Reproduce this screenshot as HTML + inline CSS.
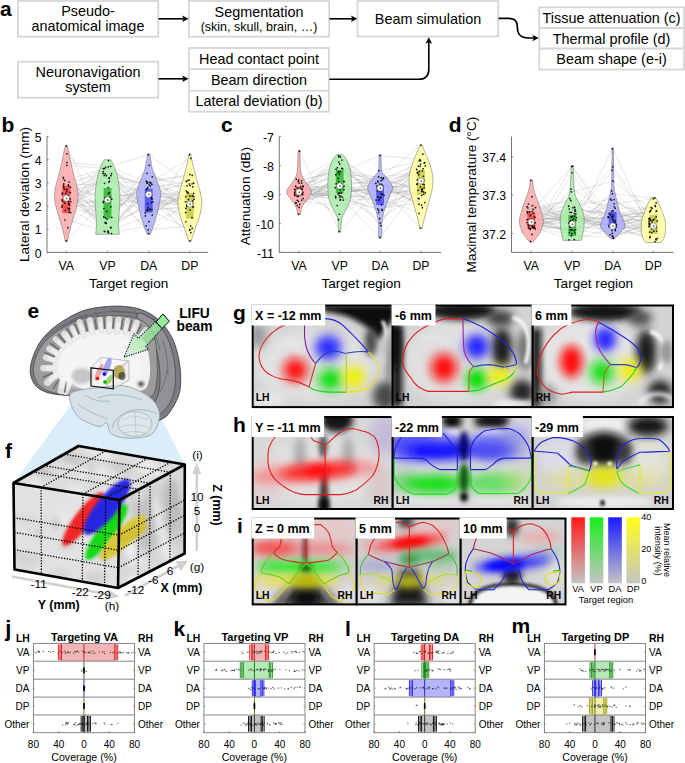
<!DOCTYPE html><html><head><meta charset="utf-8"><style>
html,body{margin:0;padding:0;background:#fff;}
svg{display:block;}
text{font-family:"Liberation Sans",sans-serif;}
</style></head><body>
<svg width="685" height="763" viewBox="0 0 685 763">
<defs><linearGradient id="arrg" x1="1" y1="0" x2="0" y2="1"><stop offset="0" stop-color="#8ee88e" stop-opacity="0.9"/><stop offset="1" stop-color="#b8e8b8" stop-opacity="0.5"/></linearGradient><clipPath id="cubeclip"><polygon points="13.5,483 78.5,446 184.8,464.5 184.6,553.5 118,588 14.5,569.5"/></clipPath><clipPath id="c1"><rect x="252.7" y="305.5" width="140.0" height="101.60000000000002"/></clipPath><clipPath id="c2"><rect x="392.7" y="305.5" width="140.00000000000006" height="101.60000000000002"/></clipPath><clipPath id="c3"><rect x="532.7" y="305.5" width="140.29999999999995" height="101.60000000000002"/></clipPath><clipPath id="c4"><rect x="252.7" y="417" width="140.0" height="92"/></clipPath><clipPath id="c5"><rect x="392.7" y="417" width="140.00000000000006" height="92"/></clipPath><clipPath id="c6"><rect x="532.7" y="417" width="140.29999999999995" height="92"/></clipPath><clipPath id="c7"><rect x="252.7" y="518.5" width="104.0" height="85.89999999999998"/></clipPath><clipPath id="c8"><rect x="356.7" y="518.5" width="104.0" height="85.89999999999998"/></clipPath><clipPath id="c9"><rect x="460.7" y="518.5" width="104.80000000000001" height="85.89999999999998"/></clipPath><linearGradient id="cb0" x1="0" y1="0" x2="0" y2="1"><stop offset="0" stop-color="#ff1a1a"/><stop offset="1" stop-color="#c4c4c4"/></linearGradient><linearGradient id="cb1" x1="0" y1="0" x2="0" y2="1"><stop offset="0" stop-color="#1aee1a"/><stop offset="1" stop-color="#c4c4c4"/></linearGradient><linearGradient id="cb2" x1="0" y1="0" x2="0" y2="1"><stop offset="0" stop-color="#1a1aff"/><stop offset="1" stop-color="#c4c4c4"/></linearGradient><linearGradient id="cb3" x1="0" y1="0" x2="0" y2="1"><stop offset="0" stop-color="#ffff1a"/><stop offset="1" stop-color="#c4c4c4"/></linearGradient><filter id="b0_5" x="-100%" y="-100%" width="300%" height="300%"><feGaussianBlur stdDeviation="0.5"/></filter><filter id="b1_2" x="-100%" y="-100%" width="300%" height="300%"><feGaussianBlur stdDeviation="1.2"/></filter><filter id="b1_5" x="-100%" y="-100%" width="300%" height="300%"><feGaussianBlur stdDeviation="1.5"/></filter><filter id="b1_6" x="-100%" y="-100%" width="300%" height="300%"><feGaussianBlur stdDeviation="1.6"/></filter><filter id="b2" x="-100%" y="-100%" width="300%" height="300%"><feGaussianBlur stdDeviation="2"/></filter><filter id="b2_5" x="-100%" y="-100%" width="300%" height="300%"><feGaussianBlur stdDeviation="2.5"/></filter><filter id="b3" x="-100%" y="-100%" width="300%" height="300%"><feGaussianBlur stdDeviation="3"/></filter><filter id="b4" x="-100%" y="-100%" width="300%" height="300%"><feGaussianBlur stdDeviation="4"/></filter><filter id="b5" x="-100%" y="-100%" width="300%" height="300%"><feGaussianBlur stdDeviation="5"/></filter><filter id="b5_5" x="-100%" y="-100%" width="300%" height="300%"><feGaussianBlur stdDeviation="5.5"/></filter><filter id="b6" x="-100%" y="-100%" width="300%" height="300%"><feGaussianBlur stdDeviation="6"/></filter><filter id="b8" x="-100%" y="-100%" width="300%" height="300%"><feGaussianBlur stdDeviation="8"/></filter></defs>
<text x="0.0" y="15.5" font-size="21" text-anchor="start" font-weight="bold" fill="#000" >a</text>
<rect x="18" y="1" width="140.2" height="35.7" fill="#fff" stroke="#d6d6d6" stroke-width="1.8"/>
<text x="88.0" y="15.5" font-size="14.4" text-anchor="middle" fill="#000" >Pseudo-</text>
<text x="88.0" y="31.0" font-size="14.4" text-anchor="middle" fill="#000" >anatomical image</text>
<rect x="18" y="61.7" width="140.2" height="36.0" fill="#fff" stroke="#d6d6d6" stroke-width="1.8"/>
<text x="88.0" y="76.5" font-size="14.4" text-anchor="middle" fill="#000" >Neuronavigation</text>
<text x="88.0" y="92.0" font-size="14.4" text-anchor="middle" fill="#000" >system</text>
<rect x="188.9" y="1" width="140.29999999999998" height="35.7" fill="#fff" stroke="#d6d6d6" stroke-width="1.8"/>
<text x="259.0" y="16.5" font-size="14.4" text-anchor="middle" fill="#000" >Segmentation</text>
<text x="259.0" y="31.0" font-size="12.5" text-anchor="middle" fill="#000" >(skin, skull, brain, …)</text>
<rect x="188.9" y="48" width="140.1" height="63.7" fill="#fff" stroke="#d6d6d6" stroke-width="1.8"/>
<line x1="188.9" y1="69.2" x2="329" y2="69.2" stroke="#d6d6d6" stroke-width="1.8"/>
<line x1="188.9" y1="90.7" x2="329" y2="90.7" stroke="#d6d6d6" stroke-width="1.8"/>
<text x="259.0" y="63.5" font-size="14.4" text-anchor="middle" fill="#000" >Head contact point</text>
<text x="259.0" y="85.0" font-size="14.4" text-anchor="middle" fill="#000" >Beam direction</text>
<text x="259.0" y="106.0" font-size="14.4" text-anchor="middle" fill="#000" >Lateral deviation (b)</text>
<rect x="357.5" y="1" width="140.7" height="35.5" fill="#fff" stroke="#d6d6d6" stroke-width="1.8"/>
<text x="428.0" y="24.0" font-size="14.4" text-anchor="middle" fill="#000" >Beam simulation</text>
<rect x="539.2" y="7.3" width="144.79999999999995" height="62.2" fill="#fff" stroke="#d6d6d6" stroke-width="1.8"/>
<line x1="539.2" y1="28" x2="684" y2="28" stroke="#d6d6d6" stroke-width="1.8"/>
<line x1="539.2" y1="48.5" x2="684" y2="48.5" stroke="#d6d6d6" stroke-width="1.8"/>
<text x="611.5" y="22.5" font-size="14.4" text-anchor="middle" fill="#000" >Tissue attenuation (c)</text>
<text x="611.5" y="43.5" font-size="14.4" text-anchor="middle" fill="#000" >Thermal profile (d)</text>
<text x="611.5" y="64.0" font-size="14.4" text-anchor="middle" fill="#000" >Beam shape (e-i)</text>
<line x1="158.5" y1="18.8" x2="184" y2="18.8" stroke="#000" stroke-width="1.6" fill="none"/>
<polygon points="188.6,18.8 182.1,15.5 183.6,18.8 182.1,22.1" fill="#000"/>
<line x1="158.5" y1="78.8" x2="184" y2="78.8" stroke="#000" stroke-width="1.6" fill="none"/>
<polygon points="188.6,78.8 182.1,75.5 183.6,78.8 182.1,82.1" fill="#000"/>
<line x1="329.5" y1="18.8" x2="353" y2="18.8" stroke="#000" stroke-width="1.6" fill="none"/>
<polygon points="357.4,18.8 350.9,15.5 352.4,18.8 350.9,22.1" fill="#000"/>
<path d="M329.5 79.3 H418.8 Q428.8 79.3 428.8 69.3 V42" stroke="#000" stroke-width="1.6" fill="none"/>
<polygon points="428.8,37.2 425.5,43.7 428.8,42.2 432.1,43.7" fill="#000"/>
<path d="M498.5 18.4 H508 C516 18.4 517.4 22 517.4 28 C517.4 34 521 38 528 38 H534" stroke="#000" stroke-width="1.6" fill="none"/>
<polygon points="538.8,38 532.3,34.7 533.8,38 532.3,41.3" fill="#000"/>
<text x="1.5" y="132.0" font-size="21" text-anchor="start" font-weight="bold" fill="#000" >b</text>
<polyline points="66.3,201.4 107.5,202.6 148.7,208.8 189.9,196.6" fill="none" stroke="#8a8a8a" stroke-width="0.32" stroke-opacity="0.65"/>
<polyline points="66.3,204.9 107.5,187.5 148.7,209.9 189.9,206.5" fill="none" stroke="#8a8a8a" stroke-width="0.32" stroke-opacity="0.65"/>
<polyline points="66.3,203.2 107.5,181.3 148.7,194.2 189.9,201.7" fill="none" stroke="#8a8a8a" stroke-width="0.32" stroke-opacity="0.65"/>
<polyline points="66.3,220.0 107.5,231.3 148.7,201.8 189.9,217.7" fill="none" stroke="#8a8a8a" stroke-width="0.32" stroke-opacity="0.65"/>
<polyline points="66.3,193.1 107.5,177.9 148.7,213.1 189.9,192.0" fill="none" stroke="#8a8a8a" stroke-width="0.32" stroke-opacity="0.65"/>
<polyline points="66.3,194.1 107.5,168.6 148.7,192.3 189.9,184.0" fill="none" stroke="#8a8a8a" stroke-width="0.32" stroke-opacity="0.65"/>
<polyline points="66.3,208.7 107.5,160.6 148.7,210.6 189.9,207.0" fill="none" stroke="#8a8a8a" stroke-width="0.32" stroke-opacity="0.65"/>
<polyline points="66.3,185.2 107.5,198.5 148.7,202.7 189.9,203.4" fill="none" stroke="#8a8a8a" stroke-width="0.32" stroke-opacity="0.65"/>
<polyline points="66.3,183.9 107.5,219.2 148.7,176.8 189.9,185.6" fill="none" stroke="#8a8a8a" stroke-width="0.32" stroke-opacity="0.65"/>
<polyline points="66.3,153.9 107.5,192.6 148.7,229.8 189.9,226.1" fill="none" stroke="#8a8a8a" stroke-width="0.32" stroke-opacity="0.65"/>
<polyline points="66.3,212.3 107.5,173.4 148.7,209.4 189.9,186.8" fill="none" stroke="#8a8a8a" stroke-width="0.32" stroke-opacity="0.65"/>
<polyline points="66.3,198.8 107.5,222.9 148.7,173.3 189.9,192.8" fill="none" stroke="#8a8a8a" stroke-width="0.32" stroke-opacity="0.65"/>
<polyline points="66.3,192.5 107.5,227.5 148.7,192.2 189.9,196.1" fill="none" stroke="#8a8a8a" stroke-width="0.32" stroke-opacity="0.65"/>
<polyline points="66.3,201.6 107.5,171.5 148.7,209.4 189.9,229.6" fill="none" stroke="#8a8a8a" stroke-width="0.32" stroke-opacity="0.65"/>
<polyline points="66.3,146.1 107.5,233.5 148.7,225.8 189.9,202.5" fill="none" stroke="#8a8a8a" stroke-width="0.32" stroke-opacity="0.65"/>
<polyline points="66.3,191.8 107.5,181.9 148.7,182.6 189.9,175.3" fill="none" stroke="#8a8a8a" stroke-width="0.32" stroke-opacity="0.65"/>
<polyline points="66.3,178.8 107.5,227.6 148.7,203.9 189.9,204.8" fill="none" stroke="#8a8a8a" stroke-width="0.32" stroke-opacity="0.65"/>
<polyline points="66.3,227.6 107.5,193.9 148.7,197.4 189.9,208.3" fill="none" stroke="#8a8a8a" stroke-width="0.32" stroke-opacity="0.65"/>
<polyline points="66.3,190.0 107.5,174.0 148.7,186.1 189.9,240.8" fill="none" stroke="#8a8a8a" stroke-width="0.32" stroke-opacity="0.65"/>
<polyline points="66.3,203.3 107.5,222.4 148.7,194.8 189.9,196.4" fill="none" stroke="#8a8a8a" stroke-width="0.32" stroke-opacity="0.65"/>
<polyline points="66.3,185.3 107.5,183.3 148.7,233.5 189.9,199.5" fill="none" stroke="#8a8a8a" stroke-width="0.32" stroke-opacity="0.65"/>
<polyline points="66.3,165.3 107.5,168.5 148.7,188.5 189.9,180.5" fill="none" stroke="#8a8a8a" stroke-width="0.32" stroke-opacity="0.65"/>
<polyline points="66.3,189.2 107.5,216.9 148.7,182.3 189.9,209.9" fill="none" stroke="#8a8a8a" stroke-width="0.32" stroke-opacity="0.65"/>
<polyline points="66.3,240.8 107.5,197.6 148.7,184.4 189.9,228.4" fill="none" stroke="#8a8a8a" stroke-width="0.32" stroke-opacity="0.65"/>
<polyline points="66.3,193.6 107.5,232.1 148.7,189.6 189.9,205.5" fill="none" stroke="#8a8a8a" stroke-width="0.32" stroke-opacity="0.65"/>
<polyline points="66.3,162.5 107.5,166.3 148.7,182.9 189.9,195.9" fill="none" stroke="#8a8a8a" stroke-width="0.32" stroke-opacity="0.65"/>
<polyline points="66.3,189.5 107.5,232.8 148.7,183.1 189.9,212.6" fill="none" stroke="#8a8a8a" stroke-width="0.32" stroke-opacity="0.65"/>
<polyline points="66.3,187.3 107.5,166.8 148.7,154.7 189.9,183.8" fill="none" stroke="#8a8a8a" stroke-width="0.32" stroke-opacity="0.65"/>
<polyline points="66.3,186.1 107.5,231.6 148.7,184.8 189.9,185.8" fill="none" stroke="#8a8a8a" stroke-width="0.32" stroke-opacity="0.65"/>
<polyline points="66.3,212.5 107.5,208.5 148.7,194.4 189.9,192.5" fill="none" stroke="#8a8a8a" stroke-width="0.32" stroke-opacity="0.65"/>
<polyline points="66.3,187.2 107.5,199.2 148.7,196.9 189.9,180.0" fill="none" stroke="#8a8a8a" stroke-width="0.32" stroke-opacity="0.65"/>
<polyline points="66.3,210.3 107.5,178.4 148.7,195.3 189.9,199.2" fill="none" stroke="#8a8a8a" stroke-width="0.32" stroke-opacity="0.65"/>
<polyline points="66.3,208.2 107.5,175.5 148.7,183.2 189.9,158.5" fill="none" stroke="#8a8a8a" stroke-width="0.32" stroke-opacity="0.65"/>
<polyline points="66.3,199.9 107.5,201.5 148.7,187.7 189.9,230.0" fill="none" stroke="#8a8a8a" stroke-width="0.32" stroke-opacity="0.65"/>
<polyline points="66.3,207.2 107.5,231.2 148.7,215.9 189.9,154.7" fill="none" stroke="#8a8a8a" stroke-width="0.32" stroke-opacity="0.65"/>
<polyline points="66.3,180.4 107.5,167.3 148.7,198.8 189.9,232.6" fill="none" stroke="#8a8a8a" stroke-width="0.32" stroke-opacity="0.65"/>
<polyline points="66.3,192.4 107.5,223.5 148.7,207.6 189.9,193.4" fill="none" stroke="#8a8a8a" stroke-width="0.32" stroke-opacity="0.65"/>
<polyline points="66.3,204.4 107.5,175.7 148.7,215.0 189.9,191.1" fill="none" stroke="#8a8a8a" stroke-width="0.32" stroke-opacity="0.65"/>
<polyline points="66.3,209.8 107.5,197.0 148.7,192.6 189.9,206.8" fill="none" stroke="#8a8a8a" stroke-width="0.32" stroke-opacity="0.65"/>
<polyline points="66.3,182.0 107.5,173.6 148.7,221.6 189.9,181.4" fill="none" stroke="#8a8a8a" stroke-width="0.32" stroke-opacity="0.65"/>
<polyline points="66.3,195.4 107.5,217.4 148.7,181.0 189.9,174.5" fill="none" stroke="#8a8a8a" stroke-width="0.32" stroke-opacity="0.65"/>
<polyline points="66.3,205.7 107.5,206.7 148.7,198.9 189.9,202.7" fill="none" stroke="#8a8a8a" stroke-width="0.32" stroke-opacity="0.65"/>
<polyline points="66.3,201.6 107.5,175.7 148.7,210.2 189.9,183.1" fill="none" stroke="#8a8a8a" stroke-width="0.32" stroke-opacity="0.65"/>
<polyline points="66.3,185.1 107.5,211.5 148.7,181.8 189.9,201.0" fill="none" stroke="#8a8a8a" stroke-width="0.32" stroke-opacity="0.65"/>
<polyline points="66.3,177.2 107.5,217.8 148.7,165.3 189.9,221.8" fill="none" stroke="#8a8a8a" stroke-width="0.32" stroke-opacity="0.65"/>
<path d="M67.10 145.30 L67.22 145.75 L67.38 146.32 L67.57 147.03 L67.80 147.87 L68.04 148.86 L68.30 150.00 L68.57 151.30 L68.85 152.76 L69.16 154.36 L69.49 156.10 L69.87 157.98 L70.30 160.00 L70.80 162.23 L71.36 164.70 L71.96 167.31 L72.58 169.96 L73.20 172.56 L73.80 175.00 L74.42 177.33 L75.07 179.63 L75.72 181.88 L76.34 184.04 L76.88 186.09 L77.30 188.00 L77.61 189.73 L77.83 191.30 L77.97 192.75 L78.05 194.15 L78.07 195.55 L78.05 197.00 L77.98 198.47 L77.86 199.89 L77.69 201.31 L77.46 202.78 L77.16 204.33 L76.80 206.00 L76.35 207.83 L75.80 209.78 L75.19 211.81 L74.55 213.89 L73.91 215.97 L73.30 218.00 L72.71 220.00 L72.10 222.01 L71.49 224.03 L70.89 226.03 L70.33 228.02 L69.80 230.00 L69.30 232.09 L68.80 234.33 L68.33 236.55 L67.91 238.61 L67.56 240.34 L67.30 241.60 L65.30 241.60 L65.04 240.34 L64.69 238.61 L64.27 236.55 L63.80 234.33 L63.30 232.09 L62.80 230.00 L62.27 228.02 L61.71 226.03 L61.11 224.03 L60.50 222.01 L59.89 220.00 L59.30 218.00 L58.69 215.97 L58.05 213.89 L57.41 211.81 L56.80 209.78 L56.25 207.83 L55.80 206.00 L55.44 204.33 L55.14 202.78 L54.91 201.31 L54.74 199.89 L54.62 198.47 L54.55 197.00 L54.53 195.55 L54.55 194.15 L54.63 192.75 L54.77 191.30 L54.99 189.73 L55.30 188.00 L55.72 186.09 L56.26 184.04 L56.88 181.88 L57.53 179.63 L58.18 177.33 L58.80 175.00 L59.40 172.56 L60.02 169.96 L60.64 167.31 L61.24 164.70 L61.80 162.23 L62.30 160.00 L62.73 157.98 L63.11 156.10 L63.44 154.36 L63.75 152.76 L64.03 151.30 L64.30 150.00 L64.56 148.86 L64.80 147.87 L65.03 147.03 L65.22 146.32 L65.38 145.75 L65.50 145.30Z" fill="#ffa8a8" fill-opacity="0.85" stroke="#555" stroke-width="0.45"/>
<rect x="62.40" y="185.9" width="7.8" height="27.20" fill="#ff4040" fill-opacity="0.85"/>
<circle cx="66.27" cy="146.10" r="0.85" fill="#111"/>
<circle cx="66.27" cy="240.80" r="0.85" fill="#111"/>
<circle cx="68.01" cy="208.23" r="0.85" fill="#111"/>
<circle cx="68.28" cy="195.44" r="0.85" fill="#111"/>
<circle cx="69.01" cy="182.05" r="0.85" fill="#111"/>
<circle cx="65.45" cy="210.30" r="0.85" fill="#111"/>
<circle cx="68.94" cy="204.36" r="0.85" fill="#111"/>
<circle cx="70.48" cy="187.29" r="0.85" fill="#111"/>
<circle cx="70.73" cy="201.59" r="0.85" fill="#111"/>
<circle cx="68.29" cy="185.06" r="0.85" fill="#111"/>
<circle cx="62.39" cy="193.12" r="0.85" fill="#111"/>
<circle cx="69.43" cy="208.65" r="0.85" fill="#111"/>
<circle cx="67.99" cy="227.65" r="0.85" fill="#111"/>
<circle cx="61.95" cy="199.92" r="0.85" fill="#111"/>
<circle cx="64.75" cy="203.21" r="0.85" fill="#111"/>
<circle cx="64.93" cy="219.98" r="0.85" fill="#111"/>
<circle cx="68.46" cy="185.18" r="0.85" fill="#111"/>
<circle cx="66.91" cy="162.49" r="0.85" fill="#111"/>
<circle cx="64.34" cy="189.19" r="0.85" fill="#111"/>
<circle cx="63.48" cy="178.77" r="0.85" fill="#111"/>
<circle cx="63.32" cy="177.24" r="0.85" fill="#111"/>
<circle cx="62.66" cy="201.43" r="0.85" fill="#111"/>
<circle cx="68.92" cy="203.28" r="0.85" fill="#111"/>
<circle cx="70.22" cy="192.43" r="0.85" fill="#111"/>
<circle cx="63.78" cy="183.93" r="0.85" fill="#111"/>
<circle cx="68.50" cy="201.63" r="0.85" fill="#111"/>
<circle cx="70.36" cy="192.48" r="0.85" fill="#111"/>
<circle cx="63.53" cy="185.28" r="0.85" fill="#111"/>
<circle cx="66.95" cy="189.47" r="0.85" fill="#111"/>
<circle cx="65.75" cy="193.56" r="0.85" fill="#111"/>
<circle cx="70.57" cy="212.50" r="0.85" fill="#111"/>
<circle cx="69.63" cy="204.92" r="0.85" fill="#111"/>
<circle cx="61.94" cy="207.18" r="0.85" fill="#111"/>
<circle cx="63.61" cy="187.22" r="0.85" fill="#111"/>
<circle cx="69.43" cy="209.82" r="0.85" fill="#111"/>
<circle cx="66.77" cy="165.30" r="0.85" fill="#111"/>
<circle cx="66.51" cy="189.96" r="0.85" fill="#111"/>
<circle cx="69.09" cy="212.25" r="0.85" fill="#111"/>
<circle cx="68.68" cy="186.08" r="0.85" fill="#111"/>
<circle cx="70.39" cy="198.80" r="0.85" fill="#111"/>
<circle cx="64.74" cy="180.38" r="0.85" fill="#111"/>
<circle cx="62.23" cy="205.69" r="0.85" fill="#111"/>
<circle cx="66.94" cy="153.87" r="0.85" fill="#111"/>
<circle cx="62.25" cy="194.08" r="0.85" fill="#111"/>
<circle cx="66.89" cy="191.77" r="0.85" fill="#111"/>
<circle cx="66.3" cy="198.1" r="3.1" fill="#fff" stroke="#777" stroke-width="0.6"/>
<circle cx="66.6" cy="198.29999999999998" r="0.9" fill="#666"/>
<path d="M110.90 159.80 L111.17 160.31 L111.54 160.97 L111.98 161.78 L112.47 162.72 L112.98 163.80 L113.50 165.00 L114.04 166.33 L114.64 167.79 L115.26 169.39 L115.87 171.12 L116.46 172.99 L117.00 175.00 L117.50 177.23 L117.99 179.70 L118.45 182.31 L118.87 184.96 L119.22 187.56 L119.50 190.00 L119.69 192.29 L119.80 194.52 L119.86 196.69 L119.86 198.81 L119.84 200.91 L119.80 203.00 L119.73 205.08 L119.60 207.15 L119.45 209.19 L119.29 211.19 L119.13 213.13 L119.00 215.00 L118.88 216.79 L118.76 218.51 L118.65 220.17 L118.56 221.79 L118.50 223.40 L118.50 225.00 L118.57 226.70 L118.70 228.50 L118.87 230.28 L119.04 231.91 L119.20 233.30 L119.30 234.30 L95.70 234.30 L95.80 233.30 L95.96 231.91 L96.13 230.28 L96.30 228.50 L96.43 226.70 L96.50 225.00 L96.50 223.40 L96.44 221.79 L96.35 220.17 L96.24 218.51 L96.12 216.79 L96.00 215.00 L95.87 213.13 L95.71 211.19 L95.55 209.19 L95.40 207.15 L95.27 205.08 L95.20 203.00 L95.16 200.91 L95.14 198.81 L95.14 196.69 L95.20 194.52 L95.31 192.29 L95.50 190.00 L95.78 187.56 L96.13 184.96 L96.55 182.31 L97.01 179.70 L97.50 177.23 L98.00 175.00 L98.54 172.99 L99.13 171.12 L99.74 169.39 L100.36 167.79 L100.96 166.33 L101.50 165.00 L102.02 163.80 L102.53 162.72 L103.02 161.78 L103.46 160.97 L103.83 160.31 L104.10 159.80Z" fill="#a8eca8" fill-opacity="0.85" stroke="#555" stroke-width="0.45"/>
<rect x="103.60" y="188" width="7.8" height="30.60" fill="#2fb52f" fill-opacity="0.85"/>
<circle cx="108.59" cy="160.60" r="0.85" fill="#111"/>
<circle cx="111.46" cy="233.50" r="0.85" fill="#111"/>
<circle cx="104.77" cy="197.63" r="0.85" fill="#111"/>
<circle cx="111.55" cy="173.56" r="0.85" fill="#111"/>
<circle cx="110.94" cy="206.73" r="0.85" fill="#111"/>
<circle cx="108.32" cy="166.81" r="0.85" fill="#111"/>
<circle cx="106.79" cy="211.46" r="0.85" fill="#111"/>
<circle cx="103.93" cy="208.52" r="0.85" fill="#111"/>
<circle cx="103.35" cy="171.53" r="0.85" fill="#111"/>
<circle cx="111.66" cy="199.16" r="0.85" fill="#111"/>
<circle cx="105.15" cy="173.97" r="0.85" fill="#111"/>
<circle cx="109.34" cy="192.62" r="0.85" fill="#111"/>
<circle cx="105.31" cy="198.47" r="0.85" fill="#111"/>
<circle cx="110.41" cy="197.03" r="0.85" fill="#111"/>
<circle cx="108.37" cy="193.87" r="0.85" fill="#111"/>
<circle cx="105.64" cy="222.40" r="0.85" fill="#111"/>
<circle cx="104.58" cy="183.29" r="0.85" fill="#111"/>
<circle cx="109.48" cy="181.33" r="0.85" fill="#111"/>
<circle cx="103.62" cy="216.89" r="0.85" fill="#111"/>
<circle cx="105.06" cy="222.87" r="0.85" fill="#111"/>
<circle cx="108.03" cy="231.17" r="0.85" fill="#111"/>
<circle cx="110.67" cy="227.62" r="0.85" fill="#111"/>
<circle cx="108.53" cy="232.84" r="0.85" fill="#111"/>
<circle cx="105.52" cy="217.80" r="0.85" fill="#111"/>
<circle cx="110.73" cy="166.29" r="0.85" fill="#111"/>
<circle cx="104.84" cy="231.62" r="0.85" fill="#111"/>
<circle cx="103.29" cy="168.59" r="0.85" fill="#111"/>
<circle cx="105.61" cy="167.33" r="0.85" fill="#111"/>
<circle cx="107.01" cy="219.18" r="0.85" fill="#111"/>
<circle cx="103.54" cy="201.47" r="0.85" fill="#111"/>
<circle cx="104.70" cy="168.48" r="0.85" fill="#111"/>
<circle cx="106.32" cy="175.66" r="0.85" fill="#111"/>
<circle cx="108.15" cy="232.13" r="0.85" fill="#111"/>
<circle cx="104.18" cy="175.50" r="0.85" fill="#111"/>
<circle cx="106.26" cy="223.45" r="0.85" fill="#111"/>
<circle cx="111.02" cy="175.69" r="0.85" fill="#111"/>
<circle cx="111.82" cy="217.37" r="0.85" fill="#111"/>
<circle cx="108.91" cy="181.88" r="0.85" fill="#111"/>
<circle cx="109.22" cy="177.90" r="0.85" fill="#111"/>
<circle cx="108.26" cy="187.49" r="0.85" fill="#111"/>
<circle cx="104.26" cy="231.26" r="0.85" fill="#111"/>
<circle cx="103.32" cy="202.61" r="0.85" fill="#111"/>
<circle cx="103.16" cy="173.42" r="0.85" fill="#111"/>
<circle cx="111.19" cy="227.48" r="0.85" fill="#111"/>
<circle cx="109.31" cy="178.39" r="0.85" fill="#111"/>
<circle cx="107.5" cy="199.8" r="3.1" fill="#fff" stroke="#777" stroke-width="0.6"/>
<circle cx="107.8" cy="200.0" r="0.9" fill="#666"/>
<path d="M149.90 153.90 L149.97 154.52 L150.06 155.34 L150.17 156.33 L150.31 157.45 L150.49 158.69 L150.70 160.00 L150.94 161.44 L151.20 163.04 L151.50 164.76 L151.84 166.52 L152.24 168.29 L152.70 170.00 L153.26 171.67 L153.90 173.33 L154.61 175.00 L155.33 176.67 L156.04 178.33 L156.70 180.00 L157.35 181.72 L158.02 183.52 L158.67 185.31 L159.28 187.04 L159.80 188.62 L160.20 190.00 L160.47 191.06 L160.63 191.85 L160.71 192.50 L160.71 193.15 L160.67 193.94 L160.60 195.00 L160.48 196.38 L160.31 197.96 L160.08 199.69 L159.81 201.48 L159.52 203.28 L159.20 205.00 L158.85 206.67 L158.47 208.33 L158.05 210.00 L157.61 211.67 L157.16 213.33 L156.70 215.00 L156.23 216.67 L155.76 218.36 L155.26 220.04 L154.76 221.72 L154.23 223.37 L153.70 225.00 L153.11 226.70 L152.44 228.50 L151.76 230.28 L151.13 231.91 L150.59 233.30 L150.20 234.30 L147.20 234.30 L146.81 233.30 L146.27 231.91 L145.64 230.28 L144.96 228.50 L144.29 226.70 L143.70 225.00 L143.17 223.37 L142.64 221.72 L142.14 220.04 L141.64 218.36 L141.17 216.67 L140.70 215.00 L140.24 213.33 L139.79 211.67 L139.35 210.00 L138.93 208.33 L138.55 206.67 L138.20 205.00 L137.88 203.28 L137.59 201.48 L137.32 199.69 L137.09 197.96 L136.92 196.38 L136.80 195.00 L136.73 193.94 L136.69 193.15 L136.69 192.50 L136.77 191.85 L136.93 191.06 L137.20 190.00 L137.60 188.62 L138.12 187.04 L138.72 185.31 L139.38 183.52 L140.05 181.72 L140.70 180.00 L141.36 178.33 L142.07 176.67 L142.79 175.00 L143.50 173.33 L144.14 171.67 L144.70 170.00 L145.16 168.29 L145.56 166.52 L145.90 164.76 L146.20 163.04 L146.46 161.44 L146.70 160.00 L146.91 158.69 L147.09 157.45 L147.22 156.33 L147.34 155.34 L147.43 154.52 L147.50 153.90Z" fill="#acacff" fill-opacity="0.85" stroke="#555" stroke-width="0.45"/>
<rect x="144.80" y="188.8" width="7.8" height="23.80" fill="#4848ff" fill-opacity="0.85"/>
<circle cx="148.31" cy="154.70" r="0.85" fill="#111"/>
<circle cx="148.61" cy="233.50" r="0.85" fill="#111"/>
<circle cx="151.89" cy="209.42" r="0.85" fill="#111"/>
<circle cx="151.69" cy="198.78" r="0.85" fill="#111"/>
<circle cx="146.25" cy="180.99" r="0.85" fill="#111"/>
<circle cx="148.97" cy="221.63" r="0.85" fill="#111"/>
<circle cx="151.05" cy="194.82" r="0.85" fill="#111"/>
<circle cx="147.76" cy="203.86" r="0.85" fill="#111"/>
<circle cx="150.26" cy="209.93" r="0.85" fill="#111"/>
<circle cx="150.17" cy="186.10" r="0.85" fill="#111"/>
<circle cx="152.95" cy="201.82" r="0.85" fill="#111"/>
<circle cx="149.18" cy="184.82" r="0.85" fill="#111"/>
<circle cx="150.33" cy="182.55" r="0.85" fill="#111"/>
<circle cx="147.35" cy="209.39" r="0.85" fill="#111"/>
<circle cx="150.79" cy="183.11" r="0.85" fill="#111"/>
<circle cx="147.10" cy="188.48" r="0.85" fill="#111"/>
<circle cx="148.70" cy="192.19" r="0.85" fill="#111"/>
<circle cx="147.45" cy="192.57" r="0.85" fill="#111"/>
<circle cx="146.96" cy="183.18" r="0.85" fill="#111"/>
<circle cx="145.42" cy="215.86" r="0.85" fill="#111"/>
<circle cx="146.95" cy="173.32" r="0.85" fill="#111"/>
<circle cx="149.10" cy="194.39" r="0.85" fill="#111"/>
<circle cx="146.47" cy="192.28" r="0.85" fill="#111"/>
<circle cx="146.14" cy="225.80" r="0.85" fill="#111"/>
<circle cx="151.43" cy="195.32" r="0.85" fill="#111"/>
<circle cx="146.77" cy="210.56" r="0.85" fill="#111"/>
<circle cx="152.22" cy="176.82" r="0.85" fill="#111"/>
<circle cx="149.59" cy="208.84" r="0.85" fill="#111"/>
<circle cx="147.70" cy="187.69" r="0.85" fill="#111"/>
<circle cx="152.06" cy="198.92" r="0.85" fill="#111"/>
<circle cx="152.28" cy="215.04" r="0.85" fill="#111"/>
<circle cx="147.09" cy="181.84" r="0.85" fill="#111"/>
<circle cx="145.33" cy="213.06" r="0.85" fill="#111"/>
<circle cx="149.97" cy="196.91" r="0.85" fill="#111"/>
<circle cx="151.78" cy="184.41" r="0.85" fill="#111"/>
<circle cx="149.68" cy="182.29" r="0.85" fill="#111"/>
<circle cx="151.26" cy="197.45" r="0.85" fill="#111"/>
<circle cx="147.91" cy="210.23" r="0.85" fill="#111"/>
<circle cx="149.13" cy="165.30" r="0.85" fill="#111"/>
<circle cx="146.57" cy="189.57" r="0.85" fill="#111"/>
<circle cx="147.86" cy="207.56" r="0.85" fill="#111"/>
<circle cx="148.24" cy="229.78" r="0.85" fill="#111"/>
<circle cx="147.66" cy="182.87" r="0.85" fill="#111"/>
<circle cx="147.80" cy="194.18" r="0.85" fill="#111"/>
<circle cx="151.46" cy="202.67" r="0.85" fill="#111"/>
<circle cx="148.7" cy="194.4" r="3.1" fill="#fff" stroke="#777" stroke-width="0.6"/>
<circle cx="149.0" cy="194.6" r="0.9" fill="#666"/>
<path d="M190.70 153.90 L190.92 155.06 L191.20 156.63 L191.55 158.51 L191.95 160.60 L192.40 162.80 L192.90 165.00 L193.46 167.27 L194.10 169.71 L194.79 172.26 L195.50 174.86 L196.21 177.45 L196.90 180.00 L197.60 182.58 L198.35 185.26 L199.09 187.94 L199.80 190.52 L200.41 192.91 L200.90 195.00 L201.26 196.69 L201.53 198.04 L201.72 199.19 L201.82 200.30 L201.85 201.52 L201.80 203.00 L201.68 204.76 L201.47 206.67 L201.19 208.69 L200.83 210.78 L200.40 212.90 L199.90 215.00 L199.30 217.10 L198.59 219.24 L197.81 221.40 L197.00 223.59 L196.18 225.79 L195.40 228.00 L194.60 230.39 L193.73 232.99 L192.87 235.61 L192.07 238.05 L191.39 240.11 L190.90 241.60 L188.90 241.60 L188.41 240.11 L187.73 238.05 L186.93 235.61 L186.07 232.99 L185.20 230.39 L184.40 228.00 L183.62 225.79 L182.80 223.59 L181.99 221.40 L181.21 219.24 L180.50 217.10 L179.90 215.00 L179.40 212.90 L178.97 210.78 L178.61 208.69 L178.33 206.67 L178.12 204.76 L178.00 203.00 L177.95 201.52 L177.98 200.30 L178.08 199.19 L178.27 198.04 L178.54 196.69 L178.90 195.00 L179.39 192.91 L180.00 190.52 L180.71 187.94 L181.45 185.26 L182.20 182.58 L182.90 180.00 L183.59 177.45 L184.30 174.86 L185.01 172.26 L185.70 169.71 L186.34 167.27 L186.90 165.00 L187.40 162.80 L187.85 160.60 L188.25 158.51 L188.60 156.63 L188.88 155.06 L189.10 153.90Z" fill="#ffffa0" fill-opacity="0.85" stroke="#555" stroke-width="0.45"/>
<rect x="186.00" y="193" width="7.8" height="25.60" fill="#c8c84a" fill-opacity="0.85"/>
<circle cx="189.54" cy="154.70" r="0.85" fill="#111"/>
<circle cx="190.01" cy="240.80" r="0.85" fill="#111"/>
<circle cx="185.71" cy="196.59" r="0.85" fill="#111"/>
<circle cx="192.79" cy="203.37" r="0.85" fill="#111"/>
<circle cx="187.01" cy="185.84" r="0.85" fill="#111"/>
<circle cx="186.38" cy="181.42" r="0.85" fill="#111"/>
<circle cx="190.70" cy="202.51" r="0.85" fill="#111"/>
<circle cx="188.17" cy="192.79" r="0.85" fill="#111"/>
<circle cx="193.37" cy="207.00" r="0.85" fill="#111"/>
<circle cx="189.88" cy="174.55" r="0.85" fill="#111"/>
<circle cx="190.09" cy="209.95" r="0.85" fill="#111"/>
<circle cx="192.91" cy="206.83" r="0.85" fill="#111"/>
<circle cx="187.33" cy="204.84" r="0.85" fill="#111"/>
<circle cx="192.11" cy="183.83" r="0.85" fill="#111"/>
<circle cx="191.24" cy="202.67" r="0.85" fill="#111"/>
<circle cx="189.26" cy="183.99" r="0.85" fill="#111"/>
<circle cx="194.03" cy="199.21" r="0.85" fill="#111"/>
<circle cx="185.60" cy="212.62" r="0.85" fill="#111"/>
<circle cx="192.24" cy="228.37" r="0.85" fill="#111"/>
<circle cx="186.69" cy="205.47" r="0.85" fill="#111"/>
<circle cx="192.25" cy="175.32" r="0.85" fill="#111"/>
<circle cx="186.78" cy="206.50" r="0.85" fill="#111"/>
<circle cx="185.88" cy="221.77" r="0.85" fill="#111"/>
<circle cx="189.91" cy="196.06" r="0.85" fill="#111"/>
<circle cx="193.73" cy="183.09" r="0.85" fill="#111"/>
<circle cx="187.72" cy="192.05" r="0.85" fill="#111"/>
<circle cx="189.82" cy="229.63" r="0.85" fill="#111"/>
<circle cx="190.70" cy="226.12" r="0.85" fill="#111"/>
<circle cx="187.71" cy="180.50" r="0.85" fill="#111"/>
<circle cx="190.17" cy="185.56" r="0.85" fill="#111"/>
<circle cx="185.49" cy="201.73" r="0.85" fill="#111"/>
<circle cx="189.61" cy="230.03" r="0.85" fill="#111"/>
<circle cx="192.24" cy="195.90" r="0.85" fill="#111"/>
<circle cx="188.46" cy="199.49" r="0.85" fill="#111"/>
<circle cx="187.38" cy="192.53" r="0.85" fill="#111"/>
<circle cx="185.86" cy="208.33" r="0.85" fill="#111"/>
<circle cx="190.86" cy="232.62" r="0.85" fill="#111"/>
<circle cx="189.29" cy="180.02" r="0.85" fill="#111"/>
<circle cx="190.75" cy="158.47" r="0.85" fill="#111"/>
<circle cx="192.06" cy="217.65" r="0.85" fill="#111"/>
<circle cx="186.30" cy="191.12" r="0.85" fill="#111"/>
<circle cx="193.63" cy="193.38" r="0.85" fill="#111"/>
<circle cx="193.79" cy="196.35" r="0.85" fill="#111"/>
<circle cx="192.75" cy="200.97" r="0.85" fill="#111"/>
<circle cx="192.88" cy="186.84" r="0.85" fill="#111"/>
<circle cx="189.9" cy="204" r="3.1" fill="#fff" stroke="#777" stroke-width="0.6"/>
<circle cx="190.20000000000002" cy="204.2" r="0.9" fill="#666"/>
<path d="M47 136.5 V252.4 H208.2" fill="none" stroke="#666" stroke-width="0.9"/>
<line x1="47" y1="252.40" x2="48.6" y2="252.40" stroke="#666" stroke-width="0.8"/>
<text x="41.6" y="257.5" font-size="12.3" text-anchor="end" fill="#000" >0</text>
<line x1="47" y1="229.22" x2="48.6" y2="229.22" stroke="#666" stroke-width="0.8"/>
<text x="41.6" y="234.3" font-size="12.3" text-anchor="end" fill="#000" >1</text>
<line x1="47" y1="206.04" x2="48.6" y2="206.04" stroke="#666" stroke-width="0.8"/>
<text x="41.6" y="211.1" font-size="12.3" text-anchor="end" fill="#000" >2</text>
<line x1="47" y1="182.86" x2="48.6" y2="182.86" stroke="#666" stroke-width="0.8"/>
<text x="41.6" y="188.0" font-size="12.3" text-anchor="end" fill="#000" >3</text>
<line x1="47" y1="159.68" x2="48.6" y2="159.68" stroke="#666" stroke-width="0.8"/>
<text x="41.6" y="164.8" font-size="12.3" text-anchor="end" fill="#000" >4</text>
<line x1="47" y1="136.50" x2="48.6" y2="136.50" stroke="#666" stroke-width="0.8"/>
<text x="41.6" y="141.6" font-size="12.3" text-anchor="end" fill="#000" >5</text>
<line x1="66.3" y1="252.4" x2="66.3" y2="250.8" stroke="#666" stroke-width="0.8"/>
<text x="66.3" y="270.0" font-size="12.3" text-anchor="middle" fill="#000" >VA</text>
<line x1="107.5" y1="252.4" x2="107.5" y2="250.8" stroke="#666" stroke-width="0.8"/>
<text x="107.5" y="270.0" font-size="12.3" text-anchor="middle" fill="#000" >VP</text>
<line x1="148.7" y1="252.4" x2="148.7" y2="250.8" stroke="#666" stroke-width="0.8"/>
<text x="148.7" y="270.0" font-size="12.3" text-anchor="middle" fill="#000" >DA</text>
<line x1="189.9" y1="252.4" x2="189.9" y2="250.8" stroke="#666" stroke-width="0.8"/>
<text x="189.9" y="270.0" font-size="12.3" text-anchor="middle" fill="#000" >DP</text>
<text x="128.6" y="287.5" font-size="13.6" text-anchor="middle" fill="#000" >Target region</text>
<text transform="translate(29.2,194.5) rotate(-90)" font-size="13.6" text-anchor="middle">Lateral deviation (mm)</text>
<text x="221.0" y="132.0" font-size="21" text-anchor="start" font-weight="bold" fill="#000" >c</text>
<polyline points="299.0,195.6 339.7,184.0 380.1,195.3 421.0,189.2" fill="none" stroke="#8a8a8a" stroke-width="0.32" stroke-opacity="0.65"/>
<polyline points="299.0,193.6 339.7,193.0 380.1,188.3 421.0,183.8" fill="none" stroke="#8a8a8a" stroke-width="0.32" stroke-opacity="0.65"/>
<polyline points="299.0,180.2 339.7,171.9 380.1,180.6 421.0,172.5" fill="none" stroke="#8a8a8a" stroke-width="0.32" stroke-opacity="0.65"/>
<polyline points="299.0,187.6 339.7,167.6 380.1,200.3 421.0,171.4" fill="none" stroke="#8a8a8a" stroke-width="0.32" stroke-opacity="0.65"/>
<polyline points="299.0,193.1 339.7,196.4 380.1,197.5 421.0,165.8" fill="none" stroke="#8a8a8a" stroke-width="0.32" stroke-opacity="0.65"/>
<polyline points="299.0,205.6 339.7,174.7 380.1,225.6 421.0,154.1" fill="none" stroke="#8a8a8a" stroke-width="0.32" stroke-opacity="0.65"/>
<polyline points="299.0,193.3 339.7,155.5 380.1,210.3 421.0,192.7" fill="none" stroke="#8a8a8a" stroke-width="0.32" stroke-opacity="0.65"/>
<polyline points="299.0,196.4 339.7,186.4 380.1,196.8 421.0,160.7" fill="none" stroke="#8a8a8a" stroke-width="0.32" stroke-opacity="0.65"/>
<polyline points="299.0,190.9 339.7,160.1 380.1,205.1 421.0,190.9" fill="none" stroke="#8a8a8a" stroke-width="0.32" stroke-opacity="0.65"/>
<polyline points="299.0,191.3 339.7,164.2 380.1,189.3 421.0,198.4" fill="none" stroke="#8a8a8a" stroke-width="0.32" stroke-opacity="0.65"/>
<polyline points="299.0,185.9 339.7,197.3 380.1,210.4 421.0,186.9" fill="none" stroke="#8a8a8a" stroke-width="0.32" stroke-opacity="0.65"/>
<polyline points="299.0,200.1 339.7,168.7 380.1,193.9 421.0,174.8" fill="none" stroke="#8a8a8a" stroke-width="0.32" stroke-opacity="0.65"/>
<polyline points="299.0,194.4 339.7,168.3 380.1,194.2 421.0,189.1" fill="none" stroke="#8a8a8a" stroke-width="0.32" stroke-opacity="0.65"/>
<polyline points="299.0,192.4 339.7,181.3 380.1,208.7 421.0,202.5" fill="none" stroke="#8a8a8a" stroke-width="0.32" stroke-opacity="0.65"/>
<polyline points="299.0,151.2 339.7,231.4 380.1,186.6 421.0,187.7" fill="none" stroke="#8a8a8a" stroke-width="0.32" stroke-opacity="0.65"/>
<polyline points="299.0,201.5 339.7,205.5 380.1,170.7 421.0,160.8" fill="none" stroke="#8a8a8a" stroke-width="0.32" stroke-opacity="0.65"/>
<polyline points="299.0,200.3 339.7,181.6 380.1,184.4 421.0,198.7" fill="none" stroke="#8a8a8a" stroke-width="0.32" stroke-opacity="0.65"/>
<polyline points="299.0,179.3 339.7,156.8 380.1,186.4 421.0,176.3" fill="none" stroke="#8a8a8a" stroke-width="0.32" stroke-opacity="0.65"/>
<polyline points="299.0,186.7 339.7,199.7 380.1,188.2 421.0,228.0" fill="none" stroke="#8a8a8a" stroke-width="0.32" stroke-opacity="0.65"/>
<polyline points="299.0,189.6 339.7,193.1 380.1,200.1 421.0,184.8" fill="none" stroke="#8a8a8a" stroke-width="0.32" stroke-opacity="0.65"/>
<polyline points="299.0,192.0 339.7,197.4 380.1,237.4 421.0,184.2" fill="none" stroke="#8a8a8a" stroke-width="0.32" stroke-opacity="0.65"/>
<polyline points="299.0,188.7 339.7,156.9 380.1,189.0 421.0,169.4" fill="none" stroke="#8a8a8a" stroke-width="0.32" stroke-opacity="0.65"/>
<polyline points="299.0,189.1 339.7,197.8 380.1,209.5 421.0,184.5" fill="none" stroke="#8a8a8a" stroke-width="0.32" stroke-opacity="0.65"/>
<polyline points="299.0,214.0 339.7,171.4 380.1,188.6 421.0,166.3" fill="none" stroke="#8a8a8a" stroke-width="0.32" stroke-opacity="0.65"/>
<polyline points="299.0,180.7 339.7,196.1 380.1,181.1 421.0,207.6" fill="none" stroke="#8a8a8a" stroke-width="0.32" stroke-opacity="0.65"/>
<polyline points="299.0,190.2 339.7,183.8 380.1,197.6 421.0,164.3" fill="none" stroke="#8a8a8a" stroke-width="0.32" stroke-opacity="0.65"/>
<polyline points="299.0,183.1 339.7,178.5 380.1,212.6 421.0,168.8" fill="none" stroke="#8a8a8a" stroke-width="0.32" stroke-opacity="0.65"/>
<polyline points="299.0,207.3 339.7,172.7 380.1,155.5 421.0,159.6" fill="none" stroke="#8a8a8a" stroke-width="0.32" stroke-opacity="0.65"/>
<polyline points="299.0,183.1 339.7,219.6 380.1,182.1 421.0,163.1" fill="none" stroke="#8a8a8a" stroke-width="0.32" stroke-opacity="0.65"/>
<polyline points="299.0,196.3 339.7,189.8 380.1,183.4 421.0,205.1" fill="none" stroke="#8a8a8a" stroke-width="0.32" stroke-opacity="0.65"/>
<polyline points="299.0,181.5 339.7,169.2 380.1,177.9 421.0,191.4" fill="none" stroke="#8a8a8a" stroke-width="0.32" stroke-opacity="0.65"/>
<polyline points="299.0,189.5 339.7,174.3 380.1,176.9 421.0,172.4" fill="none" stroke="#8a8a8a" stroke-width="0.32" stroke-opacity="0.65"/>
<polyline points="299.0,191.9 339.7,214.2 380.1,184.1 421.0,195.5" fill="none" stroke="#8a8a8a" stroke-width="0.32" stroke-opacity="0.65"/>
<polyline points="299.0,194.0 339.7,195.4 380.1,218.7 421.0,191.9" fill="none" stroke="#8a8a8a" stroke-width="0.32" stroke-opacity="0.65"/>
<polyline points="299.0,194.5 339.7,181.7 380.1,177.8 421.0,145.3" fill="none" stroke="#8a8a8a" stroke-width="0.32" stroke-opacity="0.65"/>
<polyline points="299.0,186.5 339.7,187.2 380.1,197.0 421.0,180.1" fill="none" stroke="#8a8a8a" stroke-width="0.32" stroke-opacity="0.65"/>
<polyline points="299.0,192.9 339.7,200.0 380.1,191.9 421.0,179.9" fill="none" stroke="#8a8a8a" stroke-width="0.32" stroke-opacity="0.65"/>
<polyline points="299.0,204.5 339.7,187.7 380.1,223.0 421.0,173.3" fill="none" stroke="#8a8a8a" stroke-width="0.32" stroke-opacity="0.65"/>
<polyline points="299.0,202.7 339.7,189.7 380.1,191.0 421.0,194.3" fill="none" stroke="#8a8a8a" stroke-width="0.32" stroke-opacity="0.65"/>
<polyline points="299.0,186.2 339.7,193.8 380.1,185.9 421.0,204.4" fill="none" stroke="#8a8a8a" stroke-width="0.32" stroke-opacity="0.65"/>
<polyline points="299.0,189.0 339.7,162.1 380.1,188.9 421.0,171.0" fill="none" stroke="#8a8a8a" stroke-width="0.32" stroke-opacity="0.65"/>
<polyline points="299.0,193.0 339.7,200.1 380.1,199.3 421.0,213.3" fill="none" stroke="#8a8a8a" stroke-width="0.32" stroke-opacity="0.65"/>
<polyline points="299.0,191.6 339.7,186.1 380.1,178.2 421.0,190.3" fill="none" stroke="#8a8a8a" stroke-width="0.32" stroke-opacity="0.65"/>
<polyline points="299.0,198.5 339.7,193.3 380.1,186.4 421.0,166.0" fill="none" stroke="#8a8a8a" stroke-width="0.32" stroke-opacity="0.65"/>
<polyline points="299.0,203.2 339.7,186.2 380.1,179.6 421.0,162.7" fill="none" stroke="#8a8a8a" stroke-width="0.32" stroke-opacity="0.65"/>
<path d="M300.00 150.40 L300.02 151.42 L300.04 152.80 L300.06 154.45 L300.10 156.27 L300.14 158.15 L300.20 160.00 L300.25 161.91 L300.27 163.97 L300.31 166.10 L300.39 168.21 L300.54 170.20 L300.80 172.00 L301.14 173.53 L301.52 174.85 L301.98 176.06 L302.53 177.26 L303.20 178.54 L304.00 180.00 L305.10 181.71 L306.52 183.59 L308.06 185.56 L309.50 187.52 L310.65 189.36 L311.30 191.00 L311.38 192.40 L311.05 193.63 L310.42 194.75 L309.62 195.81 L308.77 196.88 L308.00 198.00 L307.23 199.19 L306.35 200.41 L305.42 201.62 L304.51 202.81 L303.68 203.95 L303.00 205.00 L302.48 205.95 L302.06 206.82 L301.72 207.64 L301.44 208.42 L301.21 209.20 L301.00 210.00 L300.82 210.87 L300.70 211.79 L300.62 212.71 L300.57 213.56 L300.54 214.28 L300.50 214.80 L297.50 214.80 L297.46 214.28 L297.43 213.56 L297.38 212.71 L297.30 211.79 L297.18 210.87 L297.00 210.00 L296.79 209.20 L296.56 208.42 L296.28 207.64 L295.94 206.82 L295.52 205.95 L295.00 205.00 L294.32 203.95 L293.49 202.81 L292.58 201.62 L291.65 200.41 L290.77 199.19 L290.00 198.00 L289.23 196.88 L288.38 195.81 L287.58 194.75 L286.95 193.63 L286.62 192.40 L286.70 191.00 L287.35 189.36 L288.50 187.52 L289.94 185.56 L291.48 183.59 L292.90 181.71 L294.00 180.00 L294.80 178.54 L295.47 177.26 L296.02 176.06 L296.48 174.85 L296.86 173.53 L297.20 172.00 L297.46 170.20 L297.61 168.21 L297.69 166.10 L297.73 163.97 L297.75 161.91 L297.80 160.00 L297.86 158.15 L297.90 156.27 L297.94 154.45 L297.96 152.80 L297.98 151.42 L298.00 150.40Z" fill="#ffa8a8" fill-opacity="0.85" stroke="#555" stroke-width="0.45"/>
<rect x="295.10" y="187" width="7.8" height="9.00" fill="#ff4040" fill-opacity="0.85"/>
<circle cx="299.57" cy="151.20" r="0.85" fill="#111"/>
<circle cx="298.63" cy="214.00" r="0.85" fill="#111"/>
<circle cx="298.70" cy="191.93" r="0.85" fill="#111"/>
<circle cx="302.35" cy="189.02" r="0.85" fill="#111"/>
<circle cx="295.57" cy="186.19" r="0.85" fill="#111"/>
<circle cx="294.75" cy="189.53" r="0.85" fill="#111"/>
<circle cx="299.62" cy="204.46" r="0.85" fill="#111"/>
<circle cx="299.03" cy="207.34" r="0.85" fill="#111"/>
<circle cx="303.03" cy="192.35" r="0.85" fill="#111"/>
<circle cx="303.24" cy="198.52" r="0.85" fill="#111"/>
<circle cx="297.78" cy="193.05" r="0.85" fill="#111"/>
<circle cx="301.24" cy="193.33" r="0.85" fill="#111"/>
<circle cx="296.30" cy="179.28" r="0.85" fill="#111"/>
<circle cx="300.96" cy="193.96" r="0.85" fill="#111"/>
<circle cx="298.67" cy="180.19" r="0.85" fill="#111"/>
<circle cx="297.37" cy="187.60" r="0.85" fill="#111"/>
<circle cx="297.07" cy="196.44" r="0.85" fill="#111"/>
<circle cx="298.73" cy="190.22" r="0.85" fill="#111"/>
<circle cx="298.58" cy="189.12" r="0.85" fill="#111"/>
<circle cx="297.32" cy="200.27" r="0.85" fill="#111"/>
<circle cx="295.99" cy="203.21" r="0.85" fill="#111"/>
<circle cx="294.80" cy="195.62" r="0.85" fill="#111"/>
<circle cx="294.68" cy="189.62" r="0.85" fill="#111"/>
<circle cx="302.14" cy="192.85" r="0.85" fill="#111"/>
<circle cx="298.29" cy="190.88" r="0.85" fill="#111"/>
<circle cx="298.64" cy="191.56" r="0.85" fill="#111"/>
<circle cx="302.75" cy="194.35" r="0.85" fill="#111"/>
<circle cx="295.26" cy="191.96" r="0.85" fill="#111"/>
<circle cx="301.69" cy="183.09" r="0.85" fill="#111"/>
<circle cx="301.56" cy="180.73" r="0.85" fill="#111"/>
<circle cx="298.37" cy="196.30" r="0.85" fill="#111"/>
<circle cx="300.85" cy="193.59" r="0.85" fill="#111"/>
<circle cx="294.72" cy="194.55" r="0.85" fill="#111"/>
<circle cx="298.23" cy="181.55" r="0.85" fill="#111"/>
<circle cx="295.73" cy="202.72" r="0.85" fill="#111"/>
<circle cx="301.13" cy="188.71" r="0.85" fill="#111"/>
<circle cx="303.23" cy="186.71" r="0.85" fill="#111"/>
<circle cx="302.84" cy="185.87" r="0.85" fill="#111"/>
<circle cx="299.22" cy="183.06" r="0.85" fill="#111"/>
<circle cx="301.85" cy="200.09" r="0.85" fill="#111"/>
<circle cx="300.59" cy="186.53" r="0.85" fill="#111"/>
<circle cx="294.55" cy="192.97" r="0.85" fill="#111"/>
<circle cx="297.33" cy="191.33" r="0.85" fill="#111"/>
<circle cx="297.20" cy="205.58" r="0.85" fill="#111"/>
<circle cx="298.45" cy="201.47" r="0.85" fill="#111"/>
<circle cx="299" cy="192" r="3.1" fill="#fff" stroke="#777" stroke-width="0.6"/>
<circle cx="299.3" cy="192.2" r="0.9" fill="#666"/>
<path d="M342.70 154.70 L343.14 155.22 L343.76 155.90 L344.48 156.72 L345.26 157.69 L346.02 158.78 L346.70 160.00 L347.34 161.33 L347.98 162.76 L348.61 164.33 L349.21 166.05 L349.74 167.93 L350.20 170.00 L350.59 172.34 L350.93 174.96 L351.21 177.75 L351.42 180.59 L351.55 183.38 L351.60 186.00 L351.56 188.50 L351.46 190.96 L351.27 193.38 L351.00 195.70 L350.65 197.92 L350.20 200.00 L349.62 201.93 L348.89 203.74 L348.08 205.44 L347.24 207.04 L346.43 208.55 L345.70 210.00 L345.03 211.33 L344.37 212.52 L343.73 213.62 L343.14 214.70 L342.63 215.81 L342.20 217.00 L341.88 218.28 L341.66 219.62 L341.51 220.99 L341.40 222.36 L341.31 223.70 L341.20 225.00 L341.08 226.33 L340.98 227.73 L340.89 229.10 L340.81 230.36 L340.75 231.43 L340.70 232.20 L338.70 232.20 L338.65 231.43 L338.59 230.36 L338.51 229.10 L338.42 227.73 L338.32 226.33 L338.20 225.00 L338.09 223.70 L338.00 222.36 L337.89 220.99 L337.74 219.62 L337.52 218.28 L337.20 217.00 L336.77 215.81 L336.26 214.70 L335.67 213.62 L335.03 212.52 L334.37 211.33 L333.70 210.00 L332.97 208.55 L332.16 207.04 L331.32 205.44 L330.51 203.74 L329.78 201.93 L329.20 200.00 L328.75 197.92 L328.40 195.70 L328.13 193.38 L327.94 190.96 L327.84 188.50 L327.80 186.00 L327.85 183.38 L327.98 180.59 L328.19 177.75 L328.47 174.96 L328.81 172.34 L329.20 170.00 L329.66 167.93 L330.19 166.05 L330.79 164.33 L331.42 162.76 L332.06 161.33 L332.70 160.00 L333.38 158.78 L334.14 157.69 L334.92 156.72 L335.64 155.90 L336.26 155.22 L336.70 154.70Z" fill="#a8eca8" fill-opacity="0.85" stroke="#555" stroke-width="0.45"/>
<rect x="335.80" y="170" width="7.8" height="23.00" fill="#2fb52f" fill-opacity="0.85"/>
<circle cx="338.89" cy="155.50" r="0.85" fill="#111"/>
<circle cx="339.12" cy="231.40" r="0.85" fill="#111"/>
<circle cx="338.70" cy="171.44" r="0.85" fill="#111"/>
<circle cx="337.98" cy="193.84" r="0.85" fill="#111"/>
<circle cx="343.31" cy="200.07" r="0.85" fill="#111"/>
<circle cx="337.86" cy="172.73" r="0.85" fill="#111"/>
<circle cx="339.73" cy="193.26" r="0.85" fill="#111"/>
<circle cx="340.14" cy="189.82" r="0.85" fill="#111"/>
<circle cx="343.73" cy="181.28" r="0.85" fill="#111"/>
<circle cx="336.09" cy="169.19" r="0.85" fill="#111"/>
<circle cx="340.61" cy="199.71" r="0.85" fill="#111"/>
<circle cx="339.77" cy="164.19" r="0.85" fill="#111"/>
<circle cx="341.81" cy="186.44" r="0.85" fill="#111"/>
<circle cx="343.90" cy="189.68" r="0.85" fill="#111"/>
<circle cx="338.66" cy="156.78" r="0.85" fill="#111"/>
<circle cx="341.50" cy="193.14" r="0.85" fill="#111"/>
<circle cx="339.93" cy="197.36" r="0.85" fill="#111"/>
<circle cx="340.25" cy="171.91" r="0.85" fill="#111"/>
<circle cx="335.77" cy="197.83" r="0.85" fill="#111"/>
<circle cx="342.53" cy="168.70" r="0.85" fill="#111"/>
<circle cx="343.99" cy="181.69" r="0.85" fill="#111"/>
<circle cx="338.40" cy="181.56" r="0.85" fill="#111"/>
<circle cx="338.06" cy="178.46" r="0.85" fill="#111"/>
<circle cx="344.14" cy="186.24" r="0.85" fill="#111"/>
<circle cx="336.17" cy="183.81" r="0.85" fill="#111"/>
<circle cx="338.59" cy="219.57" r="0.85" fill="#111"/>
<circle cx="335.86" cy="174.69" r="0.85" fill="#111"/>
<circle cx="342.53" cy="187.22" r="0.85" fill="#111"/>
<circle cx="341.89" cy="160.08" r="0.85" fill="#111"/>
<circle cx="339.23" cy="195.44" r="0.85" fill="#111"/>
<circle cx="340.38" cy="156.89" r="0.85" fill="#111"/>
<circle cx="335.38" cy="187.72" r="0.85" fill="#111"/>
<circle cx="341.00" cy="196.11" r="0.85" fill="#111"/>
<circle cx="339.43" cy="214.24" r="0.85" fill="#111"/>
<circle cx="339.86" cy="199.99" r="0.85" fill="#111"/>
<circle cx="338.70" cy="186.13" r="0.85" fill="#111"/>
<circle cx="338.81" cy="162.05" r="0.85" fill="#111"/>
<circle cx="337.23" cy="205.49" r="0.85" fill="#111"/>
<circle cx="335.64" cy="196.45" r="0.85" fill="#111"/>
<circle cx="339.11" cy="192.97" r="0.85" fill="#111"/>
<circle cx="337.42" cy="167.57" r="0.85" fill="#111"/>
<circle cx="341.54" cy="183.98" r="0.85" fill="#111"/>
<circle cx="342.56" cy="197.33" r="0.85" fill="#111"/>
<circle cx="341.71" cy="168.29" r="0.85" fill="#111"/>
<circle cx="339.30" cy="174.30" r="0.85" fill="#111"/>
<circle cx="339.7" cy="186" r="3.1" fill="#fff" stroke="#777" stroke-width="0.6"/>
<circle cx="340.0" cy="186.2" r="0.9" fill="#666"/>
<path d="M381.10 154.70 L381.11 155.86 L381.13 157.49 L381.15 159.41 L381.18 161.43 L381.23 163.36 L381.30 165.00 L381.35 166.37 L381.37 167.61 L381.40 168.77 L381.50 169.86 L381.72 170.93 L382.10 172.00 L382.69 173.02 L383.44 173.96 L384.32 174.88 L385.25 175.81 L386.20 176.84 L387.10 178.00 L388.06 179.34 L389.14 180.81 L390.23 182.38 L391.22 183.96 L392.00 185.52 L392.45 187.00 L392.52 188.37 L392.30 189.67 L391.86 190.94 L391.29 192.22 L390.68 193.56 L390.10 195.00 L389.52 196.55 L388.85 198.19 L388.14 199.88 L387.42 201.59 L386.73 203.31 L386.10 205.00 L385.52 206.67 L384.97 208.33 L384.44 210.00 L383.95 211.67 L383.50 213.33 L383.10 215.00 L382.74 216.69 L382.42 218.41 L382.14 220.12 L381.91 221.81 L381.73 223.45 L381.60 225.00 L381.56 226.48 L381.61 227.92 L381.71 229.30 L381.81 230.61 L381.89 231.85 L381.90 233.00 L381.82 234.09 L381.69 235.13 L381.52 236.10 L381.35 236.96 L381.20 237.67 L381.10 238.20 L379.10 238.20 L379.00 237.67 L378.85 236.96 L378.68 236.10 L378.51 235.13 L378.38 234.09 L378.30 233.00 L378.31 231.85 L378.39 230.61 L378.49 229.30 L378.59 227.92 L378.64 226.48 L378.60 225.00 L378.47 223.45 L378.29 221.81 L378.06 220.12 L377.78 218.41 L377.46 216.69 L377.10 215.00 L376.70 213.33 L376.25 211.67 L375.76 210.00 L375.23 208.33 L374.68 206.67 L374.10 205.00 L373.47 203.31 L372.78 201.59 L372.06 199.88 L371.35 198.19 L370.68 196.55 L370.10 195.00 L369.52 193.56 L368.91 192.22 L368.34 190.94 L367.90 189.67 L367.68 188.37 L367.75 187.00 L368.20 185.52 L368.98 183.96 L369.97 182.38 L371.06 180.81 L372.14 179.34 L373.10 178.00 L374.00 176.84 L374.95 175.81 L375.88 174.88 L376.76 173.96 L377.51 173.02 L378.10 172.00 L378.48 170.93 L378.70 169.86 L378.80 168.77 L378.83 167.61 L378.85 166.37 L378.90 165.00 L378.97 163.36 L379.02 161.43 L379.05 159.41 L379.07 157.49 L379.09 155.86 L379.10 154.70Z" fill="#acacff" fill-opacity="0.85" stroke="#555" stroke-width="0.45"/>
<rect x="376.20" y="185" width="7.8" height="20.00" fill="#4848ff" fill-opacity="0.85"/>
<circle cx="379.90" cy="155.50" r="0.85" fill="#111"/>
<circle cx="379.94" cy="237.40" r="0.85" fill="#111"/>
<circle cx="382.27" cy="210.44" r="0.85" fill="#111"/>
<circle cx="380.85" cy="196.97" r="0.85" fill="#111"/>
<circle cx="379.73" cy="188.89" r="0.85" fill="#111"/>
<circle cx="381.28" cy="185.91" r="0.85" fill="#111"/>
<circle cx="376.04" cy="200.05" r="0.85" fill="#111"/>
<circle cx="381.78" cy="184.40" r="0.85" fill="#111"/>
<circle cx="382.87" cy="188.33" r="0.85" fill="#111"/>
<circle cx="381.64" cy="188.16" r="0.85" fill="#111"/>
<circle cx="378.85" cy="200.34" r="0.85" fill="#111"/>
<circle cx="378.17" cy="182.11" r="0.85" fill="#111"/>
<circle cx="379.01" cy="170.67" r="0.85" fill="#111"/>
<circle cx="377.65" cy="208.73" r="0.85" fill="#111"/>
<circle cx="378.56" cy="212.62" r="0.85" fill="#111"/>
<circle cx="379.68" cy="189.00" r="0.85" fill="#111"/>
<circle cx="382.60" cy="194.20" r="0.85" fill="#111"/>
<circle cx="377.55" cy="190.97" r="0.85" fill="#111"/>
<circle cx="379.85" cy="184.12" r="0.85" fill="#111"/>
<circle cx="381.21" cy="177.78" r="0.85" fill="#111"/>
<circle cx="381.27" cy="193.94" r="0.85" fill="#111"/>
<circle cx="375.78" cy="183.43" r="0.85" fill="#111"/>
<circle cx="380.87" cy="225.59" r="0.85" fill="#111"/>
<circle cx="380.87" cy="186.63" r="0.85" fill="#111"/>
<circle cx="378.66" cy="176.93" r="0.85" fill="#111"/>
<circle cx="378.72" cy="210.29" r="0.85" fill="#111"/>
<circle cx="381.45" cy="205.11" r="0.85" fill="#111"/>
<circle cx="383.99" cy="195.34" r="0.85" fill="#111"/>
<circle cx="379.62" cy="218.68" r="0.85" fill="#111"/>
<circle cx="379.18" cy="199.33" r="0.85" fill="#111"/>
<circle cx="380.22" cy="222.98" r="0.85" fill="#111"/>
<circle cx="377.17" cy="186.42" r="0.85" fill="#111"/>
<circle cx="379.25" cy="197.52" r="0.85" fill="#111"/>
<circle cx="383.56" cy="177.89" r="0.85" fill="#111"/>
<circle cx="380.61" cy="188.58" r="0.85" fill="#111"/>
<circle cx="381.91" cy="209.46" r="0.85" fill="#111"/>
<circle cx="377.96" cy="186.41" r="0.85" fill="#111"/>
<circle cx="383.25" cy="178.19" r="0.85" fill="#111"/>
<circle cx="382.64" cy="179.61" r="0.85" fill="#111"/>
<circle cx="377.63" cy="181.09" r="0.85" fill="#111"/>
<circle cx="380.37" cy="191.87" r="0.85" fill="#111"/>
<circle cx="381.74" cy="189.34" r="0.85" fill="#111"/>
<circle cx="380.76" cy="197.63" r="0.85" fill="#111"/>
<circle cx="381.02" cy="180.63" r="0.85" fill="#111"/>
<circle cx="377.76" cy="196.82" r="0.85" fill="#111"/>
<circle cx="380.1" cy="188" r="3.1" fill="#fff" stroke="#777" stroke-width="0.6"/>
<circle cx="380.40000000000003" cy="188.2" r="0.9" fill="#666"/>
<path d="M421.80 144.50 L422.26 145.65 L422.90 147.24 L423.65 149.12 L424.46 151.15 L425.26 153.16 L426.00 155.00 L426.69 156.66 L427.39 158.27 L428.08 159.86 L428.76 161.49 L429.40 163.18 L430.00 165.00 L430.59 166.97 L431.19 169.05 L431.76 171.21 L432.26 173.40 L432.65 175.58 L432.90 177.70 L433.01 179.74 L433.00 181.73 L432.88 183.71 L432.67 185.71 L432.37 187.80 L432.00 190.00 L431.51 192.37 L430.88 194.87 L430.16 197.46 L429.41 200.05 L428.67 202.58 L428.00 205.00 L427.38 207.31 L426.76 209.56 L426.16 211.76 L425.57 213.90 L425.02 215.98 L424.50 218.00 L424.00 220.05 L423.50 222.16 L423.03 224.21 L422.61 226.08 L422.26 227.65 L422.00 228.80 L420.00 228.80 L419.74 227.65 L419.39 226.08 L418.97 224.21 L418.50 222.16 L418.00 220.05 L417.50 218.00 L416.98 215.98 L416.43 213.90 L415.84 211.76 L415.24 209.56 L414.62 207.31 L414.00 205.00 L413.33 202.58 L412.59 200.05 L411.84 197.46 L411.12 194.87 L410.49 192.37 L410.00 190.00 L409.63 187.80 L409.33 185.71 L409.12 183.71 L409.00 181.73 L408.99 179.74 L409.10 177.70 L409.35 175.58 L409.74 173.40 L410.24 171.21 L410.81 169.05 L411.41 166.97 L412.00 165.00 L412.60 163.18 L413.24 161.49 L413.92 159.86 L414.61 158.27 L415.31 156.66 L416.00 155.00 L416.74 153.16 L417.54 151.15 L418.35 149.12 L419.10 147.24 L419.74 145.65 L420.20 144.50Z" fill="#ffffa0" fill-opacity="0.85" stroke="#555" stroke-width="0.45"/>
<rect x="417.10" y="170" width="7.8" height="25.00" fill="#c8c84a" fill-opacity="0.85"/>
<circle cx="420.95" cy="145.30" r="0.85" fill="#111"/>
<circle cx="420.46" cy="228.00" r="0.85" fill="#111"/>
<circle cx="421.59" cy="189.19" r="0.85" fill="#111"/>
<circle cx="420.49" cy="160.69" r="0.85" fill="#111"/>
<circle cx="424.22" cy="163.13" r="0.85" fill="#111"/>
<circle cx="418.93" cy="204.35" r="0.85" fill="#111"/>
<circle cx="424.16" cy="187.72" r="0.85" fill="#111"/>
<circle cx="418.73" cy="174.76" r="0.85" fill="#111"/>
<circle cx="425.34" cy="192.72" r="0.85" fill="#111"/>
<circle cx="422.21" cy="171.00" r="0.85" fill="#111"/>
<circle cx="416.88" cy="184.46" r="0.85" fill="#111"/>
<circle cx="423.76" cy="194.29" r="0.85" fill="#111"/>
<circle cx="418.98" cy="198.65" r="0.85" fill="#111"/>
<circle cx="419.87" cy="159.55" r="0.85" fill="#111"/>
<circle cx="418.98" cy="213.28" r="0.85" fill="#111"/>
<circle cx="422.88" cy="154.14" r="0.85" fill="#111"/>
<circle cx="417.31" cy="172.39" r="0.85" fill="#111"/>
<circle cx="423.14" cy="168.82" r="0.85" fill="#111"/>
<circle cx="420.06" cy="166.28" r="0.85" fill="#111"/>
<circle cx="422.35" cy="207.64" r="0.85" fill="#111"/>
<circle cx="419.18" cy="160.80" r="0.85" fill="#111"/>
<circle cx="417.20" cy="183.78" r="0.85" fill="#111"/>
<circle cx="424.74" cy="162.70" r="0.85" fill="#111"/>
<circle cx="422.39" cy="189.09" r="0.85" fill="#111"/>
<circle cx="418.03" cy="190.33" r="0.85" fill="#111"/>
<circle cx="425.29" cy="165.83" r="0.85" fill="#111"/>
<circle cx="424.71" cy="202.48" r="0.85" fill="#111"/>
<circle cx="418.14" cy="198.41" r="0.85" fill="#111"/>
<circle cx="416.67" cy="169.39" r="0.85" fill="#111"/>
<circle cx="422.00" cy="190.86" r="0.85" fill="#111"/>
<circle cx="417.75" cy="172.53" r="0.85" fill="#111"/>
<circle cx="423.09" cy="191.88" r="0.85" fill="#111"/>
<circle cx="420.72" cy="164.32" r="0.85" fill="#111"/>
<circle cx="422.88" cy="184.18" r="0.85" fill="#111"/>
<circle cx="421.58" cy="205.06" r="0.85" fill="#111"/>
<circle cx="423.44" cy="176.30" r="0.85" fill="#111"/>
<circle cx="423.89" cy="180.12" r="0.85" fill="#111"/>
<circle cx="421.93" cy="191.36" r="0.85" fill="#111"/>
<circle cx="421.82" cy="195.51" r="0.85" fill="#111"/>
<circle cx="419.44" cy="171.45" r="0.85" fill="#111"/>
<circle cx="417.71" cy="173.27" r="0.85" fill="#111"/>
<circle cx="417.33" cy="179.87" r="0.85" fill="#111"/>
<circle cx="424.21" cy="184.78" r="0.85" fill="#111"/>
<circle cx="418.35" cy="166.04" r="0.85" fill="#111"/>
<circle cx="420.34" cy="186.86" r="0.85" fill="#111"/>
<circle cx="421" cy="181" r="3.1" fill="#fff" stroke="#777" stroke-width="0.6"/>
<circle cx="421.3" cy="181.2" r="0.9" fill="#666"/>
<path d="M279.3 136.5 V252.4 H441" fill="none" stroke="#666" stroke-width="0.9"/>
<line x1="279.3" y1="136.50" x2="280.90000000000003" y2="136.50" stroke="#666" stroke-width="0.8"/>
<text x="273.9" y="141.6" font-size="12.3" text-anchor="end" fill="#000" >-7</text>
<line x1="279.3" y1="165.47" x2="280.90000000000003" y2="165.47" stroke="#666" stroke-width="0.8"/>
<text x="273.9" y="170.6" font-size="12.3" text-anchor="end" fill="#000" >-8</text>
<line x1="279.3" y1="194.44" x2="280.90000000000003" y2="194.44" stroke="#666" stroke-width="0.8"/>
<text x="273.9" y="199.5" font-size="12.3" text-anchor="end" fill="#000" >-9</text>
<line x1="279.3" y1="223.41" x2="280.90000000000003" y2="223.41" stroke="#666" stroke-width="0.8"/>
<text x="273.9" y="228.5" font-size="12.3" text-anchor="end" fill="#000" >-10</text>
<line x1="279.3" y1="252.38" x2="280.90000000000003" y2="252.38" stroke="#666" stroke-width="0.8"/>
<text x="273.9" y="257.5" font-size="12.3" text-anchor="end" fill="#000" >-11</text>
<line x1="299" y1="252.4" x2="299" y2="250.8" stroke="#666" stroke-width="0.8"/>
<text x="299.0" y="270.0" font-size="12.3" text-anchor="middle" fill="#000" >VA</text>
<line x1="339.7" y1="252.4" x2="339.7" y2="250.8" stroke="#666" stroke-width="0.8"/>
<text x="339.7" y="270.0" font-size="12.3" text-anchor="middle" fill="#000" >VP</text>
<line x1="380.1" y1="252.4" x2="380.1" y2="250.8" stroke="#666" stroke-width="0.8"/>
<text x="380.1" y="270.0" font-size="12.3" text-anchor="middle" fill="#000" >DA</text>
<line x1="421" y1="252.4" x2="421" y2="250.8" stroke="#666" stroke-width="0.8"/>
<text x="421.0" y="270.0" font-size="12.3" text-anchor="middle" fill="#000" >DP</text>
<text x="361.1" y="287.5" font-size="13.6" text-anchor="middle" fill="#000" >Target region</text>
<text transform="translate(249.9,196.2) rotate(-90)" font-size="13.6" text-anchor="middle">Attenuation (dB)</text>
<text x="448.8" y="132.0" font-size="21" text-anchor="start" font-weight="bold" fill="#000" >d</text>
<polyline points="531.3,215.5 572.2,233.0 612.7,190.9 653.4,226.7" fill="none" stroke="#8a8a8a" stroke-width="0.32" stroke-opacity="0.65"/>
<polyline points="531.3,227.9 572.2,189.1 612.7,213.8 653.4,218.7" fill="none" stroke="#8a8a8a" stroke-width="0.32" stroke-opacity="0.65"/>
<polyline points="531.3,223.1 572.2,223.1 612.7,203.8 653.4,198.8" fill="none" stroke="#8a8a8a" stroke-width="0.32" stroke-opacity="0.65"/>
<polyline points="531.3,212.0 572.2,198.7 612.7,206.8 653.4,231.1" fill="none" stroke="#8a8a8a" stroke-width="0.32" stroke-opacity="0.65"/>
<polyline points="531.3,225.9 572.2,216.8 612.7,224.5 653.4,232.5" fill="none" stroke="#8a8a8a" stroke-width="0.32" stroke-opacity="0.65"/>
<polyline points="531.3,219.6 572.2,218.8 612.7,217.1 653.4,211.0" fill="none" stroke="#8a8a8a" stroke-width="0.32" stroke-opacity="0.65"/>
<polyline points="531.3,211.6 572.2,166.6 612.7,220.7 653.4,219.7" fill="none" stroke="#8a8a8a" stroke-width="0.32" stroke-opacity="0.65"/>
<polyline points="531.3,228.8 572.2,233.7 612.7,219.5 653.4,238.3" fill="none" stroke="#8a8a8a" stroke-width="0.32" stroke-opacity="0.65"/>
<polyline points="531.3,222.5 572.2,232.6 612.7,199.6 653.4,219.6" fill="none" stroke="#8a8a8a" stroke-width="0.32" stroke-opacity="0.65"/>
<polyline points="531.3,213.0 572.2,210.7 612.7,166.8 653.4,221.8" fill="none" stroke="#8a8a8a" stroke-width="0.32" stroke-opacity="0.65"/>
<polyline points="531.3,228.9 572.2,220.0 612.7,216.7 653.4,232.1" fill="none" stroke="#8a8a8a" stroke-width="0.32" stroke-opacity="0.65"/>
<polyline points="531.3,225.1 572.2,191.8 612.7,181.2 653.4,210.9" fill="none" stroke="#8a8a8a" stroke-width="0.32" stroke-opacity="0.65"/>
<polyline points="531.3,224.9 572.2,229.9 612.7,217.7 653.4,211.2" fill="none" stroke="#8a8a8a" stroke-width="0.32" stroke-opacity="0.65"/>
<polyline points="531.3,222.5 572.2,214.0 612.7,230.6 653.4,236.7" fill="none" stroke="#8a8a8a" stroke-width="0.32" stroke-opacity="0.65"/>
<polyline points="531.3,180.5 572.2,239.6 612.7,210.6 653.4,239.9" fill="none" stroke="#8a8a8a" stroke-width="0.32" stroke-opacity="0.65"/>
<polyline points="531.3,206.6 572.2,207.1 612.7,219.0 653.4,226.8" fill="none" stroke="#8a8a8a" stroke-width="0.32" stroke-opacity="0.65"/>
<polyline points="531.3,227.1 572.2,217.6 612.7,226.5 653.4,210.1" fill="none" stroke="#8a8a8a" stroke-width="0.32" stroke-opacity="0.65"/>
<polyline points="531.3,218.7 572.2,207.7 612.7,214.5 653.4,212.0" fill="none" stroke="#8a8a8a" stroke-width="0.32" stroke-opacity="0.65"/>
<polyline points="531.3,211.7 572.2,216.1 612.7,225.3 653.4,241.6" fill="none" stroke="#8a8a8a" stroke-width="0.32" stroke-opacity="0.65"/>
<polyline points="531.3,225.8 572.2,229.5 612.7,208.2 653.4,207.6" fill="none" stroke="#8a8a8a" stroke-width="0.32" stroke-opacity="0.65"/>
<polyline points="531.3,223.4 572.2,211.5 612.7,238.2 653.4,220.2" fill="none" stroke="#8a8a8a" stroke-width="0.32" stroke-opacity="0.65"/>
<polyline points="531.3,228.2 572.2,212.4 612.7,235.8 653.4,229.0" fill="none" stroke="#8a8a8a" stroke-width="0.32" stroke-opacity="0.65"/>
<polyline points="531.3,209.4 572.2,222.9 612.7,225.5 653.4,239.2" fill="none" stroke="#8a8a8a" stroke-width="0.32" stroke-opacity="0.65"/>
<polyline points="531.3,241.3 572.2,172.7 612.7,233.4 653.4,202.9" fill="none" stroke="#8a8a8a" stroke-width="0.32" stroke-opacity="0.65"/>
<polyline points="531.3,220.2 572.2,209.0 612.7,215.0 653.4,206.5" fill="none" stroke="#8a8a8a" stroke-width="0.32" stroke-opacity="0.65"/>
<polyline points="531.3,204.0 572.2,221.4 612.7,226.7 653.4,218.2" fill="none" stroke="#8a8a8a" stroke-width="0.32" stroke-opacity="0.65"/>
<polyline points="531.3,217.0 572.2,229.9 612.7,222.7 653.4,231.0" fill="none" stroke="#8a8a8a" stroke-width="0.32" stroke-opacity="0.65"/>
<polyline points="531.3,223.1 572.2,230.6 612.7,148.7 653.4,237.7" fill="none" stroke="#8a8a8a" stroke-width="0.32" stroke-opacity="0.65"/>
<polyline points="531.3,207.9 572.2,217.3 612.7,170.5 653.4,226.7" fill="none" stroke="#8a8a8a" stroke-width="0.32" stroke-opacity="0.65"/>
<polyline points="531.3,205.6 572.2,213.6 612.7,221.8 653.4,219.0" fill="none" stroke="#8a8a8a" stroke-width="0.32" stroke-opacity="0.65"/>
<polyline points="531.3,226.2 572.2,212.3 612.7,211.3 653.4,225.4" fill="none" stroke="#8a8a8a" stroke-width="0.32" stroke-opacity="0.65"/>
<polyline points="531.3,219.6 572.2,216.8 612.7,219.5 653.4,205.7" fill="none" stroke="#8a8a8a" stroke-width="0.32" stroke-opacity="0.65"/>
<polyline points="531.3,213.1 572.2,223.8 612.7,216.4 653.4,216.9" fill="none" stroke="#8a8a8a" stroke-width="0.32" stroke-opacity="0.65"/>
<polyline points="531.3,229.5 572.2,226.8 612.7,229.3 653.4,224.4" fill="none" stroke="#8a8a8a" stroke-width="0.32" stroke-opacity="0.65"/>
<polyline points="531.3,196.7 572.2,227.0 612.7,193.7 653.4,198.1" fill="none" stroke="#8a8a8a" stroke-width="0.32" stroke-opacity="0.65"/>
<polyline points="531.3,217.4 572.2,220.6 612.7,224.7 653.4,225.4" fill="none" stroke="#8a8a8a" stroke-width="0.32" stroke-opacity="0.65"/>
<polyline points="531.3,212.0 572.2,206.2 612.7,199.1 653.4,225.5" fill="none" stroke="#8a8a8a" stroke-width="0.32" stroke-opacity="0.65"/>
<polyline points="531.3,234.4 572.2,166.2 612.7,230.6 653.4,220.4" fill="none" stroke="#8a8a8a" stroke-width="0.32" stroke-opacity="0.65"/>
<polyline points="531.3,227.2 572.2,239.8 612.7,228.3 653.4,228.0" fill="none" stroke="#8a8a8a" stroke-width="0.32" stroke-opacity="0.65"/>
<polyline points="531.3,215.0 572.2,235.9 612.7,237.0 653.4,221.1" fill="none" stroke="#8a8a8a" stroke-width="0.32" stroke-opacity="0.65"/>
<polyline points="531.3,221.6 572.2,229.8 612.7,234.8 653.4,224.7" fill="none" stroke="#8a8a8a" stroke-width="0.32" stroke-opacity="0.65"/>
<polyline points="531.3,222.9 572.2,209.4 612.7,226.3 653.4,208.2" fill="none" stroke="#8a8a8a" stroke-width="0.32" stroke-opacity="0.65"/>
<polyline points="531.3,227.1 572.2,216.0 612.7,225.6 653.4,219.0" fill="none" stroke="#8a8a8a" stroke-width="0.32" stroke-opacity="0.65"/>
<polyline points="531.3,211.7 572.2,220.2 612.7,200.3 653.4,223.1" fill="none" stroke="#8a8a8a" stroke-width="0.32" stroke-opacity="0.65"/>
<polyline points="531.3,207.6 572.2,200.6 612.7,216.9 653.4,221.6" fill="none" stroke="#8a8a8a" stroke-width="0.32" stroke-opacity="0.65"/>
<path d="M532.30 179.70 L532.44 180.82 L532.61 182.38 L532.83 184.22 L533.10 186.21 L533.42 188.18 L533.80 190.00 L534.26 191.66 L534.80 193.28 L535.39 194.89 L536.02 196.53 L536.66 198.22 L537.30 200.00 L537.96 201.91 L538.67 203.93 L539.40 206.00 L540.10 208.07 L540.75 210.09 L541.30 212.00 L541.79 213.78 L542.27 215.48 L542.68 217.12 L543.00 218.74 L543.19 220.36 L543.20 222.00 L543.01 223.71 L542.63 225.48 L542.12 227.25 L541.53 228.96 L540.90 230.56 L540.30 232.00 L539.69 233.25 L539.03 234.37 L538.34 235.37 L537.64 236.29 L536.95 237.16 L536.30 238.00 L535.65 238.84 L534.97 239.66 L534.30 240.43 L533.69 241.11 L533.17 241.68 L532.80 242.10 L529.80 242.10 L529.42 241.68 L528.91 241.11 L528.30 240.43 L527.63 239.66 L526.95 238.84 L526.30 238.00 L525.65 237.16 L524.96 236.29 L524.26 235.37 L523.57 234.37 L522.91 233.25 L522.30 232.00 L521.70 230.56 L521.07 228.96 L520.48 227.25 L519.97 225.48 L519.59 223.71 L519.40 222.00 L519.41 220.36 L519.60 218.74 L519.92 217.12 L520.33 215.48 L520.81 213.78 L521.30 212.00 L521.85 210.09 L522.50 208.07 L523.20 206.00 L523.93 203.93 L524.64 201.91 L525.30 200.00 L525.94 198.22 L526.58 196.53 L527.21 194.89 L527.80 193.28 L528.34 191.66 L528.80 190.00 L529.18 188.18 L529.50 186.21 L529.77 184.22 L529.99 182.38 L530.16 180.82 L530.30 179.70Z" fill="#ffa8a8" fill-opacity="0.85" stroke="#555" stroke-width="0.45"/>
<rect x="527.40" y="213" width="7.8" height="16.00" fill="#ff4040" fill-opacity="0.85"/>
<circle cx="530.78" cy="180.50" r="0.85" fill="#111"/>
<circle cx="530.46" cy="241.30" r="0.85" fill="#111"/>
<circle cx="527.43" cy="213.10" r="0.85" fill="#111"/>
<circle cx="532.74" cy="221.63" r="0.85" fill="#111"/>
<circle cx="530.62" cy="215.00" r="0.85" fill="#111"/>
<circle cx="527.95" cy="219.56" r="0.85" fill="#111"/>
<circle cx="531.89" cy="234.43" r="0.85" fill="#111"/>
<circle cx="534.69" cy="223.08" r="0.85" fill="#111"/>
<circle cx="535.15" cy="222.51" r="0.85" fill="#111"/>
<circle cx="527.50" cy="211.67" r="0.85" fill="#111"/>
<circle cx="532.39" cy="225.85" r="0.85" fill="#111"/>
<circle cx="532.33" cy="211.57" r="0.85" fill="#111"/>
<circle cx="531.11" cy="218.73" r="0.85" fill="#111"/>
<circle cx="530.16" cy="229.45" r="0.85" fill="#111"/>
<circle cx="531.00" cy="223.05" r="0.85" fill="#111"/>
<circle cx="529.89" cy="212.02" r="0.85" fill="#111"/>
<circle cx="530.33" cy="228.84" r="0.85" fill="#111"/>
<circle cx="528.49" cy="204.02" r="0.85" fill="#111"/>
<circle cx="533.04" cy="209.42" r="0.85" fill="#111"/>
<circle cx="534.48" cy="227.14" r="0.85" fill="#111"/>
<circle cx="535.52" cy="207.63" r="0.85" fill="#111"/>
<circle cx="530.16" cy="215.53" r="0.85" fill="#111"/>
<circle cx="528.90" cy="225.83" r="0.85" fill="#111"/>
<circle cx="529.08" cy="212.01" r="0.85" fill="#111"/>
<circle cx="526.99" cy="222.54" r="0.85" fill="#111"/>
<circle cx="532.82" cy="227.08" r="0.85" fill="#111"/>
<circle cx="528.10" cy="224.85" r="0.85" fill="#111"/>
<circle cx="531.31" cy="223.38" r="0.85" fill="#111"/>
<circle cx="534.58" cy="217.05" r="0.85" fill="#111"/>
<circle cx="533.12" cy="220.20" r="0.85" fill="#111"/>
<circle cx="532.47" cy="205.56" r="0.85" fill="#111"/>
<circle cx="533.70" cy="227.91" r="0.85" fill="#111"/>
<circle cx="531.94" cy="196.67" r="0.85" fill="#111"/>
<circle cx="534.22" cy="226.15" r="0.85" fill="#111"/>
<circle cx="532.30" cy="227.21" r="0.85" fill="#111"/>
<circle cx="528.83" cy="228.20" r="0.85" fill="#111"/>
<circle cx="527.43" cy="211.75" r="0.85" fill="#111"/>
<circle cx="535.24" cy="228.90" r="0.85" fill="#111"/>
<circle cx="527.82" cy="207.89" r="0.85" fill="#111"/>
<circle cx="531.59" cy="225.13" r="0.85" fill="#111"/>
<circle cx="534.69" cy="217.39" r="0.85" fill="#111"/>
<circle cx="534.35" cy="222.86" r="0.85" fill="#111"/>
<circle cx="533.61" cy="212.99" r="0.85" fill="#111"/>
<circle cx="527.22" cy="219.61" r="0.85" fill="#111"/>
<circle cx="527.08" cy="206.60" r="0.85" fill="#111"/>
<circle cx="531.3" cy="222" r="3.1" fill="#fff" stroke="#777" stroke-width="0.6"/>
<circle cx="531.5999999999999" cy="222.2" r="0.9" fill="#666"/>
<path d="M573.20 165.80 L573.24 167.34 L573.29 169.45 L573.36 171.96 L573.44 174.68 L573.55 177.42 L573.70 180.00 L573.85 182.51 L574.00 185.13 L574.17 187.76 L574.40 190.34 L574.74 192.78 L575.20 195.00 L575.85 196.96 L576.66 198.70 L577.58 200.31 L578.51 201.85 L579.41 203.39 L580.20 205.00 L580.91 206.68 L581.59 208.37 L582.24 210.06 L582.82 211.74 L583.31 213.39 L583.70 215.00 L583.96 216.57 L584.11 218.11 L584.18 219.62 L584.18 221.11 L584.14 222.57 L584.10 224.00 L584.04 225.39 L583.94 226.73 L583.80 228.04 L583.63 229.34 L583.43 230.66 L583.20 232.00 L582.91 233.47 L582.54 235.08 L582.14 236.70 L581.76 238.21 L581.43 239.48 L581.20 240.40 L563.20 240.40 L562.97 239.48 L562.64 238.21 L562.26 236.70 L561.86 235.08 L561.49 233.47 L561.20 232.00 L560.97 230.66 L560.77 229.34 L560.60 228.04 L560.46 226.73 L560.36 225.39 L560.30 224.00 L560.26 222.57 L560.22 221.11 L560.23 219.62 L560.29 218.11 L560.44 216.57 L560.70 215.00 L561.09 213.39 L561.58 211.74 L562.16 210.06 L562.81 208.37 L563.49 206.68 L564.20 205.00 L564.99 203.39 L565.89 201.85 L566.83 200.31 L567.74 198.70 L568.55 196.96 L569.20 195.00 L569.66 192.78 L570.00 190.34 L570.23 187.76 L570.40 185.13 L570.55 182.51 L570.70 180.00 L570.85 177.42 L570.96 174.68 L571.04 171.96 L571.11 169.45 L571.16 167.34 L571.20 165.80Z" fill="#a8eca8" fill-opacity="0.85" stroke="#555" stroke-width="0.45"/>
<rect x="568.30" y="215" width="7.8" height="21.00" fill="#2fb52f" fill-opacity="0.85"/>
<circle cx="571.63" cy="166.60" r="0.85" fill="#111"/>
<circle cx="574.27" cy="239.60" r="0.85" fill="#111"/>
<circle cx="572.13" cy="172.75" r="0.85" fill="#111"/>
<circle cx="571.31" cy="235.91" r="0.85" fill="#111"/>
<circle cx="575.05" cy="209.43" r="0.85" fill="#111"/>
<circle cx="574.32" cy="230.58" r="0.85" fill="#111"/>
<circle cx="575.89" cy="220.24" r="0.85" fill="#111"/>
<circle cx="574.35" cy="213.61" r="0.85" fill="#111"/>
<circle cx="575.89" cy="214.05" r="0.85" fill="#111"/>
<circle cx="571.55" cy="212.33" r="0.85" fill="#111"/>
<circle cx="572.70" cy="216.12" r="0.85" fill="#111"/>
<circle cx="574.76" cy="210.66" r="0.85" fill="#111"/>
<circle cx="571.78" cy="233.69" r="0.85" fill="#111"/>
<circle cx="568.94" cy="239.78" r="0.85" fill="#111"/>
<circle cx="572.97" cy="207.70" r="0.85" fill="#111"/>
<circle cx="575.54" cy="229.52" r="0.85" fill="#111"/>
<circle cx="575.53" cy="211.51" r="0.85" fill="#111"/>
<circle cx="568.83" cy="223.06" r="0.85" fill="#111"/>
<circle cx="571.13" cy="222.91" r="0.85" fill="#111"/>
<circle cx="571.33" cy="191.81" r="0.85" fill="#111"/>
<circle cx="570.77" cy="227.03" r="0.85" fill="#111"/>
<circle cx="576.34" cy="217.64" r="0.85" fill="#111"/>
<circle cx="571.49" cy="229.94" r="0.85" fill="#111"/>
<circle cx="570.90" cy="200.63" r="0.85" fill="#111"/>
<circle cx="570.15" cy="221.37" r="0.85" fill="#111"/>
<circle cx="571.66" cy="217.28" r="0.85" fill="#111"/>
<circle cx="573.73" cy="218.85" r="0.85" fill="#111"/>
<circle cx="570.78" cy="220.64" r="0.85" fill="#111"/>
<circle cx="569.38" cy="232.60" r="0.85" fill="#111"/>
<circle cx="569.73" cy="226.80" r="0.85" fill="#111"/>
<circle cx="570.04" cy="212.42" r="0.85" fill="#111"/>
<circle cx="572.69" cy="166.22" r="0.85" fill="#111"/>
<circle cx="569.22" cy="209.02" r="0.85" fill="#111"/>
<circle cx="574.49" cy="223.78" r="0.85" fill="#111"/>
<circle cx="568.67" cy="206.15" r="0.85" fill="#111"/>
<circle cx="574.77" cy="216.03" r="0.85" fill="#111"/>
<circle cx="570.09" cy="229.83" r="0.85" fill="#111"/>
<circle cx="574.72" cy="207.15" r="0.85" fill="#111"/>
<circle cx="571.59" cy="216.83" r="0.85" fill="#111"/>
<circle cx="570.98" cy="189.12" r="0.85" fill="#111"/>
<circle cx="569.85" cy="198.66" r="0.85" fill="#111"/>
<circle cx="574.90" cy="233.00" r="0.85" fill="#111"/>
<circle cx="572.58" cy="220.05" r="0.85" fill="#111"/>
<circle cx="572.07" cy="229.88" r="0.85" fill="#111"/>
<circle cx="570.87" cy="216.84" r="0.85" fill="#111"/>
<circle cx="572.2" cy="224" r="3.1" fill="#fff" stroke="#777" stroke-width="0.6"/>
<circle cx="572.5" cy="224.2" r="0.9" fill="#666"/>
<path d="M613.30 147.90 L613.34 151.00 L613.40 155.41 L613.47 160.58 L613.54 165.93 L613.62 170.93 L613.70 175.00 L613.75 178.13 L613.79 180.75 L613.82 183.01 L613.88 185.04 L614.00 186.99 L614.20 189.00 L614.50 191.00 L614.87 192.85 L615.29 194.62 L615.76 196.37 L616.23 198.14 L616.70 200.00 L617.14 201.93 L617.58 203.87 L618.02 205.85 L618.51 207.86 L619.06 209.91 L619.70 212.00 L620.57 214.23 L621.67 216.61 L622.83 219.04 L623.90 221.39 L624.69 223.54 L625.05 225.40 L624.91 226.89 L624.40 228.09 L623.62 229.10 L622.67 230.02 L621.66 230.96 L620.70 232.00 L619.67 233.22 L618.45 234.56 L617.18 235.91 L615.96 237.17 L614.93 238.23 L614.20 239.00 L611.20 239.00 L610.47 238.23 L609.44 237.17 L608.22 235.91 L606.95 234.56 L605.73 233.22 L604.70 232.00 L603.74 230.96 L602.73 230.02 L601.78 229.10 L601.00 228.09 L600.49 226.89 L600.35 225.40 L600.71 223.54 L601.50 221.39 L602.57 219.04 L603.73 216.61 L604.83 214.23 L605.70 212.00 L606.34 209.91 L606.89 207.86 L607.38 205.85 L607.82 203.87 L608.26 201.93 L608.70 200.00 L609.17 198.14 L609.64 196.37 L610.11 194.62 L610.53 192.85 L610.90 191.00 L611.20 189.00 L611.40 186.99 L611.52 185.04 L611.58 183.01 L611.61 180.75 L611.65 178.13 L611.70 175.00 L611.78 170.93 L611.86 165.93 L611.93 160.58 L612.00 155.41 L612.06 151.00 L612.10 147.90Z" fill="#acacff" fill-opacity="0.85" stroke="#555" stroke-width="0.45"/>
<rect x="608.80" y="212" width="7.8" height="16.00" fill="#4848ff" fill-opacity="0.85"/>
<circle cx="612.44" cy="148.70" r="0.85" fill="#111"/>
<circle cx="613.44" cy="238.20" r="0.85" fill="#111"/>
<circle cx="608.30" cy="216.70" r="0.85" fill="#111"/>
<circle cx="616.41" cy="224.68" r="0.85" fill="#111"/>
<circle cx="610.00" cy="234.76" r="0.85" fill="#111"/>
<circle cx="613.10" cy="236.97" r="0.85" fill="#111"/>
<circle cx="615.21" cy="208.19" r="0.85" fill="#111"/>
<circle cx="608.96" cy="226.48" r="0.85" fill="#111"/>
<circle cx="609.12" cy="213.76" r="0.85" fill="#111"/>
<circle cx="613.89" cy="225.33" r="0.85" fill="#111"/>
<circle cx="614.20" cy="206.77" r="0.85" fill="#111"/>
<circle cx="612.15" cy="170.47" r="0.85" fill="#111"/>
<circle cx="612.42" cy="219.01" r="0.85" fill="#111"/>
<circle cx="615.35" cy="230.56" r="0.85" fill="#111"/>
<circle cx="615.18" cy="222.70" r="0.85" fill="#111"/>
<circle cx="612.13" cy="235.84" r="0.85" fill="#111"/>
<circle cx="608.27" cy="217.68" r="0.85" fill="#111"/>
<circle cx="613.76" cy="228.35" r="0.85" fill="#111"/>
<circle cx="613.03" cy="216.45" r="0.85" fill="#111"/>
<circle cx="612.46" cy="193.72" r="0.85" fill="#111"/>
<circle cx="612.84" cy="181.17" r="0.85" fill="#111"/>
<circle cx="613.46" cy="221.79" r="0.85" fill="#111"/>
<circle cx="612.53" cy="217.07" r="0.85" fill="#111"/>
<circle cx="613.09" cy="210.64" r="0.85" fill="#111"/>
<circle cx="613.25" cy="219.54" r="0.85" fill="#111"/>
<circle cx="615.15" cy="220.71" r="0.85" fill="#111"/>
<circle cx="614.07" cy="199.61" r="0.85" fill="#111"/>
<circle cx="611.59" cy="190.93" r="0.85" fill="#111"/>
<circle cx="615.26" cy="229.27" r="0.85" fill="#111"/>
<circle cx="610.39" cy="226.26" r="0.85" fill="#111"/>
<circle cx="612.00" cy="230.57" r="0.85" fill="#111"/>
<circle cx="611.32" cy="200.27" r="0.85" fill="#111"/>
<circle cx="610.97" cy="224.51" r="0.85" fill="#111"/>
<circle cx="611.87" cy="211.28" r="0.85" fill="#111"/>
<circle cx="612.33" cy="233.37" r="0.85" fill="#111"/>
<circle cx="609.16" cy="225.47" r="0.85" fill="#111"/>
<circle cx="610.85" cy="214.54" r="0.85" fill="#111"/>
<circle cx="612.31" cy="225.63" r="0.85" fill="#111"/>
<circle cx="611.67" cy="216.94" r="0.85" fill="#111"/>
<circle cx="612.97" cy="215.02" r="0.85" fill="#111"/>
<circle cx="610.74" cy="199.06" r="0.85" fill="#111"/>
<circle cx="612.76" cy="166.78" r="0.85" fill="#111"/>
<circle cx="616.35" cy="226.73" r="0.85" fill="#111"/>
<circle cx="614.12" cy="203.78" r="0.85" fill="#111"/>
<circle cx="613.22" cy="219.48" r="0.85" fill="#111"/>
<circle cx="612.7" cy="226" r="3.1" fill="#fff" stroke="#777" stroke-width="0.6"/>
<circle cx="613.0" cy="226.2" r="0.9" fill="#666"/>
<path d="M655.40 197.30 L655.84 198.11 L656.44 199.21 L657.15 200.53 L657.92 201.98 L658.69 203.49 L659.40 205.00 L660.09 206.57 L660.81 208.27 L661.52 210.04 L662.21 211.80 L662.85 213.48 L663.40 215.00 L663.87 216.31 L664.29 217.44 L664.65 218.50 L664.96 219.56 L665.21 220.69 L665.40 222.00 L665.53 223.54 L665.60 225.26 L665.62 227.06 L665.59 228.85 L665.51 230.53 L665.40 232.00 L665.25 233.25 L665.05 234.36 L664.81 235.35 L664.53 236.27 L664.23 237.14 L663.90 238.00 L663.51 238.88 L663.05 239.75 L662.56 240.57 L662.09 241.32 L661.68 241.94 L661.40 242.40 L645.40 242.40 L645.12 241.94 L644.71 241.32 L644.24 240.57 L643.75 239.75 L643.29 238.88 L642.90 238.00 L642.57 237.14 L642.27 236.27 L641.99 235.35 L641.75 234.36 L641.55 233.25 L641.40 232.00 L641.29 230.53 L641.21 228.85 L641.18 227.06 L641.20 225.26 L641.27 223.54 L641.40 222.00 L641.59 220.69 L641.84 219.56 L642.15 218.50 L642.51 217.44 L642.93 216.31 L643.40 215.00 L643.95 213.48 L644.59 211.80 L645.27 210.04 L645.99 208.27 L646.71 206.57 L647.40 205.00 L648.11 203.49 L648.88 201.98 L649.65 200.53 L650.36 199.21 L650.96 198.11 L651.40 197.30Z" fill="#ffffa0" fill-opacity="0.85" stroke="#555" stroke-width="0.45"/>
<rect x="649.50" y="215" width="7.8" height="19.00" fill="#c8c84a" fill-opacity="0.85"/>
<circle cx="654.84" cy="198.10" r="0.85" fill="#111"/>
<circle cx="655.02" cy="241.60" r="0.85" fill="#111"/>
<circle cx="648.96" cy="226.70" r="0.85" fill="#111"/>
<circle cx="657.35" cy="238.29" r="0.85" fill="#111"/>
<circle cx="652.62" cy="226.69" r="0.85" fill="#111"/>
<circle cx="657.15" cy="221.12" r="0.85" fill="#111"/>
<circle cx="656.22" cy="239.85" r="0.85" fill="#111"/>
<circle cx="650.14" cy="210.89" r="0.85" fill="#111"/>
<circle cx="649.26" cy="219.67" r="0.85" fill="#111"/>
<circle cx="649.09" cy="224.70" r="0.85" fill="#111"/>
<circle cx="655.93" cy="239.15" r="0.85" fill="#111"/>
<circle cx="656.02" cy="228.03" r="0.85" fill="#111"/>
<circle cx="650.95" cy="210.13" r="0.85" fill="#111"/>
<circle cx="649.91" cy="237.74" r="0.85" fill="#111"/>
<circle cx="652.23" cy="208.24" r="0.85" fill="#111"/>
<circle cx="656.09" cy="211.03" r="0.85" fill="#111"/>
<circle cx="655.21" cy="205.66" r="0.85" fill="#111"/>
<circle cx="656.70" cy="231.01" r="0.85" fill="#111"/>
<circle cx="656.15" cy="202.89" r="0.85" fill="#111"/>
<circle cx="655.41" cy="206.45" r="0.85" fill="#111"/>
<circle cx="656.42" cy="226.78" r="0.85" fill="#111"/>
<circle cx="649.05" cy="218.65" r="0.85" fill="#111"/>
<circle cx="648.96" cy="221.61" r="0.85" fill="#111"/>
<circle cx="656.66" cy="211.19" r="0.85" fill="#111"/>
<circle cx="654.47" cy="219.00" r="0.85" fill="#111"/>
<circle cx="651.84" cy="232.50" r="0.85" fill="#111"/>
<circle cx="650.05" cy="236.66" r="0.85" fill="#111"/>
<circle cx="651.89" cy="221.75" r="0.85" fill="#111"/>
<circle cx="651.95" cy="228.96" r="0.85" fill="#111"/>
<circle cx="653.36" cy="219.62" r="0.85" fill="#111"/>
<circle cx="653.23" cy="198.81" r="0.85" fill="#111"/>
<circle cx="650.72" cy="224.44" r="0.85" fill="#111"/>
<circle cx="649.64" cy="218.17" r="0.85" fill="#111"/>
<circle cx="650.73" cy="220.16" r="0.85" fill="#111"/>
<circle cx="650.05" cy="219.03" r="0.85" fill="#111"/>
<circle cx="649.80" cy="211.96" r="0.85" fill="#111"/>
<circle cx="652.63" cy="225.35" r="0.85" fill="#111"/>
<circle cx="650.07" cy="225.42" r="0.85" fill="#111"/>
<circle cx="656.10" cy="216.87" r="0.85" fill="#111"/>
<circle cx="653.80" cy="231.15" r="0.85" fill="#111"/>
<circle cx="653.04" cy="220.37" r="0.85" fill="#111"/>
<circle cx="654.65" cy="225.49" r="0.85" fill="#111"/>
<circle cx="651.16" cy="207.58" r="0.85" fill="#111"/>
<circle cx="649.11" cy="223.14" r="0.85" fill="#111"/>
<circle cx="649.61" cy="232.12" r="0.85" fill="#111"/>
<circle cx="653.4" cy="226" r="3.1" fill="#fff" stroke="#777" stroke-width="0.6"/>
<circle cx="653.6999999999999" cy="226.2" r="0.9" fill="#666"/>
<path d="M511.5 136.5 V252.4 H673.5" fill="none" stroke="#666" stroke-width="0.9"/>
<line x1="511.5" y1="233.60" x2="513.1" y2="233.60" stroke="#666" stroke-width="0.8"/>
<text x="506.1" y="238.7" font-size="12.3" text-anchor="end" fill="#000" >37.2</text>
<line x1="511.5" y1="195.20" x2="513.1" y2="195.20" stroke="#666" stroke-width="0.8"/>
<text x="506.1" y="200.3" font-size="12.3" text-anchor="end" fill="#000" >37.3</text>
<line x1="511.5" y1="156.80" x2="513.1" y2="156.80" stroke="#666" stroke-width="0.8"/>
<text x="506.1" y="161.9" font-size="12.3" text-anchor="end" fill="#000" >37.4</text>
<line x1="531.3" y1="252.4" x2="531.3" y2="250.8" stroke="#666" stroke-width="0.8"/>
<text x="531.3" y="270.0" font-size="12.3" text-anchor="middle" fill="#000" >VA</text>
<line x1="572.2" y1="252.4" x2="572.2" y2="250.8" stroke="#666" stroke-width="0.8"/>
<text x="572.2" y="270.0" font-size="12.3" text-anchor="middle" fill="#000" >VP</text>
<line x1="612.7" y1="252.4" x2="612.7" y2="250.8" stroke="#666" stroke-width="0.8"/>
<text x="612.7" y="270.0" font-size="12.3" text-anchor="middle" fill="#000" >DA</text>
<line x1="653.4" y1="252.4" x2="653.4" y2="250.8" stroke="#666" stroke-width="0.8"/>
<text x="653.4" y="270.0" font-size="12.3" text-anchor="middle" fill="#000" >DP</text>
<text x="593.5" y="287.5" font-size="13.6" text-anchor="middle" fill="#000" >Target region</text>
<text transform="translate(475.6,194.5) rotate(-90)" font-size="13.6" text-anchor="middle">Maximal temperature (°C)</text>
<polygon points="13.5,483 80,392 146,388 184.8,464.5" fill="#d9eef8"/>
<path d="M31.8 360.7 L32.3 358.8 L33.0 356.9 L33.7 354.9 L34.5 352.8 L35.4 350.7 L36.4 348.7 L37.4 346.8 L38.4 344.9 L39.5 343.1 L40.6 341.4 L41.8 339.7 L43.1 338.1 L44.4 336.5 L45.8 334.9 L47.3 333.4 L48.9 331.8 L50.6 330.2 L52.4 328.7 L54.3 327.2 L56.3 325.7 L58.4 324.2 L60.4 322.7 L62.6 321.3 L64.7 320.0 L66.9 318.7 L69.1 317.4 L71.3 316.1 L73.6 314.9 L75.9 313.8 L78.3 312.7 L80.7 311.7 L83.1 310.8 L85.6 310.0 L88.2 309.3 L90.8 308.8 L93.4 308.2 L96.1 307.8 L98.8 307.4 L101.5 307.1 L104.1 306.8 L106.7 306.6 L109.4 306.4 L112.1 306.2 L114.8 306.2 L117.4 306.1 L120.0 306.2 L122.6 306.3 L125.1 306.5 L127.5 306.8 L129.9 307.1 L132.3 307.4 L134.6 307.9 L136.9 308.4 L139.1 309.0 L141.3 309.7 L143.5 310.5 L145.6 311.4 L147.7 312.4 L149.8 313.6 L151.8 314.8 L153.8 316.1 L155.7 317.5 L157.5 318.9 L159.3 320.5 L161.0 322.2 L162.7 323.9 L164.3 325.8 L165.8 327.8 L167.2 329.8 L168.6 331.8 L169.9 333.9 L171.1 336.0 L172.2 338.1 L173.2 340.3 L174.1 342.5 L174.9 344.7 L175.7 347.0 L176.3 349.3 L177.0 351.6 L177.6 354.0 L178.2 356.4 L178.7 358.9 L179.2 361.4 L179.6 363.9 L179.9 366.4 L180.2 368.9 L180.4 371.4 L180.6 373.8 L180.7 376.2 L180.7 378.6 L180.7 381.0 L180.6 383.3 L180.5 385.6 L180.3 387.9 L179.9 390.1 L179.5 392.2 L179.0 394.2 L178.3 396.2 L177.6 398.2 L176.7 400.1 L175.9 401.9 L174.9 403.7 L174.0 405.4 L173.0 407.0 L172.0 408.6 L171.0 410.2 L170.0 411.8 L169.0 413.3 L167.9 414.7 L166.7 416.0 L165.4 417.1 L164.0 418.0 L162.5 418.8 L161.0 419.6 L159.4 420.4 L157.7 420.9 L155.9 421.3 L154.0 421.3 L152.1 420.9 L150.0 420.0 L147.9 418.5 L145.9 416.2 L143.8 413.5 L141.6 410.4 L139.2 407.4 L136.5 404.5 L133.5 401.9 L130.0 400.0 L125.8 398.6 L120.9 397.6 L115.6 396.8 L110.0 396.2 L104.4 395.8 L99.1 395.5 L94.2 395.3 L90.0 395.0 L86.5 394.8 L83.6 394.8 L81.1 394.9 L78.8 395.1 L76.7 395.3 L74.6 395.5 L72.4 395.5 L70.0 395.5 L67.4 395.4 L64.6 395.2 L61.8 395.0 L59.1 394.7 L56.3 394.4 L53.7 394.0 L51.2 393.5 L49.0 393.0 L46.9 392.4 L45.0 391.7 L43.2 390.9 L41.5 390.1 L40.0 389.2 L38.5 388.2 L37.2 387.2 L36.0 386.0 L34.9 384.7 L33.9 383.3 L33.1 381.8 L32.4 380.3 L31.7 378.7 L31.2 377.0 L30.8 375.4 L30.5 373.8 L30.3 372.2 L30.2 370.7 L30.3 369.1 L30.4 367.5 L30.6 365.8 L30.9 364.2 L31.3 362.5Z" fill="#7c7c82" stroke="#404040" stroke-width="0.9"/>
<path d="M45 337 C60 325 80 316 104 312 C125 310 145 313 160 323 M70 322 C75 318 80 316 88 315 M110 309 C115 312 120 313 130 312 M145 316 C150 320 152 324 158 328 M95 312 L98 316 M135 311 L138 316" fill="none" stroke="#5c5c60" stroke-width="0.8"/>
<path d="M156.0 322.0 L157.6 323.6 L159.2 325.3 L160.7 327.1 L162.1 328.9 L163.5 330.9 L164.7 332.9 L165.9 334.9 L167.0 337.0 L168.0 339.1 L168.9 341.3 L169.8 343.5 L170.5 345.8 L171.2 348.0 L171.9 350.4 L172.5 352.7 L173.0 355.0 L173.5 357.3 L174.0 359.7 L174.4 362.1 L174.7 364.5 L175.0 366.9 L175.2 369.3 L175.4 371.7 L175.5 374.0 L175.5 376.3 L175.5 378.7 L175.4 381.0 L175.3 383.3 L175.1 385.6 L174.8 387.8 L174.4 389.9 L174.0 392.0 L173.5 394.0 L172.9 395.9 L172.3 397.8 L171.5 399.6 L170.7 401.3 L169.9 402.9 L169.0 404.5 L168.0 406.0 L166.9 407.4 L165.7 408.9 L164.5 410.3 L163.1 411.6 L161.8 412.7 L160.5 413.7 L159.2 414.5 L158.0 415.0 L156.8 415.3 L155.5 415.4 L154.2 415.4 L152.9 415.1 L151.7 414.7 L150.8 414.0 L150.2 413.1 L150.0 412.0 L150.3 410.6 L151.0 408.8 L152.1 406.8 L153.4 404.6 L154.7 402.2 L156.0 399.8 L157.2 397.4 L158.0 395.0 L158.6 392.7 L159.0 390.3 L159.4 387.9 L159.7 385.4 L159.9 382.9 L160.0 380.3 L160.0 377.7 L160.0 375.0 L159.9 372.2 L159.7 369.4 L159.4 366.4 L159.1 363.4 L158.6 360.5 L158.1 357.5 L157.6 354.7 L157.0 352.0 L156.4 349.4 L155.6 346.8 L154.9 344.3 L154.1 341.9 L153.2 339.5 L152.2 337.2 L151.1 335.1 L150.0 333.0 L148.6 331.0 L147.0 329.2 L145.3 327.4 L143.4 325.8 L141.7 324.2 L140.1 322.7 L138.9 321.3 L138.0 320.0 L137.5 318.7 L137.2 317.5 L137.1 316.2 L137.2 315.1 L137.6 314.2 L138.2 313.5 L139.0 313.1 L140.0 313.0 L141.4 313.3 L143.1 314.0 L145.2 314.9 L147.4 316.1 L149.8 317.5 L152.0 319.0 L154.1 320.5Z" fill="#929296" stroke="#484848" stroke-width="0.8"/>
<path d="M163 340 C166 350 168 362 168 375 M160 392 C164 385 166 378 167 370 M152 330 C156 336 158 342 160 350" fill="none" stroke="#606064" stroke-width="0.7"/>
<path d="M35.0 360.0 L35.5 358.4 L36.1 356.7 L36.7 355.0 L37.5 353.4 L38.3 351.7 L39.1 350.1 L40.0 348.5 L41.0 347.0 L42.0 345.5 L43.1 344.1 L44.2 342.7 L45.4 341.3 L46.7 340.0 L48.1 338.6 L49.5 337.3 L51.0 336.0 L52.6 334.7 L54.3 333.4 L56.1 332.1 L58.0 330.8 L59.9 329.5 L61.9 328.3 L63.9 327.1 L66.0 326.0 L68.1 324.9 L70.2 323.8 L72.4 322.8 L74.7 321.8 L77.0 320.8 L79.3 320.0 L81.6 319.2 L84.0 318.5 L86.4 317.9 L88.9 317.5 L91.4 317.1 L93.9 316.8 L96.4 316.5 L99.0 316.3 L101.5 316.2 L104.0 316.0 L106.5 315.9 L109.1 315.7 L111.7 315.6 L114.2 315.6 L116.8 315.6 L119.3 315.7 L121.7 315.8 L124.0 316.0 L126.2 316.3 L128.4 316.6 L130.6 317.0 L132.6 317.5 L134.6 318.0 L136.5 318.6 L138.3 319.3 L140.0 320.0 L141.6 320.8 L143.0 321.6 L144.4 322.5 L145.7 323.5 L146.9 324.5 L148.0 325.6 L149.0 326.8 L150.0 328.0 L150.9 329.3 L151.7 330.6 L152.4 331.9 L153.0 333.4 L153.6 334.9 L154.1 336.5 L154.6 338.2 L155.0 340.0 L155.4 341.9 L155.8 344.0 L156.1 346.2 L156.3 348.5 L156.5 350.8 L156.7 353.2 L156.9 355.6 L157.0 358.0 L157.1 360.4 L157.2 362.9 L157.3 365.5 L157.4 368.1 L157.4 370.6 L157.3 373.2 L157.2 375.6 L157.0 378.0 L156.8 380.4 L156.5 382.8 L156.2 385.2 L155.8 387.6 L155.3 389.8 L154.7 391.8 L154.0 393.6 L153.0 395.0 L151.9 396.1 L150.8 396.9 L149.5 397.4 L148.1 397.7 L146.5 397.9 L144.7 397.9 L142.5 398.0 L140.0 398.0 L137.1 398.0 L133.7 397.8 L130.0 397.5 L126.1 397.2 L122.0 396.8 L117.9 396.5 L113.9 396.2 L110.0 396.0 L106.2 395.9 L102.4 395.9 L98.5 396.0 L94.7 396.1 L90.9 396.1 L87.1 396.2 L83.5 396.1 L80.0 396.0 L76.6 395.8 L73.2 395.6 L69.8 395.3 L66.6 394.9 L63.4 394.5 L60.4 394.1 L57.6 393.6 L55.0 393.0 L52.6 392.4 L50.3 391.7 L48.3 390.9 L46.3 390.1 L44.6 389.2 L42.9 388.3 L41.4 387.2 L40.0 386.0 L38.7 384.7 L37.6 383.2 L36.6 381.6 L35.7 379.9 L35.0 378.1 L34.4 376.4 L33.9 374.7 L33.5 373.0 L33.3 371.4 L33.2 369.8 L33.3 368.1 L33.5 366.5 L33.8 364.9 L34.1 363.2 L34.5 361.6Z" fill="#9c9c9c" stroke="#505050" stroke-width="0.8"/>
<g filter="url(#b0_5)">
<path d="M54.0 360.0 L54.3 359.0 L54.7 358.1 L55.1 357.1 L55.5 356.2 L56.0 355.2 L56.5 354.3 L57.0 353.4 L57.6 352.5 L58.2 351.6 L58.8 350.7 L59.4 349.8 L60.0 349.0 L60.6 348.2 L61.3 347.3 L62.0 346.5 L62.7 345.7 L63.4 345.0 L64.2 344.2 L65.0 343.4 L65.7 342.7 L66.5 342.0 L67.3 341.3 L68.2 340.6 L69.0 340.0 L69.8 339.4 L70.7 338.8 L71.6 338.2 L72.4 337.7 L73.3 337.2 L74.2 336.7 L75.2 336.2 L76.1 335.7 L77.1 335.3 L78.0 334.8 L79.0 334.4 L80.0 334.0 L81.0 333.6 L82.0 333.2 L83.1 332.9 L84.1 332.6 L85.2 332.3 L86.3 332.0 L87.4 331.7 L88.5 331.4 L89.6 331.2 L90.8 330.9 L91.9 330.7 L93.0 330.5 L94.1 330.3 L95.3 330.1 L96.4 329.9 L97.6 329.8 L98.8 329.6 L99.9 329.5 L101.1 329.3 L102.3 329.2 L103.5 329.2 L104.7 329.1 L105.8 329.0 L107.0 329.0 L108.2 329.0 L109.3 329.0 L110.5 329.0 L111.7 329.1 L112.9 329.1 L114.1 329.2 L115.2 329.3 L116.4 329.4 L117.6 329.6 L118.7 329.7 L119.9 329.8 L121.0 330.0 L122.1 330.2 L123.3 330.3 L124.4 330.5 L125.6 330.7 L126.7 331.0 L127.8 331.2 L128.9 331.4 L130.0 331.7 L131.1 332.0 L132.1 332.3 L133.1 332.6 L134.0 333.0 L134.9 333.4 L135.8 333.8 L136.6 334.1 L137.4 334.6 L138.2 335.0 L139.0 335.4 L139.7 335.9 L140.4 336.4 L141.1 337.0 L141.8 337.6 L142.4 338.3 L143.0 339.0 L143.6 339.8 L144.1 340.6 L144.6 341.5 L145.1 342.4 L145.5 343.4 L145.9 344.4 L146.3 345.5 L146.7 346.6 L147.1 347.6 L147.4 348.8 L147.7 349.9 L148.0 351.0 L148.3 352.1 L148.5 353.3 L148.8 354.6 L149.0 355.8 L149.2 357.1 L149.4 358.4 L149.5 359.7 L149.7 361.0 L149.8 362.2 L149.9 363.5 L149.9 364.8 L150.0 366.0 L150.0 367.2 L150.1 368.4 L150.1 369.7 L150.1 370.9 L150.0 372.1 L150.0 373.3 L149.9 374.5 L149.8 375.7 L149.7 376.8 L149.5 377.9 L149.3 379.0 L149.0 380.0 L148.7 381.0 L148.5 382.0 L148.2 383.0 L148.0 384.0 L147.7 384.9 L147.4 385.8 L147.0 386.7 L146.4 387.5 L145.8 388.2 L145.0 388.9 L144.1 389.5 L143.0 390.0 L141.7 390.4 L140.2 390.7 L138.5 390.9 L136.7 391.1 L134.7 391.2 L132.7 391.2 L130.6 391.2 L128.4 391.1 L126.3 391.1 L124.1 391.1 L122.0 391.0 L120.0 391.0 L118.0 391.0 L115.8 391.0 L113.7 390.9 L111.4 390.9 L109.2 390.8 L107.0 390.7 L104.8 390.6 L102.7 390.5 L100.6 390.4 L98.6 390.2 L96.7 390.1 L95.0 390.0 L93.4 389.9 L91.9 389.8 L90.4 389.7 L89.1 389.6 L87.8 389.4 L86.6 389.3 L85.4 389.2 L84.3 389.0 L83.2 388.8 L82.1 388.6 L81.0 388.3 L80.0 388.0 L79.0 387.6 L78.0 387.2 L77.1 386.7 L76.3 386.2 L75.5 385.6 L74.7 385.0 L73.9 384.5 L73.1 383.9 L72.4 383.3 L71.6 382.8 L70.8 382.4 L70.0 382.0 L69.2 381.7 L68.3 381.4 L67.4 381.2 L66.6 381.1 L65.7 381.0 L64.8 380.8 L64.0 380.7 L63.1 380.6 L62.3 380.4 L61.5 380.2 L60.7 379.9 L60.0 379.5 L59.3 379.1 L58.6 378.6 L57.9 378.1 L57.1 377.5 L56.5 377.0 L55.8 376.3 L55.2 375.7 L54.6 375.0 L54.1 374.3 L53.7 373.6 L53.3 372.8 L53.0 372.0 L52.8 371.2 L52.6 370.2 L52.6 369.3 L52.6 368.3 L52.6 367.3 L52.7 366.2 L52.8 365.2 L53.0 364.1 L53.2 363.0 L53.5 362.0 L53.7 361.0Z" fill="#f1f1f1"/>
<line x1="55.9" y1="360.6" x2="45.9" y2="357.5" stroke="#dedede" stroke-width="6.1" stroke-linecap="round"/>
<line x1="55.9" y1="360.6" x2="49.2" y2="358.5" stroke="#eeeeee" stroke-width="3.7" stroke-linecap="round"/>
<line x1="58.8" y1="354.4" x2="49.3" y2="348.8" stroke="#dedede" stroke-width="6.2" stroke-linecap="round"/>
<line x1="58.8" y1="354.4" x2="52.4" y2="350.6" stroke="#eeeeee" stroke-width="3.7" stroke-linecap="round"/>
<line x1="64.2" y1="347.1" x2="55.3" y2="339.0" stroke="#dedede" stroke-width="5.1" stroke-linecap="round"/>
<line x1="64.2" y1="347.1" x2="58.3" y2="341.7" stroke="#eeeeee" stroke-width="3.1" stroke-linecap="round"/>
<line x1="70.2" y1="341.6" x2="64.5" y2="334.0" stroke="#dedede" stroke-width="6.7" stroke-linecap="round"/>
<line x1="70.2" y1="341.6" x2="66.3" y2="336.4" stroke="#eeeeee" stroke-width="4.0" stroke-linecap="round"/>
<line x1="77.0" y1="337.5" x2="72.4" y2="328.0" stroke="#dedede" stroke-width="5.5" stroke-linecap="round"/>
<line x1="77.0" y1="337.5" x2="73.9" y2="331.1" stroke="#eeeeee" stroke-width="3.3" stroke-linecap="round"/>
<line x1="83.7" y1="334.8" x2="79.6" y2="322.0" stroke="#dedede" stroke-width="5.9" stroke-linecap="round"/>
<line x1="83.7" y1="334.8" x2="81.0" y2="326.3" stroke="#eeeeee" stroke-width="3.6" stroke-linecap="round"/>
<line x1="92.3" y1="332.7" x2="89.8" y2="320.1" stroke="#dedede" stroke-width="6.0" stroke-linecap="round"/>
<line x1="92.3" y1="332.7" x2="90.6" y2="324.3" stroke="#eeeeee" stroke-width="3.6" stroke-linecap="round"/>
<line x1="101.3" y1="331.3" x2="100.2" y2="319.3" stroke="#dedede" stroke-width="5.3" stroke-linecap="round"/>
<line x1="101.3" y1="331.3" x2="100.5" y2="323.3" stroke="#eeeeee" stroke-width="3.2" stroke-linecap="round"/>
<line x1="109.3" y1="331.0" x2="109.5" y2="319.0" stroke="#dedede" stroke-width="6.7" stroke-linecap="round"/>
<line x1="109.3" y1="331.0" x2="109.4" y2="323.0" stroke="#eeeeee" stroke-width="4.0" stroke-linecap="round"/>
<line x1="117.3" y1="331.5" x2="118.6" y2="320.0" stroke="#dedede" stroke-width="6.5" stroke-linecap="round"/>
<line x1="117.3" y1="331.5" x2="118.2" y2="323.8" stroke="#eeeeee" stroke-width="3.9" stroke-linecap="round"/>
<line x1="125.2" y1="332.7" x2="127.4" y2="320.7" stroke="#dedede" stroke-width="5.1" stroke-linecap="round"/>
<line x1="125.2" y1="332.7" x2="126.7" y2="324.7" stroke="#eeeeee" stroke-width="3.1" stroke-linecap="round"/>
<line x1="132.4" y1="334.5" x2="136.6" y2="322.7" stroke="#dedede" stroke-width="6.2" stroke-linecap="round"/>
<line x1="132.4" y1="334.5" x2="135.2" y2="326.7" stroke="#eeeeee" stroke-width="3.7" stroke-linecap="round"/>
<line x1="139.2" y1="338.0" x2="145.8" y2="329.6" stroke="#dedede" stroke-width="5.1" stroke-linecap="round"/>
<line x1="139.2" y1="338.0" x2="143.7" y2="332.3" stroke="#eeeeee" stroke-width="3.0" stroke-linecap="round"/>
<line x1="70.8" y1="380.2" x2="65.7" y2="392.1" stroke="#dedede" stroke-width="5.9" stroke-linecap="round"/>
<line x1="70.8" y1="380.2" x2="67.4" y2="388.1" stroke="#eeeeee" stroke-width="3.6" stroke-linecap="round"/>
<line x1="63.5" y1="378.6" x2="61.0" y2="390.7" stroke="#dedede" stroke-width="6.8" stroke-linecap="round"/>
<line x1="63.5" y1="378.6" x2="61.9" y2="386.7" stroke="#eeeeee" stroke-width="4.1" stroke-linecap="round"/>
<line x1="56.7" y1="374.4" x2="47.4" y2="382.6" stroke="#dedede" stroke-width="6.8" stroke-linecap="round"/>
<line x1="56.7" y1="374.4" x2="50.5" y2="379.8" stroke="#eeeeee" stroke-width="4.1" stroke-linecap="round"/>
<line x1="54.6" y1="368.3" x2="43.5" y2="368.2" stroke="#dedede" stroke-width="6.6" stroke-linecap="round"/>
<line x1="54.6" y1="368.3" x2="47.1" y2="368.2" stroke="#eeeeee" stroke-width="4.0" stroke-linecap="round"/>
<line x1="54.2" y1="356.7" x2="45.0" y2="352.7" stroke="#6c6c6c" stroke-width="1.5" stroke-linecap="round"/>
<line x1="58.6" y1="349.3" x2="50.5" y2="343.4" stroke="#6c6c6c" stroke-width="1.5" stroke-linecap="round"/>
<line x1="65.1" y1="342.0" x2="58.3" y2="334.6" stroke="#6c6c6c" stroke-width="1.5" stroke-linecap="round"/>
<line x1="71.9" y1="336.8" x2="66.8" y2="328.3" stroke="#6c6c6c" stroke-width="1.5" stroke-linecap="round"/>
<line x1="78.6" y1="333.5" x2="74.8" y2="324.2" stroke="#6c6c6c" stroke-width="1.5" stroke-linecap="round"/>
<line x1="87.2" y1="330.7" x2="84.8" y2="321.0" stroke="#6c6c6c" stroke-width="1.5" stroke-linecap="round"/>
<line x1="96.3" y1="328.9" x2="94.8" y2="319.0" stroke="#6c6c6c" stroke-width="1.5" stroke-linecap="round"/>
<line x1="104.6" y1="328.1" x2="104.1" y2="318.1" stroke="#6c6c6c" stroke-width="1.5" stroke-linecap="round"/>
<line x1="112.9" y1="328.1" x2="113.6" y2="318.2" stroke="#6c6c6c" stroke-width="1.5" stroke-linecap="round"/>
<line x1="121.1" y1="329.0" x2="122.6" y2="319.1" stroke="#6c6c6c" stroke-width="1.5" stroke-linecap="round"/>
<line x1="129.1" y1="330.5" x2="131.5" y2="320.7" stroke="#6c6c6c" stroke-width="1.5" stroke-linecap="round"/>
<line x1="137.1" y1="333.2" x2="141.4" y2="324.2" stroke="#6c6c6c" stroke-width="1.5" stroke-linecap="round"/>
<line x1="66.4" y1="382.1" x2="64.7" y2="391.9" stroke="#6c6c6c" stroke-width="1.5" stroke-linecap="round"/>
<line x1="58.8" y1="379.9" x2="53.5" y2="388.4" stroke="#6c6c6c" stroke-width="1.5" stroke-linecap="round"/>
<line x1="52.4" y1="373.2" x2="43.2" y2="377.1" stroke="#6c6c6c" stroke-width="1.5" stroke-linecap="round"/>
</g>
<path d="M62.0 354.0 L63.3 352.2 L64.8 350.4 L66.5 348.8 L68.3 347.2 L70.3 345.7 L72.4 344.4 L74.7 343.1 L77.0 342.0 L79.5 341.0 L82.1 340.1 L85.0 339.3 L87.9 338.6 L90.9 338.1 L93.9 337.6 L97.0 337.2 L100.0 337.0 L103.1 336.9 L106.3 336.8 L109.7 336.8 L113.0 337.0 L116.3 337.3 L119.4 337.7 L122.3 338.3 L125.0 339.0 L127.4 339.9 L129.8 340.9 L131.9 342.1 L133.9 343.4 L135.8 344.8 L137.4 346.4 L138.8 348.1 L140.0 350.0 L140.9 352.1 L141.6 354.5 L142.1 357.1 L142.4 359.8 L142.5 362.5 L142.4 365.1 L142.3 367.7 L142.0 370.0 L141.7 372.2 L141.5 374.4 L141.3 376.6 L140.8 378.7 L140.1 380.6 L138.9 382.4 L137.3 383.8 L135.0 385.0 L131.9 385.8 L128.1 386.3 L123.7 386.5 L118.9 386.5 L114.0 386.4 L109.1 386.2 L104.3 386.1 L100.0 386.0 L95.9 386.1 L91.7 386.2 L87.6 386.3 L83.6 386.4 L79.7 386.3 L76.1 386.1 L72.9 385.7 L70.0 385.0 L67.5 384.0 L65.4 382.7 L63.5 381.2 L61.9 379.6 L60.5 377.8 L59.5 375.9 L58.6 373.9 L58.0 372.0 L57.7 369.9 L57.6 367.7 L57.8 365.4 L58.3 362.9 L59.0 360.5 L59.9 358.2 L60.9 356.0Z" fill="#f5f5f5" filter="url(#b3)"/>
<ellipse cx="82" cy="376" rx="10.5" ry="8" fill="#c6c6c6" filter="url(#b1_5)"/>
<ellipse cx="141" cy="384" rx="3" ry="2.5" fill="#444" filter="url(#b1_5)"/>
<path d="M72.5 408.0 L73.2 409.5 L73.9 410.9 L74.6 412.2 L75.5 413.6 L76.4 414.9 L77.6 416.1 L78.9 417.3 L80.4 418.5 L82.3 419.7 L84.5 420.9 L87.0 422.1 L89.6 423.3 L92.2 424.4 L94.7 425.3 L96.9 426.0 L98.8 426.4 L100.3 426.4 L101.6 426.0 L102.6 425.3 L103.6 424.5 L104.4 423.7 L105.2 423.1 L105.9 422.8 L106.7 423.0 L107.4 423.8 L107.9 425.0 L108.3 426.5 L108.7 428.2 L109.2 430.0 L109.8 431.7 L110.7 433.1 L112.0 434.3 L113.7 435.2 L115.6 436.0 L117.8 436.6 L120.2 437.2 L122.7 437.6 L125.3 437.9 L127.9 438.1 L130.4 438.2 L133.0 438.2 L135.8 438.1 L138.7 437.8 L141.6 437.5 L144.4 437.0 L147.0 436.3 L149.4 435.4 L151.4 434.3 L153.1 432.9 L154.5 431.1 L155.8 429.1 L156.8 427.0 L157.7 424.8 L158.4 422.5 L158.9 420.4 L159.3 418.5 L159.5 416.7 L159.6 415.0 L159.4 413.3 L159.1 411.6 L158.6 410.0 L158.1 408.4 L157.4 406.9 L156.6 405.4 L155.7 403.9 L154.8 402.5 L153.7 401.2 L152.5 399.8 L151.1 398.5 L149.6 397.3 L148.0 396.0 L146.1 394.8 L144.0 393.5 L141.7 392.2 L139.2 390.9 L136.6 389.6 L133.8 388.5 L131.0 387.4 L128.1 386.6 L125.1 386.0 L122.0 385.7 L118.7 385.6 L115.3 385.8 L111.8 386.0 L108.3 386.4 L104.9 386.8 L101.7 387.2 L98.8 387.5 L96.1 387.7 L93.5 388.0 L91.0 388.3 L88.6 388.5 L86.4 388.9 L84.3 389.2 L82.3 389.6 L80.4 390.0 L78.6 390.4 L76.9 390.8 L75.3 391.3 L73.8 391.7 L72.5 392.3 L71.4 393.0 L70.5 393.8 L69.9 394.8 L69.6 396.1 L69.5 397.6 L69.7 399.3 L70.1 401.0 L70.6 402.9 L71.2 404.7 L71.8 406.4Z" fill="#d5e1e7" stroke="#8d9ca4" stroke-width="0.8"/>
<path d="M112 428 C116 412 138 404 157 414 M98 398 C110 393 128 394 142 400 M78 404 C88 412 98 415 108 419 M85 395 C92 400 100 402 110 401" fill="none" stroke="#98a8b0" stroke-width="0.7"/>
<ellipse cx="135" cy="424" rx="17" ry="12.5" fill="#dde7ec" stroke="#8e9ea6" stroke-width="0.6"/>
<path d="M122 420 C128 416 140 415 148 420 M120 427 C128 424 142 424 150 428 M124 433 C130 431 140 431 146 434 M135 412 L136 436" fill="none" stroke="#a3b2b9" stroke-width="0.5"/>
<polygon points="91,367.8 101,357.5 129,361 119,370.5" fill="#f8f8f8" fill-opacity="0.6" stroke="#999" stroke-width="0.6"/>
<polygon points="113.3,370.5 129,361 129,380 113.3,389" fill="#e8e8e8" fill-opacity="0.5" stroke="#999" stroke-width="0.6"/>
<line x1="101" y1="357.5" x2="101" y2="378" stroke="#aaa" stroke-width="0.5"/>
<ellipse cx="99" cy="372" rx="2.6" ry="9" fill="#f09090" fill-opacity="0.8" transform="rotate(25 99 372)"/>
<ellipse cx="107" cy="367" rx="3.2" ry="10" fill="#9090f0" fill-opacity="0.8" transform="rotate(20 107 367)"/>
<ellipse cx="109" cy="380" rx="2.5" ry="6" fill="#80d080" fill-opacity="0.8" transform="rotate(35 109 380)"/>
<ellipse cx="119" cy="372" rx="6" ry="7" fill="#a09020" fill-opacity="0.7"/>
<ellipse cx="122" cy="376" rx="3.5" ry="4" fill="#333" fill-opacity="0.7"/>
<circle cx="97.5" cy="378.5" r="1.8" fill="#e00000"/><circle cx="104.5" cy="374" r="1.8" fill="#0000e0"/><circle cx="105" cy="382" r="1.8" fill="#00b000"/><circle cx="110" cy="381" r="1.6" fill="#d0d000"/>
<polygon points="91,367.8 113.3,370.5 113.3,388.8 91,386" fill="none" stroke="#111" stroke-width="1.2"/>
<polygon points="156.2,321.9 162.8,313.9 169.3,321.2 162,328.5" fill="#94ec94" stroke="#000" stroke-width="1"/>
<polygon points="155.4,321.9 138.4,338.2 134,333.9 124,357.2 148.3,349.4 145.9,346.6 162,328.5" fill="url(#arrg)" stroke="#15253a" stroke-width="1.25" stroke-dasharray="1.2,1.2"/>
<text x="194.5" y="317.9" font-size="13.8" text-anchor="middle" font-weight="bold" fill="#000" >LIFU</text>
<text x="194.5" y="331.1" font-size="13.8" text-anchor="middle" font-weight="bold" fill="#000" >beam</text>
<text x="27.5" y="318.0" font-size="21" text-anchor="start" font-weight="bold" fill="#000" >e</text>
<text x="5.0" y="457.5" font-size="21" text-anchor="start" font-weight="bold" fill="#000" >f</text>
<polygon points="13.5,483 78.5,446 184.8,464.5 119.5,500" fill="#dcdcdc" />
<polygon points="119.5,500 184.8,464.5 184.6,553.5 118,588" fill="#d8d8d8" />
<polygon points="13.5,483 119.5,500 118,588 14.5,569.5" fill="#e2e2e2" />
<g clip-path="url(#cubeclip)">
<ellipse cx="119.0" cy="550.1" rx="4.2" ry="4.9" fill="#bdbdbd" fill-opacity="0.7" filter="url(#b3)"/>
<ellipse cx="172.5" cy="537.6" rx="4.7" ry="4.9" fill="#cacaca" fill-opacity="0.7" filter="url(#b3)"/>
<ellipse cx="56.2" cy="523.4" rx="5.5" ry="5.9" fill="#bdbdbd" fill-opacity="0.7" filter="url(#b3)"/>
<ellipse cx="83.2" cy="474.6" rx="5.0" ry="6.2" fill="#f4f4f4" fill-opacity="0.7" filter="url(#b3)"/>
<ellipse cx="38.2" cy="533.4" rx="4.8" ry="6.9" fill="#cacaca" fill-opacity="0.7" filter="url(#b3)"/>
<ellipse cx="15.9" cy="554.4" rx="9.2" ry="4.2" fill="#cacaca" fill-opacity="0.7" filter="url(#b3)"/>
<ellipse cx="175.6" cy="522.8" rx="5.1" ry="6.9" fill="#cacaca" fill-opacity="0.7" filter="url(#b3)"/>
<ellipse cx="47.9" cy="580.3" rx="5.8" ry="4.4" fill="#f4f4f4" fill-opacity="0.7" filter="url(#b3)"/>
<ellipse cx="42.7" cy="469.7" rx="6.0" ry="6.3" fill="#c4c4c4" fill-opacity="0.7" filter="url(#b3)"/>
<ellipse cx="112.9" cy="530.5" rx="4.4" ry="4.4" fill="#f0f0f0" fill-opacity="0.7" filter="url(#b3)"/>
<ellipse cx="66.1" cy="544.0" rx="6.9" ry="5.8" fill="#cacaca" fill-opacity="0.7" filter="url(#b3)"/>
<ellipse cx="24.5" cy="581.6" rx="9.7" ry="4.4" fill="#c4c4c4" fill-opacity="0.7" filter="url(#b3)"/>
<ellipse cx="82.5" cy="524.1" rx="6.2" ry="5.3" fill="#f4f4f4" fill-opacity="0.7" filter="url(#b3)"/>
<ellipse cx="16.5" cy="456.3" rx="7.7" ry="6.8" fill="#cacaca" fill-opacity="0.7" filter="url(#b3)"/>
<ellipse cx="34.9" cy="483.2" rx="6.1" ry="4.4" fill="#f4f4f4" fill-opacity="0.7" filter="url(#b3)"/>
<ellipse cx="102.6" cy="554.7" rx="7.5" ry="6.1" fill="#c4c4c4" fill-opacity="0.7" filter="url(#b3)"/>
<ellipse cx="76.3" cy="489.9" rx="9.7" ry="3.4" fill="#f4f4f4" fill-opacity="0.7" filter="url(#b3)"/>
<ellipse cx="71.9" cy="532.5" rx="6.0" ry="6.7" fill="#cacaca" fill-opacity="0.7" filter="url(#b3)"/>
<ellipse cx="106.0" cy="492.2" rx="5.8" ry="6.2" fill="#f0f0f0" fill-opacity="0.7" filter="url(#b3)"/>
<ellipse cx="119.7" cy="547.4" rx="10.0" ry="3.6" fill="#f0f0f0" fill-opacity="0.7" filter="url(#b3)"/>
<ellipse cx="23.1" cy="583.2" rx="9.5" ry="3.1" fill="#bdbdbd" fill-opacity="0.7" filter="url(#b3)"/>
<ellipse cx="138.7" cy="496.4" rx="6.7" ry="4.7" fill="#f0f0f0" fill-opacity="0.7" filter="url(#b3)"/>
<ellipse cx="24.3" cy="573.7" rx="8.8" ry="4.3" fill="#c4c4c4" fill-opacity="0.7" filter="url(#b3)"/>
<ellipse cx="49.6" cy="582.5" rx="9.7" ry="5.5" fill="#bdbdbd" fill-opacity="0.7" filter="url(#b3)"/>
<ellipse cx="146.6" cy="464.4" rx="6.2" ry="3.2" fill="#f4f4f4" fill-opacity="0.7" filter="url(#b3)"/>
<ellipse cx="85.2" cy="469.1" rx="9.1" ry="6.9" fill="#bdbdbd" fill-opacity="0.7" filter="url(#b3)"/>
<ellipse cx="90.7" cy="515.9" rx="6.9" ry="4.2" fill="#f0f0f0" fill-opacity="0.7" filter="url(#b3)"/>
<ellipse cx="82.4" cy="469.8" rx="8.9" ry="5.1" fill="#f4f4f4" fill-opacity="0.7" filter="url(#b3)"/>
<ellipse cx="45.0" cy="576.5" rx="5.1" ry="5.0" fill="#f0f0f0" fill-opacity="0.7" filter="url(#b3)"/>
<ellipse cx="101.0" cy="524.0" rx="6.2" ry="6.1" fill="#bdbdbd" fill-opacity="0.7" filter="url(#b3)"/>
<ellipse cx="144.4" cy="543.8" rx="8.6" ry="4.5" fill="#c4c4c4" fill-opacity="0.7" filter="url(#b3)"/>
<ellipse cx="132.6" cy="487.9" rx="5.6" ry="6.9" fill="#f4f4f4" fill-opacity="0.7" filter="url(#b3)"/>
<ellipse cx="134.6" cy="579.2" rx="7.9" ry="5.3" fill="#f0f0f0" fill-opacity="0.7" filter="url(#b3)"/>
<ellipse cx="16.9" cy="523.8" rx="6.0" ry="4.1" fill="#f0f0f0" fill-opacity="0.7" filter="url(#b3)"/>
<ellipse cx="63.2" cy="517.5" rx="6.1" ry="5.6" fill="#f0f0f0" fill-opacity="0.7" filter="url(#b3)"/>
<ellipse cx="138.2" cy="561.8" rx="9.5" ry="3.7" fill="#f0f0f0" fill-opacity="0.7" filter="url(#b3)"/>
<ellipse cx="159.8" cy="510.7" rx="9.7" ry="5.1" fill="#f0f0f0" fill-opacity="0.7" filter="url(#b3)"/>
<ellipse cx="103.4" cy="472.4" rx="9.6" ry="4.9" fill="#f0f0f0" fill-opacity="0.7" filter="url(#b3)"/>
<ellipse cx="130.5" cy="547.2" rx="5.0" ry="6.1" fill="#f4f4f4" fill-opacity="0.7" filter="url(#b3)"/>
<ellipse cx="112.0" cy="539.9" rx="5.8" ry="5.2" fill="#f4f4f4" fill-opacity="0.7" filter="url(#b3)"/>
<ellipse cx="150" cy="520" rx="12" ry="30" fill="#b0b0b0" fill-opacity="0.6" filter="url(#b5)"/>
<ellipse cx="170" cy="510" rx="8" ry="30" fill="#a8a8a8" fill-opacity="0.6" filter="url(#b5)"/>
<ellipse cx="128" cy="540" rx="4" ry="22" fill="#f4f4f4" fill-opacity="0.8" filter="url(#b3)" transform="rotate(-10 128 540)"/>
<ellipse cx="142" cy="520" rx="4" ry="22" fill="#bcbcbc" fill-opacity="0.8" filter="url(#b3)" transform="rotate(-10 142 520)"/>
<ellipse cx="158" cy="515" rx="4" ry="22" fill="#f2f2f2" fill-opacity="0.8" filter="url(#b3)" transform="rotate(-10 158 515)"/>
<ellipse cx="175" cy="500" rx="4" ry="22" fill="#b4b4b4" fill-opacity="0.8" filter="url(#b3)" transform="rotate(-10 175 500)"/>
<ellipse cx="180" cy="530" rx="4" ry="22" fill="#c0c0c0" fill-opacity="0.8" filter="url(#b3)" transform="rotate(-10 180 530)"/>
<ellipse cx="165" cy="545" rx="4" ry="22" fill="#f0f0f0" fill-opacity="0.8" filter="url(#b3)" transform="rotate(-10 165 545)"/>
<ellipse cx="135" cy="505" rx="4" ry="22" fill="#c8c8c8" fill-opacity="0.8" filter="url(#b3)" transform="rotate(-10 135 505)"/>
<ellipse cx="40" cy="470" rx="14" ry="4" fill="#c0c0c0" fill-opacity="0.8" filter="url(#b3)" transform="rotate(20 40 470)"/>
<ellipse cx="70" cy="458" rx="14" ry="4" fill="#bababa" fill-opacity="0.8" filter="url(#b3)" transform="rotate(20 70 458)"/>
<ellipse cx="120" cy="468" rx="14" ry="4" fill="#c4c4c4" fill-opacity="0.8" filter="url(#b3)" transform="rotate(20 120 468)"/>
<ellipse cx="150" cy="470" rx="14" ry="4" fill="#f2f2f2" fill-opacity="0.8" filter="url(#b3)" transform="rotate(20 150 470)"/>
<ellipse cx="100" cy="452" rx="14" ry="4" fill="#f0f0f0" fill-opacity="0.8" filter="url(#b3)" transform="rotate(20 100 452)"/>
<ellipse cx="30" cy="560" rx="12" ry="5" fill="#c8c8c8" fill-opacity="0.8" filter="url(#b4)"/>
<ellipse cx="60" cy="575" rx="12" ry="5" fill="#cdcdcd" fill-opacity="0.8" filter="url(#b4)"/>
<ellipse cx="25" cy="520" rx="12" ry="5" fill="#d0d0d0" fill-opacity="0.8" filter="url(#b4)"/>
<ellipse cx="95" cy="578" rx="12" ry="5" fill="#c4c4c4" fill-opacity="0.8" filter="url(#b4)"/>
<ellipse cx="83.3" cy="519" rx="8.5" ry="33" fill="#f02828" fill-opacity="1" filter="url(#b1_6)" transform="rotate(37 83.3 519)"/>
<ellipse cx="106.5" cy="532" rx="8.5" ry="34" fill="#18d818" fill-opacity="1" filter="url(#b1_6)" transform="rotate(36 106.5 532)"/>
<ellipse cx="123" cy="537.5" rx="9" ry="31" fill="#d8c838" fill-opacity="1" filter="url(#b1_6)" transform="rotate(46 123 537.5)"/>
<ellipse cx="133" cy="533" rx="6" ry="16" fill="#d0c030" fill-opacity="1" filter="url(#b1_6)" transform="rotate(60 133 533)"/>
<ellipse cx="107" cy="507" rx="10.5" ry="35" fill="#2828e0" fill-opacity="1" filter="url(#b1_6)" transform="rotate(39 107 507)"/>
</g>
<line x1="41.1" y1="487.4" x2="41.4" y2="574.3" stroke="#000" stroke-width="1.3" stroke-dasharray="1.3,1.5" fill="none"/>
<line x1="41.1" y1="487.4" x2="106.1" y2="450.8" stroke="#000" stroke-width="1.3" stroke-dasharray="1.3,1.5" fill="none"/>
<line x1="82.9" y1="494.1" x2="82.3" y2="581.6" stroke="#000" stroke-width="1.3" stroke-dasharray="1.3,1.5" fill="none"/>
<line x1="82.9" y1="494.1" x2="148.1" y2="458.1" stroke="#000" stroke-width="1.3" stroke-dasharray="1.3,1.5" fill="none"/>
<line x1="105.7" y1="497.8" x2="104.5" y2="585.6" stroke="#000" stroke-width="1.3" stroke-dasharray="1.3,1.5" fill="none"/>
<line x1="105.7" y1="497.8" x2="171.0" y2="462.1" stroke="#000" stroke-width="1.3" stroke-dasharray="1.3,1.5" fill="none"/>
<line x1="13.9" y1="517.6" x2="118.9" y2="535.2" stroke="#000" stroke-width="1.3" stroke-dasharray="1.3,1.5" fill="none"/>
<line x1="118.9" y1="535.2" x2="184.7" y2="500.1" stroke="#000" stroke-width="1.3" stroke-dasharray="1.3,1.5" fill="none"/>
<line x1="14.1" y1="532.3" x2="118.6" y2="550.2" stroke="#000" stroke-width="1.3" stroke-dasharray="1.3,1.5" fill="none"/>
<line x1="118.6" y1="550.2" x2="184.7" y2="515.2" stroke="#000" stroke-width="1.3" stroke-dasharray="1.3,1.5" fill="none"/>
<line x1="14.3" y1="549.6" x2="118.3" y2="567.8" stroke="#000" stroke-width="1.3" stroke-dasharray="1.3,1.5" fill="none"/>
<line x1="118.3" y1="567.8" x2="184.6" y2="533.0" stroke="#000" stroke-width="1.3" stroke-dasharray="1.3,1.5" fill="none"/>
<line x1="139.1" y1="489.4" x2="138.0" y2="577.6" stroke="#000" stroke-width="1.3" stroke-dasharray="1.3,1.5" fill="none"/>
<line x1="139.1" y1="489.4" x2="33.0" y2="471.9" stroke="#000" stroke-width="1.3" stroke-dasharray="1.3,1.5" fill="none"/>
<line x1="150.2" y1="483.3" x2="149.3" y2="571.8" stroke="#000" stroke-width="1.3" stroke-dasharray="1.3,1.5" fill="none"/>
<line x1="150.2" y1="483.3" x2="44.0" y2="465.6" stroke="#000" stroke-width="1.3" stroke-dasharray="1.3,1.5" fill="none"/>
<line x1="170.4" y1="472.3" x2="169.9" y2="561.1" stroke="#000" stroke-width="1.3" stroke-dasharray="1.3,1.5" fill="none"/>
<line x1="170.4" y1="472.3" x2="64.2" y2="454.1" stroke="#000" stroke-width="1.3" stroke-dasharray="1.3,1.5" fill="none"/>
<polygon points="13.5,483 119.5,500 118,588 14.5,569.5" stroke="#000" stroke-width="2.6" fill="none" stroke-linejoin="round"/>
<polyline points="13.5,483 78.5,446 184.8,464.5 119.5,500" stroke="#000" stroke-width="2.6" fill="none" stroke-linejoin="round"/>
<polyline points="184.8,464.5 184.6,553.5 118,588" stroke="#000" stroke-width="2.6" fill="none" stroke-linejoin="round"/>
<line x1="196.8" y1="551" x2="196.8" y2="472" stroke="#d0d0d0" stroke-width="2.6" fill="none"/>
<polygon points="196.8,462.5 192.2,474 201.4,474" fill="#d0d0d0"/>
<line x1="125" y1="595.5" x2="180" y2="565" stroke="#d0d0d0" stroke-width="2.6" fill="none"/>
<polygon points="188,560.5 175.5,561.5 180.8,571" fill="#d0d0d0"/>
<line x1="12" y1="576.5" x2="110" y2="594.8" stroke="#d0d0d0" stroke-width="2.6" fill="none"/>
<polygon points="119.3,596.6 108.2,589.6 106.4,599.4" fill="#d0d0d0"/>
<text x="197.5" y="459.0" font-size="11.8" text-anchor="middle" fill="#000" >(i)</text>
<text x="197.0" y="500.5" font-size="11.8" text-anchor="middle" fill="#000" >10</text>
<text x="197.0" y="515.0" font-size="11.8" text-anchor="middle" fill="#000" >5</text>
<text x="197.0" y="532.0" font-size="11.8" text-anchor="middle" fill="#000" >0</text>
<text transform="translate(212.5,505) rotate(90)" font-size="12.4" font-weight="bold" text-anchor="middle">Z (mm)</text>
<text x="197.0" y="571.0" font-size="11.8" text-anchor="middle" fill="#000" >(g)</text>
<text x="170.0" y="575.4" font-size="11.8" text-anchor="middle" fill="#000" >6</text>
<text x="153.3" y="584.2" font-size="11.8" text-anchor="middle" fill="#000" >-6</text>
<text x="135.8" y="594.4" font-size="11.8" text-anchor="middle" fill="#000" >-12</text>
<text x="181.5" y="591.5" font-size="12.4" text-anchor="middle" font-weight="bold" fill="#000" >X (mm)</text>
<text x="38.7" y="587.7" font-size="11.8" text-anchor="middle" fill="#000" >-11</text>
<text x="80.3" y="595.9" font-size="11.8" text-anchor="middle" fill="#000" >-22</text>
<text x="102.2" y="599.4" font-size="11.8" text-anchor="middle" fill="#000" >-29</text>
<text x="58.7" y="609.0" font-size="12.4" text-anchor="middle" font-weight="bold" fill="#000" >Y (mm)</text>
<text x="112.0" y="610.0" font-size="11.8" text-anchor="middle" fill="#000" >(h)</text>
<text x="233.0" y="319.5" font-size="21" text-anchor="start" font-weight="bold" fill="#000" >g</text>
<g clip-path="url(#c1)">
<rect x="252.7" y="305.5" width="140.0" height="101.60000000000002" fill="#d0d0d0"/>
<ellipse cx="315" cy="365" rx="62" ry="38" fill="#e2e2e2" fill-opacity="1" filter="url(#b8)"/>
<path d="M322 305 L394 305 L394 318 C388 326 382 333 378 340 C372 330 362 322 346 316 C336 313 328 312 322 311 Z" fill="#0a0a0a" fill-opacity="1" filter="url(#b2_5)"/>
<ellipse cx="371" cy="342" rx="6" ry="14" fill="#4a4a4a" fill-opacity="1" filter="url(#b3)"/>
<path d="M383 322 C388 332 389 348 385 362" fill="none" stroke="#f6f6f6" stroke-width="3.5" stroke-opacity="1" stroke-linecap="round" filter="url(#b1_5)"/>
<ellipse cx="390" cy="360" rx="4" ry="30" fill="#8a8a8a" fill-opacity="1" filter="url(#b3)"/>
<ellipse cx="385" cy="396" rx="12" ry="14" fill="#4a4a4a" fill-opacity="1" filter="url(#b4)"/>
<ellipse cx="258" cy="336" rx="8" ry="12" fill="#9a9a9a" fill-opacity="1" filter="url(#b4)"/>
<ellipse cx="268" cy="400" rx="18" ry="8" fill="#e8e8e8" fill-opacity="1" filter="url(#b4)"/>
<path d="M280 345 C290 335 300 345 298 360" fill="none" stroke="#ececec" stroke-width="3" stroke-opacity="0.8" stroke-linecap="round" filter="url(#b2)"/>
<ellipse cx="295.5" cy="370" rx="12" ry="12" fill="#ff1010" fill-opacity="1" filter="url(#b5_5)"/>
<ellipse cx="328.3" cy="347.6" rx="13" ry="12" fill="#1a1aff" fill-opacity="0.95" filter="url(#b5_5)"/>
<ellipse cx="330.4" cy="379.4" rx="12" ry="11" fill="#10e010" fill-opacity="1" filter="url(#b5_5)"/>
<ellipse cx="353.7" cy="377.3" rx="11" ry="11" fill="#f0f000" fill-opacity="1" filter="url(#b5_5)"/>
<path d="M285 325 C270 331 259 345 259 357 C260 372 272 379 292 380.4 C300 382 305 385 309 387" fill="none" stroke="#e02020" stroke-width="1.1" stroke-linejoin="round"/>
<path d="M309 387 L315.6 363.5" fill="none" stroke="#c04020" stroke-width="1.1" stroke-linejoin="round"/>
<path d="M304.6 325 C304 340 305 352 315.6 363.5" fill="none" stroke="#8020a0" stroke-width="1.1" stroke-linejoin="round"/>
<path d="M325 318.6 C333 318.6 338 321 343 325.4 C352 334 362 344 368.5 351.9" fill="none" stroke="#2020e0" stroke-width="1.1" stroke-linejoin="round"/>
<path d="M315.6 363.5 C322 355 328 350.5 334.7 351.2 C340 351 343 353.5 346.3 353.3 C352 352 360 351 368.5 351.9" fill="none" stroke="#2040c0" stroke-width="1.1" stroke-linejoin="round"/>
<path d="M309 387 C313 390 320 392 330 392.1 L346.3 392.1" fill="none" stroke="#20d020" stroke-width="1.1" stroke-linejoin="round"/>
<path d="M346.3 353.3 L346.3 392.1" fill="none" stroke="#b0d020" stroke-width="1.1" stroke-linejoin="round"/>
<path d="M368.5 351.9 C374 357 379 362 379 368 C379 375 377 381 372 385 C368 389 360 391.5 346.3 392.1" fill="none" stroke="#e8e020" stroke-width="1.1" stroke-linejoin="round"/>
</g>
<rect x="252.7" y="305.5" width="140.0" height="101.60000000000002" fill="none" stroke="#000" stroke-width="2"/>
<rect x="251.5" y="304.3" width="73.7" height="21.2" fill="#fff"/>
<text x="255.1" y="320.2" font-size="12.5" text-anchor="start" font-weight="bold" fill="#000" >X = -12 mm</text>
<text x="255.7" y="401.4" font-size="10.3" text-anchor="start" font-weight="bold" fill="#000" >LH</text>
<g clip-path="url(#c2)">
<rect x="392.7" y="305.5" width="140.00000000000006" height="101.60000000000002" fill="#d2d2d2"/>
<ellipse cx="458" cy="362" rx="55" ry="42" fill="#e0e0e0" fill-opacity="1" filter="url(#b6)"/>
<path d="M392 325 L402 325 L402 407 L392 407 Z" fill="#0a0a0a" fill-opacity="1" filter="url(#b3)"/>
<ellipse cx="395" cy="345" rx="6" ry="25" fill="#101010" fill-opacity="1" filter="url(#b3)"/>
<ellipse cx="462" cy="311" rx="34" ry="9" fill="#151515" fill-opacity="1" filter="url(#b3)"/>
<ellipse cx="500" cy="318" rx="14" ry="8" fill="#404040" fill-opacity="1" filter="url(#b4)"/>
<ellipse cx="502" cy="348" rx="10" ry="20" fill="#1a1a1a" fill-opacity="1" filter="url(#b4)"/>
<ellipse cx="525" cy="350" rx="8" ry="20" fill="#707070" fill-opacity="1" filter="url(#b4)"/>
<path d="M514 318 C528 322 532 340 526 362" fill="none" stroke="#f8f8f8" stroke-width="4" stroke-opacity="1" stroke-linecap="round" filter="url(#b1_5)"/>
<ellipse cx="522" cy="392" rx="12" ry="12" fill="#262626" fill-opacity="1" filter="url(#b4)"/>
<ellipse cx="512" cy="404" rx="20" ry="4" fill="#f0f0f0" fill-opacity="1" filter="url(#b2_5)"/>
<path d="M420 340 C440 330 455 345 450 365" fill="none" stroke="#e8e8e8" stroke-width="3" stroke-opacity="0.8" stroke-linecap="round" filter="url(#b2)"/>
<path d="M425 380 C440 390 455 385 460 372" fill="none" stroke="#e8e8e8" stroke-width="3" stroke-opacity="0.7" stroke-linecap="round" filter="url(#b2)"/>
<ellipse cx="444" cy="367.7" rx="13" ry="14" fill="#ff1010" fill-opacity="1" filter="url(#b5_5)"/>
<ellipse cx="476.8" cy="346.6" rx="12" ry="12" fill="#1a1aff" fill-opacity="1" filter="url(#b5_5)"/>
<ellipse cx="476.8" cy="379.4" rx="11" ry="11" fill="#10e010" fill-opacity="1" filter="url(#b5)"/>
<ellipse cx="499" cy="376" rx="12" ry="9" fill="#f0f000" fill-opacity="1" filter="url(#b5_5)"/>
<path d="M429.2 325 C437 321 443 318.6 447.2 318.6 L463 318.6" fill="none" stroke="#e02020" stroke-width="1.1" stroke-linejoin="round"/>
<path d="M463 318.6 C463 330 463 342 464.1 350.8 C466 358 470 363 473.6 366.7" fill="none" stroke="#a020a0" stroke-width="1.1" stroke-linejoin="round"/>
<path d="M473.6 366.7 C470 370 469 373 469.4 374 L468.7 391.4" fill="none" stroke="#c06020" stroke-width="1.1" stroke-linejoin="round"/>
<path d="M468.7 391.4 L428.1 391.4 C420 389 414 384 411.2 378.3 C405 371 402.7 366 402.7 361.4 C403 352 406 344 411.2 338.1 C416 332 422 328 429.2 325" fill="none" stroke="#e02020" stroke-width="1.1" stroke-linejoin="round"/>
<path d="M463 318.6 C470 321 476 324 483.1 327.5 C494 334 502 340 508.5 346.6 C514 353 516.6 360 516.6 364.6" fill="none" stroke="#2020e0" stroke-width="1.1" stroke-linejoin="round"/>
<path d="M473.6 366.7 C480 365 485 364.6 489.5 364.6 C495 365 500 366.5 504.3 367.3 L516.6 364.6" fill="none" stroke="#3040c0" stroke-width="1.1" stroke-linejoin="round"/>
<path d="M468.7 391.4 C472 391 476 390.5 478.9 390 C490 386 498 382 505.4 379.4 C512 376 516 371 516.6 365.6" fill="none" stroke="#20d020" stroke-width="1.1" stroke-linejoin="round"/>
<path d="M504.3 367.3 C505 371 505.5 376 506 380 M516.6 365 C516 369 515 371 514.9 373" fill="none" stroke="#e8e820" stroke-width="1.1" stroke-linejoin="round"/>
</g>
<rect x="392.7" y="305.5" width="140.00000000000006" height="101.60000000000002" fill="none" stroke="#000" stroke-width="2"/>
<rect x="391.5" y="304.3" width="44.0" height="21.2" fill="#fff"/>
<text x="395.1" y="320.2" font-size="12.5" text-anchor="start" font-weight="bold" fill="#000" >-6 mm</text>
<text x="395.7" y="401.4" font-size="10.3" text-anchor="start" font-weight="bold" fill="#000" >LH</text>
<g clip-path="url(#c3)">
<rect x="532.7" y="305.5" width="140.29999999999995" height="101.60000000000002" fill="#d4d4d4"/>
<ellipse cx="590" cy="360" rx="55" ry="40" fill="#e4e4e4" fill-opacity="1" filter="url(#b6)"/>
<path d="M532 328 L541 328 L541 407 L532 407 Z" fill="#0c0c0c" fill-opacity="1" filter="url(#b3)"/>
<ellipse cx="605" cy="312" rx="36" ry="9" fill="#121212" fill-opacity="1" filter="url(#b3)"/>
<ellipse cx="640" cy="318" rx="12" ry="8" fill="#505050" fill-opacity="1" filter="url(#b4)"/>
<ellipse cx="646" cy="352" rx="10" ry="22" fill="#1a1a1a" fill-opacity="1" filter="url(#b4)"/>
<path d="M652 332 C664 336 668 352 660 368" fill="none" stroke="#f8f8f8" stroke-width="4.5" stroke-opacity="1" stroke-linecap="round" filter="url(#b1_5)"/>
<ellipse cx="666" cy="352" rx="6" ry="12" fill="#909090" fill-opacity="1" filter="url(#b3)"/>
<ellipse cx="660" cy="392" rx="12" ry="12" fill="#262626" fill-opacity="1" filter="url(#b4)"/>
<path d="M640 402 C650 392 662 392 672 398" fill="none" stroke="#f0f0f0" stroke-width="4" stroke-opacity="1" stroke-linecap="round" filter="url(#b2)"/>
<ellipse cx="548" cy="395" rx="8" ry="10" fill="#909090" fill-opacity="1" filter="url(#b4)"/>
<path d="M565 345 C575 335 590 340 590 360" fill="none" stroke="#ececec" stroke-width="3" stroke-opacity="0.8" stroke-linecap="round" filter="url(#b2)"/>
<ellipse cx="571.3" cy="361.4" rx="11" ry="16" fill="#ff1010" fill-opacity="1" filter="url(#b5)"/>
<ellipse cx="605.1" cy="339.2" rx="11" ry="12" fill="#1a1aff" fill-opacity="0.95" filter="url(#b5)"/>
<ellipse cx="602" cy="372" rx="12" ry="12" fill="#10e010" fill-opacity="0.95" filter="url(#b5_5)"/>
<ellipse cx="630" cy="370" rx="12" ry="11" fill="#f0f000" fill-opacity="0.9" filter="url(#b5_5)"/>
<path d="M571.3 323.3 C578 321 583 319.5 587.2 319.5 C592 319.5 596 320.5 598.8 322.2" fill="none" stroke="#e02020" stroke-width="1.1" stroke-linejoin="round"/>
<path d="M598.8 322.2 C596.5 326 595.6 329 595.6 331.8 C596 340 597 346 599.9 350.8 C603 356 607 361 610.4 364.6" fill="none" stroke="#a020a0" stroke-width="1.1" stroke-linejoin="round"/>
<path d="M610.4 364.6 C606 369 604.1 373 604.1 376.2 L603 392.1" fill="none" stroke="#c06020" stroke-width="1.1" stroke-linejoin="round"/>
<path d="M603 392.1 L572.3 392.1 C568 393 565 394.2 561.8 394.2 C555 393 548 390 544.8 386.8 C540 381 537.4 377 537.4 372 C538 364 540 356 542.7 350.8 C547 343 552 336 557.5 331.8 C562 327 567 325 571.3 323.3" fill="none" stroke="#e02020" stroke-width="1.1" stroke-linejoin="round"/>
<path d="M598.8 322.2 C606 326 612 330 618.9 333.9 C626 338 633 343 638 348.7 C640 352 641.1 356 641.1 359.3 C640 363 638.5 366 636.9 367.7" fill="none" stroke="#2020e0" stroke-width="1.1" stroke-linejoin="round"/>
<path d="M610.4 364.6 L625.3 364.6 C630 365.5 634 366.7 636.9 367.7" fill="none" stroke="#3040c0" stroke-width="1.1" stroke-linejoin="round"/>
<path d="M636.9 367.7 C635 370 634 371.5 633.7 373 C629 379 625 383 621 386.8 C614 390 608 391.5 603 392.1" fill="none" stroke="#20d020" stroke-width="1.1" stroke-linejoin="round"/>
</g>
<rect x="532.7" y="305.5" width="140.29999999999995" height="101.60000000000002" fill="none" stroke="#000" stroke-width="2"/>
<rect x="531.5" y="304.3" width="39.800000000000004" height="21.2" fill="#fff"/>
<text x="535.1" y="320.2" font-size="12.5" text-anchor="start" font-weight="bold" fill="#000" >6 mm</text>
<text x="535.7" y="401.4" font-size="10.3" text-anchor="start" font-weight="bold" fill="#000" >RH</text>
<text x="233.0" y="432.3" font-size="21" text-anchor="start" font-weight="bold" fill="#000" >h</text>
<g clip-path="url(#c4)">
<rect x="252.7" y="417" width="140.0" height="92" fill="#d8d8d8"/>
<ellipse cx="322" cy="472" rx="60" ry="30" fill="#e4e4e4" fill-opacity="1" filter="url(#b8)"/>
<ellipse cx="337" cy="420" rx="16" ry="12" fill="#151515" fill-opacity="1" filter="url(#b3)"/>
<ellipse cx="323" cy="446" rx="4" ry="12" fill="#505050" fill-opacity="1" filter="url(#b2_5)"/>
<path d="M321 470 L327 470 L329 512 L319 512 Z" fill="#3a3a3a" fill-opacity="1" filter="url(#b2)"/>
<ellipse cx="324" cy="505" rx="5" ry="8" fill="#101010" fill-opacity="1" filter="url(#b2)"/>
<ellipse cx="300" cy="455" rx="5" ry="18" fill="#a0a0a0" fill-opacity="1" filter="url(#b4)"/>
<ellipse cx="348" cy="455" rx="5" ry="18" fill="#a0a0a0" fill-opacity="1" filter="url(#b4)"/>
<ellipse cx="385" cy="435" rx="15" ry="20" fill="#b8a8d8" fill-opacity="0.6" filter="url(#b6)"/>
<ellipse cx="380" cy="485" rx="15" ry="20" fill="#d8b8b8" fill-opacity="0.5" filter="url(#b6)"/>
<ellipse cx="265" cy="480" rx="15" ry="25" fill="#e8c8c8" fill-opacity="0.6" filter="url(#b6)"/>
<ellipse cx="315" cy="472" rx="64" ry="11" fill="#ff5050" fill-opacity="0.5" filter="url(#b5)" transform="rotate(-5 315 472)"/>
<ellipse cx="318" cy="471" rx="38" ry="7" fill="#ff1010" fill-opacity="0.85" filter="url(#b4)" transform="rotate(-5 318 471)"/>
<ellipse cx="318" cy="471" rx="12" ry="5" fill="#ff1010" fill-opacity="1" filter="url(#b3)" transform="rotate(-5 318 471)"/>
<path d="M275 437 C270 443 268 448 268 455 C267 465 269 473 275.4 479.7 C282 486 287 489 292.3 491.4 C297 493 300 494.6 305 494.6 L341 494.6 C347 494 351 492.5 355.8 490.3 C363 485 368 481 372.8 475.5 C378 467 379 461 379.1 454.3 C379 447 377 441 374.9 437.4 C370 433 366 431.5 362.2 431 C356 429 353 428.5 351.6 428.5 C346 429 342 431 338.9 433.2 C333 438 329 443 325.1 444.8 C320 443 316 441.5 313.5 440.6 C312 439 311.4 438 311.4 437.4" fill="none" stroke="#e02020" stroke-width="1.1" stroke-linejoin="round"/>
<path d="M325.1 444.8 L325.1 494.6" fill="none" stroke="#e02020" stroke-width="1.1" stroke-linejoin="round"/>
</g>
<rect x="252.7" y="417" width="140.0" height="92" fill="none" stroke="#000" stroke-width="2"/>
<rect x="251.5" y="415.8" width="72.60000000000001" height="21.2" fill="#fff"/>
<text x="255.1" y="431.7" font-size="12.5" text-anchor="start" font-weight="bold" fill="#000" >Y = -11 mm</text>
<text x="255.7" y="504.1" font-size="10.3" text-anchor="start" font-weight="bold" fill="#000" >LH</text>
<text x="388.4" y="504.1" font-size="10.3" text-anchor="end" font-weight="bold" fill="#000" >RH</text>
<g clip-path="url(#c5)">
<rect x="392.7" y="417" width="140.00000000000006" height="92" fill="#d6d6d6"/>
<ellipse cx="452" cy="421" rx="10" ry="8" fill="#111" fill-opacity="1" filter="url(#b3)"/>
<ellipse cx="492" cy="421" rx="18" ry="8" fill="#151515" fill-opacity="1" filter="url(#b3)"/>
<ellipse cx="452" cy="433" rx="8" ry="4" fill="#fafafa" fill-opacity="1" filter="url(#b2_5)"/>
<ellipse cx="491" cy="433" rx="12" ry="4" fill="#fafafa" fill-opacity="1" filter="url(#b2_5)"/>
<ellipse cx="520" cy="430" rx="12" ry="10" fill="#d0d0e8" fill-opacity="1" filter="url(#b4)"/>
<ellipse cx="430" cy="500" rx="40" ry="5" fill="#e6e6e6" fill-opacity="1" filter="url(#b3)"/>
<ellipse cx="500" cy="500" rx="30" ry="5" fill="#e6e6e6" fill-opacity="1" filter="url(#b3)"/>
<ellipse cx="412" cy="446" rx="24" ry="16" fill="#3030ff" fill-opacity="0.85" filter="url(#b6)"/>
<ellipse cx="440" cy="450" rx="30" ry="12" fill="#1010ff" fill-opacity="0.95" filter="url(#b5)"/>
<ellipse cx="490" cy="449" rx="26" ry="13" fill="#2a2aff" fill-opacity="0.8" filter="url(#b5)"/>
<ellipse cx="516" cy="444" rx="14" ry="16" fill="#8080e8" fill-opacity="0.55" filter="url(#b6)"/>
<ellipse cx="430" cy="437" rx="28" ry="7" fill="#7070f0" fill-opacity="0.55" filter="url(#b5)"/>
<ellipse cx="495" cy="437" rx="24" ry="7" fill="#8080f0" fill-opacity="0.45" filter="url(#b5)"/>
<ellipse cx="430" cy="466" rx="35" ry="4" fill="#e4e4ee" fill-opacity="0.5" filter="url(#b4)"/>
<ellipse cx="495" cy="466" rx="30" ry="4" fill="#e4e8e0" fill-opacity="0.5" filter="url(#b4)"/>
<ellipse cx="405" cy="482" rx="14" ry="10" fill="#50d050" fill-opacity="0.65" filter="url(#b5)"/>
<ellipse cx="435" cy="484" rx="28" ry="9" fill="#10e010" fill-opacity="0.95" filter="url(#b5)"/>
<ellipse cx="492" cy="483" rx="26" ry="10" fill="#40e040" fill-opacity="0.75" filter="url(#b5)"/>
<ellipse cx="516" cy="481" rx="15" ry="11" fill="#a8e070" fill-opacity="0.6" filter="url(#b6)"/>
<ellipse cx="464" cy="446" rx="5" ry="15" fill="#00006a" fill-opacity="0.95" filter="url(#b2_5)"/>
<ellipse cx="464" cy="478" rx="5" ry="15" fill="#005a00" fill-opacity="0.95" filter="url(#b2_5)"/>
<ellipse cx="464" cy="497" rx="4" ry="5" fill="#000000" fill-opacity="1" filter="url(#b2)"/>
<path d="M401.6 437 C397 443 394.2 449 394.2 454.3 L394.2 458.1 L419.6 458.1 C424 458 427 460 429.2 462.8 C433 466 437 469 440.8 469.6 L457.3 469.6 L457.3 454.3 C456 449 454 446 451.4 443.8 C448 439 445 435 442.9 433.2" fill="none" stroke="#2020e0" stroke-width="1.1" stroke-linejoin="round"/>
<path d="M470.4 469.6 L470.4 450.1 C472 443 475 438 478.9 435.3 C482 432 486 430 489.5 430 C496 428.5 503 428.5 508.5 428.5 C514 430 518 432 521.2 435.3 C526 441 529 446 529.7 450.1 L531.4 458.1 L504.3 458.1 C499 459 496 461 493.7 463.9 C490 467 487 469 485.3 469.6 L470.4 469.6" fill="none" stroke="#2020e0" stroke-width="1.1" stroke-linejoin="round"/>
<path d="M394.2 458.1 L394.2 475.5 C396 481 399 485 402.7 488.2 C406 491 409 493 413.3 494.1 L447.2 494.1 C451 493 454 490 455.6 488.2 C457 484 457.3 478 457.3 469.6" fill="none" stroke="#20e020" stroke-width="1.1" stroke-linejoin="round"/>
<path d="M470.4 469.6 L471.5 486.1 C473 489 476 492 478.9 493.5 L517 493.5 C521 492 525 488 527.6 484 C530 480 531.4 478 531.4 475.5 L531.4 458.1" fill="none" stroke="#20e020" stroke-width="1.1" stroke-linejoin="round"/>
</g>
<rect x="392.7" y="417" width="140.00000000000006" height="92" fill="none" stroke="#000" stroke-width="2"/>
<rect x="391.5" y="415.8" width="50.400000000000006" height="21.2" fill="#fff"/>
<text x="395.1" y="431.7" font-size="12.5" text-anchor="start" font-weight="bold" fill="#000" >-22 mm</text>
<text x="395.7" y="504.1" font-size="10.3" text-anchor="start" font-weight="bold" fill="#000" >LH</text>
<text x="528.4" y="504.1" font-size="10.3" text-anchor="end" font-weight="bold" fill="#000" >RH</text>
<g clip-path="url(#c6)">
<rect x="532.7" y="417" width="140.29999999999995" height="92" fill="#d2d2d2"/>
<ellipse cx="604" cy="426" rx="24" ry="9" fill="#f4f4f4" fill-opacity="1" filter="url(#b4)"/>
<ellipse cx="560" cy="458" rx="22" ry="20" fill="#dcdce6" fill-opacity="1" filter="url(#b6)"/>
<ellipse cx="648" cy="460" rx="22" ry="22" fill="#e2e2d8" fill-opacity="1" filter="url(#b6)"/>
<ellipse cx="604" cy="449" rx="23" ry="17" fill="#0a0a0a" fill-opacity="1" filter="url(#b4)"/>
<ellipse cx="584" cy="452" rx="8" ry="12" fill="#3a3a3a" fill-opacity="1" filter="url(#b4)"/>
<ellipse cx="624" cy="452" rx="8" ry="12" fill="#3a3a3a" fill-opacity="1" filter="url(#b4)"/>
<ellipse cx="595.2" cy="463.7" rx="2.5" ry="2.5" fill="#e8e8e8" fill-opacity="1" filter="url(#b1_2)"/>
<ellipse cx="609.7" cy="463.7" rx="2.5" ry="2.5" fill="#e8e8e8" fill-opacity="1" filter="url(#b1_2)"/>
<ellipse cx="648" cy="426" rx="20" ry="10" fill="#141414" fill-opacity="1" filter="url(#b4)"/>
<ellipse cx="604" cy="502" rx="50" ry="5" fill="#f0f0f0" fill-opacity="1" filter="url(#b3)"/>
<ellipse cx="602.5" cy="503" rx="2.5" ry="3" fill="#202020" fill-opacity="1" filter="url(#b1_5)"/>
<ellipse cx="604" cy="477" rx="18" ry="10" fill="#e0e000" fill-opacity="1" filter="url(#b5)"/>
<ellipse cx="604" cy="480" rx="55" ry="7" fill="#e8e860" fill-opacity="0.45" filter="url(#b6)"/>
<ellipse cx="560" cy="480" rx="22" ry="8" fill="#e0e080" fill-opacity="0.35" filter="url(#b6)"/>
<ellipse cx="650" cy="478" rx="20" ry="9" fill="#e0e090" fill-opacity="0.35" filter="url(#b6)"/>
<path d="M534.2 451.2 C537 446 540 443 542.7 441.6 C548 439 552 437.5 555.4 437.4 C562 437.5 567 439 572.3 440.6 C578 443 582 446 585 449 C589 455 591 459 591.4 462.8 C591 466 590 469 589.3 470.8 C583 469 576 467 570.2 464.9 L568.1 462.8 C564 459 561 456 557.5 453.3 C550 452 540 451.5 534.2 451.2" fill="none" stroke="#2020e0" stroke-width="1.1" stroke-linejoin="round"/>
<path d="M534.2 452.2 L534.2 486.1 C536 489 538 492 540.6 493.5 L568.1 493.5 L568.1 466" fill="none" stroke="#e8e820" stroke-width="1.1" stroke-linejoin="round"/>
<path d="M568.1 466 C576 467 583 469 589.3 471.3 C588 476 586 481 585 484 C580 488 574 491 568.1 493.5" fill="none" stroke="#40e020" stroke-width="1.1" stroke-linejoin="round"/>
<path d="M616.8 469.2 L616.8 456.5 C619 451 622 446 625.3 443.8 C630 440 636 438.5 642.2 438.5 C648 438 654 438.5 659.1 439.5 C664 443 668 447 669.7 451.2 C660 451.5 650 452 640 452.2 C633 455 627 459 622 462 C620 465 618 468 616.8 469.2" fill="none" stroke="#2020e0" stroke-width="1.1" stroke-linejoin="round"/>
<path d="M669.7 451.2 L670.8 486.1 C669 489 667 491 665.5 492.4 L640 493.5 L640 464.9" fill="none" stroke="#e8e820" stroke-width="1.1" stroke-linejoin="round"/>
<path d="M640 464.9 C632 467 624 469 616.8 471.7 C618 476 620 481 623.1 484 C628 488 634 491 639 493.5" fill="none" stroke="#40e020" stroke-width="1.1" stroke-linejoin="round"/>
</g>
<rect x="532.7" y="417" width="140.29999999999995" height="92" fill="none" stroke="#000" stroke-width="2"/>
<rect x="531.5" y="415.8" width="51.400000000000006" height="21.2" fill="#fff"/>
<text x="535.1" y="431.7" font-size="12.5" text-anchor="start" font-weight="bold" fill="#000" >-29 mm</text>
<text x="535.7" y="504.1" font-size="10.3" text-anchor="start" font-weight="bold" fill="#000" >LH</text>
<text x="668.7" y="504.1" font-size="10.3" text-anchor="end" font-weight="bold" fill="#000" >RH</text>
<text x="237.0" y="532.5" font-size="21" text-anchor="start" font-weight="bold" fill="#000" >i</text>
<g clip-path="url(#c7)">
<rect x="252.7" y="518.5" width="104.0" height="85.89999999999998" fill="#d6d0d0"/>
<ellipse cx="320" cy="530" rx="40" ry="15" fill="#e8c8c8" fill-opacity="0.8" filter="url(#b6)"/>
<ellipse cx="262" cy="598" rx="14" ry="8" fill="#e4e4e4" fill-opacity="1" filter="url(#b4)"/>
<ellipse cx="348" cy="596" rx="12" ry="10" fill="#e4e4e4" fill-opacity="1" filter="url(#b4)"/>
<path d="M301 576 L311 576 L342 608 L268 608 Z" fill="#1c1c1c" fill-opacity="0.85" filter="url(#b5)"/>
<ellipse cx="306" cy="598" rx="13" ry="8" fill="#080808" fill-opacity="1" filter="url(#b3)"/>
<path d="M290 590 L280 606" fill="none" stroke="#808080" stroke-width="2" stroke-opacity="1" stroke-linecap="round" filter="url(#b1_5)"/>
<path d="M322 590 L332 606" fill="none" stroke="#808080" stroke-width="2" stroke-opacity="1" stroke-linecap="round" filter="url(#b1_5)"/>
<ellipse cx="262" cy="600" rx="8" ry="6" fill="#d8d8d8" fill-opacity="1" filter="url(#b3)"/>
<ellipse cx="350" cy="600" rx="8" ry="6" fill="#d8d8d8" fill-opacity="1" filter="url(#b3)"/>
<ellipse cx="305" cy="550" rx="2.5" ry="14" fill="#303030" fill-opacity="1" filter="url(#b2)"/>
<ellipse cx="272" cy="548" rx="22" ry="7" fill="#ff2020" fill-opacity="0.65" filter="url(#b5)"/>
<ellipse cx="305" cy="549" rx="50" ry="7" fill="#ff4040" fill-opacity="0.45" filter="url(#b5)"/>
<ellipse cx="300" cy="567" rx="40" ry="6" fill="#10f010" fill-opacity="0.9" filter="url(#b4)"/>
<ellipse cx="270" cy="567" rx="15" ry="5" fill="#40e040" fill-opacity="0.6" filter="url(#b4)"/>
<ellipse cx="335" cy="566" rx="18" ry="5" fill="#60e060" fill-opacity="0.6" filter="url(#b4)"/>
<ellipse cx="306" cy="569" rx="6" ry="5" fill="#0a500a" fill-opacity="0.9" filter="url(#b2_5)"/>
<ellipse cx="300" cy="580" rx="40" ry="6" fill="#e8e820" fill-opacity="0.8" filter="url(#b4)"/>
<ellipse cx="265" cy="580" rx="15" ry="6" fill="#e8e880" fill-opacity="0.5" filter="url(#b5)"/>
<ellipse cx="306" cy="581" rx="14" ry="6" fill="#b8b800" fill-opacity="0.8" filter="url(#b3)"/>
<path d="M306.2 538 L306.2 563.2" fill="none" stroke="#e02020" stroke-width="1.1" stroke-linejoin="round"/>
<path d="M281.3 539.1 C281 542 280.5 544.5 279.7 546.3 C277 549 275 551 273.3 552.7 C276 556 279 558 282.1 559.2 C286 560.5 290 561.2 293.4 561.6 C298 562.3 302 562.8 306.2 563.2" fill="none" stroke="#d03020" stroke-width="1.1" stroke-linejoin="round"/>
<path d="M314.2 524.6 L320.7 524.6 C324 527 327 530 328.7 532.7 C330.5 537 331.5 542 331.9 545.5 C333 548 335.5 551 337.5 552.7 C334 556 331 558.5 328.7 560 C325 561 321 561.5 317.4 561.9 C313 562.5 309 563 306.2 563.2" fill="none" stroke="#d03020" stroke-width="1.1" stroke-linejoin="round"/>
<path d="M273.3 552.7 C269 557 265 562 262.8 566.4 C261.5 569 261.2 571 261.2 572.8 C264 573.5 266.5 574 269.3 574.4 C272.5 575 276 576 278.9 576.8 C283 579 286.5 582 289.3 584.1 C292 580 295 576 298.2 572 C301 569 304 566 306.2 563.2" fill="none" stroke="#60d020" stroke-width="1.1" stroke-linejoin="round"/>
<path d="M337.5 552.7 C342 557 345.5 562 348 566.4 C348.6 569 348.8 571 348.8 572.8 C346 573.8 343 574.5 339.9 575.2 C334 578 328 581.5 323.9 584.1 C320 580 317 575 314.2 571.2 C311 567 308.5 565 306.2 563.2" fill="none" stroke="#60d020" stroke-width="1.1" stroke-linejoin="round"/>
<path d="M261.2 573.6 C258 577 256 581 254.8 584.1 C255.5 588 256.5 591 258 593.7 C261 597 264 599.5 267.7 600.9 C271 600 273.5 599.3 275.7 598.5 C280 593 285 588 289.3 584.1" fill="none" stroke="#e0e020" stroke-width="1.1" stroke-linejoin="round"/>
<path d="M348.8 573.6 C351 577 353.5 581 355.2 584.1 C354 588 352.5 591 351.2 593.7 C347 597 343 599.5 339.9 600.9 C336 599 333.5 597.5 331.1 596.1 C328 592 325 588 323.1 584.1" fill="none" stroke="#e0e020" stroke-width="1.1" stroke-linejoin="round"/>
</g>
<rect x="252.7" y="518.5" width="104.0" height="85.89999999999998" fill="none" stroke="#000" stroke-width="2"/>
<rect x="251.5" y="517.3" width="62.7" height="21.2" fill="#fff"/>
<text x="255.1" y="533.2" font-size="12.5" text-anchor="start" font-weight="bold" fill="#000" >Z = 0 mm</text>
<text x="255.7" y="598.7" font-size="10.3" text-anchor="start" font-weight="bold" fill="#000" >LH</text>
<text x="352.4" y="598.7" font-size="10.3" text-anchor="end" font-weight="bold" fill="#000" >RH</text>
<g clip-path="url(#c8)">
<rect x="356.7" y="518.5" width="104.0" height="85.89999999999998" fill="#d4d0d0"/>
<ellipse cx="430" cy="530" rx="25" ry="12" fill="#e8c4c4" fill-opacity="0.8" filter="url(#b6)"/>
<ellipse cx="406" cy="522" rx="8" ry="6" fill="#404040" fill-opacity="1" filter="url(#b3)"/>
<ellipse cx="368" cy="596" rx="12" ry="8" fill="#e8e8e8" fill-opacity="1" filter="url(#b4)"/>
<ellipse cx="452" cy="596" rx="10" ry="8" fill="#e8e8e8" fill-opacity="1" filter="url(#b4)"/>
<path d="M400 570 L418 570 L428 606 L390 606 Z" fill="#1a1a1a" fill-opacity="1" filter="url(#b4)"/>
<ellipse cx="372" cy="546" rx="12" ry="7" fill="#f09090" fill-opacity="0.5" filter="url(#b5)"/>
<ellipse cx="410" cy="542.5" rx="36" ry="6" fill="#ff2020" fill-opacity="0.85" filter="url(#b4)" transform="rotate(-8 410 542.5)"/>
<ellipse cx="410" cy="542.5" rx="18" ry="4.5" fill="#ff0000" fill-opacity="1" filter="url(#b3)" transform="rotate(-8 410 542.5)"/>
<ellipse cx="430" cy="556" rx="30" ry="6" fill="#20b040" fill-opacity="0.7" filter="url(#b5)"/>
<ellipse cx="409" cy="560" rx="10" ry="5" fill="#109030" fill-opacity="0.7" filter="url(#b3)"/>
<ellipse cx="378" cy="566" rx="20" ry="7" fill="#8890d0" fill-opacity="0.55" filter="url(#b5)"/>
<ellipse cx="440" cy="566" rx="15" ry="6" fill="#80c080" fill-opacity="0.4" filter="url(#b5)"/>
<ellipse cx="409" cy="580" rx="40" ry="5" fill="#e0e040" fill-opacity="0.6" filter="url(#b5)"/>
<ellipse cx="409" cy="582" rx="12" ry="6" fill="#b8b820" fill-opacity="0.8" filter="url(#b3)"/>
<path d="M409.4 527 L409.4 567.6" fill="none" stroke="#e02020" stroke-width="1.1" stroke-linejoin="round"/>
<path d="M395.8 522.2 C399 522.5 401.5 523 403.8 523.8 C406 525 408 526 409.4 527 C411 526 413 525 415 524.6 C418 523.5 420.5 522.5 423 522.2 C427 523 430 524 432.7 525.4 C436 528 438.5 531 440.7 534.3 C443 538 445.5 543 447.1 547.1 C448 550 448.5 552 448.7 553.8" fill="none" stroke="#e02020" stroke-width="1.1" stroke-linejoin="round"/>
<path d="M374.9 538.3 C372.5 541 371 544 370.1 547.1 C369.5 550 369 552 368.3 554.6" fill="none" stroke="#e02020" stroke-width="1.1" stroke-linejoin="round"/>
<path d="M368.3 554.6 C373 557 378 559.5 384.4 561.5 C392 563.5 401 565.5 408.9 567.6 C416 565.5 425 563.5 432.6 561.5 C439 559 444 556.5 448.7 553.8" fill="none" stroke="#a04040" stroke-width="1.1" stroke-linejoin="round"/>
<path d="M368.3 554.6 C364 559 361.5 563 360.6 567.6 L360.3 575.3" fill="none" stroke="#40c040" stroke-width="1.1" stroke-linejoin="round"/>
<path d="M448.7 553.8 C453 558 456 562.5 457.2 567.6 L457.2 575.3" fill="none" stroke="#40c040" stroke-width="1.1" stroke-linejoin="round"/>
<path d="M384.4 561.5 C388 564.5 391 567.5 392 570.7 L392.8 581.4 C393.5 585 394.2 587.5 395 589.8" fill="none" stroke="#3030d0" stroke-width="1.1" stroke-linejoin="round"/>
<path d="M406.6 568.4 C404 571.5 402 575 401.2 578.3 C400 581.5 398.5 585 397.4 587.5 L395 589.8" fill="none" stroke="#3030c0" stroke-width="1.1" stroke-linejoin="round"/>
<path d="M411.2 568.4 C413.5 571.5 416 575 417.3 578.3 C419 581.5 421.5 585.5 423.4 589" fill="none" stroke="#3030c0" stroke-width="1.1" stroke-linejoin="round"/>
<path d="M432.6 561.5 C430 565 428 569.5 427.3 573.7 C426.5 577 426 581 425.7 584.5 L423.4 589" fill="none" stroke="#3030d0" stroke-width="1.1" stroke-linejoin="round"/>
<path d="M360.6 575.3 C364 574.5 367.5 574 371.3 573.7 C377 575 382 576.5 386.7 578.3 C389 579.5 390.5 580.8 392 582.2" fill="none" stroke="#b0e020" stroke-width="1.1" stroke-linejoin="round"/>
<path d="M457.2 575.3 C453 574.5 449 574.2 444.9 574 C440 576 436 578 432.6 579.9 C430 581 428 582 426.5 582.9" fill="none" stroke="#b0e020" stroke-width="1.1" stroke-linejoin="round"/>
<path d="M360.6 575.3 C360.8 579 361 583 361.4 586 C363 589 365.5 591.5 368.3 592.9 C375 593.5 382 594 388.2 594 C391 592.8 393.2 591.3 395 589.8" fill="none" stroke="#e0e020" stroke-width="1.1" stroke-linejoin="round"/>
<path d="M457.2 575.3 C457 579 456.8 583 456.4 586 C454.5 589 452 591.5 449.5 592.9 C443 593.8 436 594.3 429.6 594.4 C427 592.8 425 591 423.4 589" fill="none" stroke="#e0e020" stroke-width="1.1" stroke-linejoin="round"/>
</g>
<rect x="356.7" y="518.5" width="104.0" height="85.89999999999998" fill="none" stroke="#000" stroke-width="2"/>
<rect x="355.5" y="517.3" width="39.5" height="21.2" fill="#fff"/>
<text x="359.1" y="533.2" font-size="12.5" text-anchor="start" font-weight="bold" fill="#000" >5 mm</text>
<text x="359.7" y="598.7" font-size="10.3" text-anchor="start" font-weight="bold" fill="#000" >LH</text>
<text x="456.4" y="598.7" font-size="10.3" text-anchor="end" font-weight="bold" fill="#000" >RH</text>
<g clip-path="url(#c9)">
<rect x="460.7" y="518.5" width="104.80000000000001" height="85.89999999999998" fill="#d4d4d4"/>
<ellipse cx="512" cy="527" rx="7" ry="10" fill="#303030" fill-opacity="1" filter="url(#b3)"/>
<ellipse cx="540" cy="537" rx="22" ry="6" fill="#f0a0a0" fill-opacity="0.8" filter="url(#b5)"/>
<ellipse cx="550" cy="552" rx="14" ry="6" fill="#a0d0b0" fill-opacity="0.6" filter="url(#b5)"/>
<ellipse cx="555" cy="575" rx="10" ry="12" fill="#e8e8d0" fill-opacity="0.7" filter="url(#b5)"/>
<ellipse cx="512" cy="575" rx="10" ry="9" fill="#202020" fill-opacity="1" filter="url(#b3)"/>
<path d="M473 606 Q474 589 512 586 Q552 589 553 606 Z" fill="#f4f4f4" fill-opacity="1" filter="url(#b1_5)"/>
<path d="M470 604 Q471 586 512 583.5 Q555 586 556 604" fill="none" stroke="#141414" stroke-width="3.2" stroke-opacity="1" stroke-linecap="round" filter="url(#b1_5)"/>
<ellipse cx="511" cy="564" rx="38" ry="6.5" fill="#2020ff" fill-opacity="0.9" filter="url(#b4)" transform="rotate(-6 511 564)"/>
<ellipse cx="505" cy="565" rx="20" ry="5" fill="#0000ff" fill-opacity="1" filter="url(#b3)" transform="rotate(-6 505 565)"/>
<ellipse cx="540" cy="558" rx="14" ry="5" fill="#6060f0" fill-opacity="0.6" filter="url(#b4)" transform="rotate(-6 540 558)"/>
<path d="M513.4 531.1 L513.4 564" fill="none" stroke="#e02020" stroke-width="1.1" stroke-linejoin="round"/>
<path d="M507.8 528.7 C510 529.5 512 530.3 513.4 531.1 C516 529 519 527 522.2 525.4 C525 524.5 528.5 524 531.9 523.8 C536 525 540 527 543.1 529.5 C546 532.5 548 536 549.5 540.7 C550.5 544 551 546.5 551.1 548.7" fill="none" stroke="#e02020" stroke-width="1.1" stroke-linejoin="round"/>
<path d="M476.5 538.3 C475 541.5 474 545 473.3 548.7 C479 550 485 551.5 490.1 552.7 C498 555.5 506 559.5 513.4 564 C520 561 526 558 530.3 555.1 C537 552.5 544 550.5 551.1 548.7" fill="none" stroke="#b02060" stroke-width="1.1" stroke-linejoin="round"/>
<path d="M473.3 548.7 C470 553 467.5 558 466 563.2 C465.5 566 465.2 568.5 465.2 571.2 C465.5 575 466.5 579 467.6 582.4 C470 585.5 473.5 588 477.3 589.7 L493.3 589.7 C497 587 500.5 583 503 579.2 C504.5 576 505.5 573 506.2 569.6 C508 567.5 510.5 565.5 513.4 564" fill="none" stroke="#2020e0" stroke-width="1.1" stroke-linejoin="round"/>
<path d="M551.1 548.7 C553.5 552 556 556 557.6 560 C559 564 559.8 567.5 560 571.2 C559.8 575 558.8 579 557.6 582.4 C555 585.5 551.5 588 547.9 589.7 L528.7 589.7 C525.5 586 523 582.5 521.4 579.2 C520.5 576 519.7 573 519 569.6 C517 567.5 515 565.5 513.4 564" fill="none" stroke="#2020e0" stroke-width="1.1" stroke-linejoin="round"/>
<path d="M465.2 571.2 C470 572 474.5 573 478.9 574.4 C480.5 576 481.5 577.5 482.1 579.2 C481 582.5 479 585.5 476.5 588.1 C472 587 468 585 466 583 C465.5 578 465.2 574 465.2 571.2" fill="none" stroke="#e0e020" stroke-width="1.1" stroke-linejoin="round"/>
<path d="M560 571.2 C555 572 550.5 573 546.3 574.4 C545.5 576 545 577.5 544.7 579.2 C546 582 548.5 584.5 551.1 586.5 C554 585 557 583 559.2 582 C559.8 578 560 574 560 571.2" fill="none" stroke="#e0e020" stroke-width="1.1" stroke-linejoin="round"/>
<path d="M465.5 570 L472 571.2 M553 571.2 L560 570" fill="none" stroke="#20c020" stroke-width="1.1" stroke-linejoin="round"/>
</g>
<rect x="460.7" y="518.5" width="104.80000000000001" height="85.89999999999998" fill="none" stroke="#000" stroke-width="2"/>
<rect x="459.5" y="517.3" width="47.2" height="21.2" fill="#fff"/>
<text x="463.1" y="533.2" font-size="12.5" text-anchor="start" font-weight="bold" fill="#000" >10 mm</text>
<text x="463.7" y="598.7" font-size="10.3" text-anchor="start" font-weight="bold" fill="#000" >LH</text>
<text x="561.2" y="598.7" font-size="10.3" text-anchor="end" font-weight="bold" fill="#000" >RH</text>
<text x="5.3" y="635.8" font-size="22" text-anchor="start" font-weight="bold" fill="#000" >j</text>
<text x="15.9" y="642.0" font-size="10.4" text-anchor="start" font-weight="bold" fill="#000" >LH</text>
<text x="84.5" y="640.6" font-size="11" text-anchor="middle" font-weight="bold" fill="#000" >Targeting VA</text>
<text x="138.0" y="642.0" font-size="10.4" text-anchor="start" font-weight="bold" fill="#000" >RH</text>
<rect x="59.94" y="643.4" width="56.24" height="17.80" fill="#f2b4b4"/>
<line x1="83.95" y1="643.4" x2="83.95" y2="661.2" stroke="#c03030" stroke-width="1"/>
<rect x="117.89" y="652.49" width="1.3" height="1.0" fill="#333" fill-opacity="0.8"/>
<rect x="83.86" y="651.67" width="1.3" height="1.0" fill="#333" fill-opacity="0.8"/>
<rect x="90.60" y="650.57" width="1.3" height="1.0" fill="#333" fill-opacity="0.8"/>
<rect x="74.80" y="651.63" width="1.3" height="1.0" fill="#333" fill-opacity="0.8"/>
<rect x="119.36" y="652.38" width="1.3" height="1.0" fill="#333" fill-opacity="0.8"/>
<rect x="127.35" y="652.84" width="1.3" height="1.0" fill="#333" fill-opacity="0.8"/>
<rect x="38.42" y="651.91" width="1.3" height="1.0" fill="#333" fill-opacity="0.8"/>
<rect x="87.88" y="651.49" width="1.3" height="1.0" fill="#333" fill-opacity="0.8"/>
<rect x="76.77" y="650.58" width="1.3" height="1.0" fill="#333" fill-opacity="0.8"/>
<rect x="78.29" y="651.79" width="1.3" height="1.0" fill="#333" fill-opacity="0.8"/>
<rect x="58.28" y="651.07" width="1.3" height="1.0" fill="#333" fill-opacity="0.8"/>
<rect x="63.97" y="650.56" width="1.3" height="1.0" fill="#333" fill-opacity="0.8"/>
<rect x="47.95" y="650.98" width="1.3" height="1.0" fill="#333" fill-opacity="0.8"/>
<rect x="72.82" y="652.74" width="1.3" height="1.0" fill="#333" fill-opacity="0.8"/>
<rect x="68.12" y="652.38" width="1.3" height="1.0" fill="#333" fill-opacity="0.8"/>
<rect x="115.81" y="652.66" width="1.3" height="1.0" fill="#333" fill-opacity="0.8"/>
<rect x="75.49" y="651.29" width="1.3" height="1.0" fill="#333" fill-opacity="0.8"/>
<rect x="121.27" y="652.70" width="1.3" height="1.0" fill="#333" fill-opacity="0.8"/>
<rect x="92.90" y="650.59" width="1.3" height="1.0" fill="#333" fill-opacity="0.8"/>
<rect x="113.05" y="651.58" width="1.3" height="1.0" fill="#333" fill-opacity="0.8"/>
<rect x="89.02" y="652.33" width="1.3" height="1.0" fill="#333" fill-opacity="0.8"/>
<rect x="65.16" y="651.82" width="1.3" height="1.0" fill="#333" fill-opacity="0.8"/>
<rect x="109.84" y="651.85" width="1.3" height="1.0" fill="#333" fill-opacity="0.8"/>
<rect x="83.30" y="650.58" width="1.3" height="1.0" fill="#333" fill-opacity="0.8"/>
<rect x="103.96" y="653.06" width="1.3" height="1.0" fill="#333" fill-opacity="0.8"/>
<rect x="74.01" y="650.94" width="1.3" height="1.0" fill="#333" fill-opacity="0.8"/>
<rect x="130.90" y="652.50" width="1.3" height="1.0" fill="#333" fill-opacity="0.8"/>
<rect x="119.13" y="651.10" width="1.3" height="1.0" fill="#333" fill-opacity="0.8"/>
<rect x="128.04" y="652.00" width="1.3" height="1.0" fill="#333" fill-opacity="0.8"/>
<rect x="61.99" y="651.92" width="1.3" height="1.0" fill="#333" fill-opacity="0.8"/>
<rect x="133.90" y="652.63" width="1.3" height="1.0" fill="#333" fill-opacity="0.8"/>
<rect x="89.30" y="652.43" width="1.3" height="1.0" fill="#333" fill-opacity="0.8"/>
<rect x="50.00" y="651.61" width="1.3" height="1.0" fill="#333" fill-opacity="0.8"/>
<rect x="120.07" y="651.98" width="1.3" height="1.0" fill="#333" fill-opacity="0.8"/>
<rect x="84.75" y="651.76" width="1.3" height="1.0" fill="#333" fill-opacity="0.8"/>
<rect x="69.42" y="651.90" width="1.3" height="1.0" fill="#333" fill-opacity="0.8"/>
<rect x="83.04" y="652.09" width="1.3" height="1.0" fill="#333" fill-opacity="0.8"/>
<rect x="38.66" y="651.10" width="1.3" height="1.0" fill="#333" fill-opacity="0.8"/>
<rect x="92.46" y="652.74" width="1.3" height="1.0" fill="#333" fill-opacity="0.8"/>
<rect x="103.23" y="651.16" width="1.3" height="1.0" fill="#333" fill-opacity="0.8"/>
<rect x="35.71" y="652.25" width="1.3" height="1.0" fill="#333" fill-opacity="0.8"/>
<rect x="37.57" y="650.54" width="1.3" height="1.0" fill="#333" fill-opacity="0.8"/>
<rect x="87.50" y="652.12" width="1.3" height="1.0" fill="#333" fill-opacity="0.8"/>
<rect x="42.68" y="650.92" width="1.3" height="1.0" fill="#333" fill-opacity="0.8"/>
<rect x="52.22" y="651.21" width="1.3" height="1.0" fill="#333" fill-opacity="0.8"/>
<rect x="101.61" y="651.68" width="1.3" height="1.0" fill="#333" fill-opacity="0.8"/>
<rect x="81.76" y="650.56" width="1.3" height="1.0" fill="#333" fill-opacity="0.8"/>
<rect x="76.65" y="650.99" width="1.3" height="1.0" fill="#333" fill-opacity="0.8"/>
<rect x="122.95" y="651.83" width="1.3" height="1.0" fill="#333" fill-opacity="0.8"/>
<rect x="94.51" y="652.62" width="1.3" height="1.0" fill="#333" fill-opacity="0.8"/>
<rect x="37.69" y="650.88" width="1.3" height="1.0" fill="#333" fill-opacity="0.8"/>
<rect x="111.99" y="652.26" width="1.3" height="1.0" fill="#333" fill-opacity="0.8"/>
<rect x="57.29" y="653.04" width="1.3" height="1.0" fill="#333" fill-opacity="0.8"/>
<rect x="126.24" y="651.84" width="1.3" height="1.0" fill="#333" fill-opacity="0.8"/>
<rect x="98.65" y="651.53" width="1.3" height="1.0" fill="#333" fill-opacity="0.8"/>
<rect x="67.02" y="652.14" width="1.3" height="1.0" fill="#333" fill-opacity="0.8"/>
<rect x="64.83" y="653.02" width="1.3" height="1.0" fill="#333" fill-opacity="0.8"/>
<rect x="67.30" y="651.31" width="1.3" height="1.0" fill="#333" fill-opacity="0.8"/>
<rect x="133.90" y="652.43" width="1.3" height="1.0" fill="#333" fill-opacity="0.8"/>
<rect x="60.36" y="650.52" width="1.3" height="1.0" fill="#333" fill-opacity="0.8"/>
<line x1="58.42" y1="644.4" x2="58.42" y2="660.2" stroke="#e01010" stroke-width="0.9"/>
<line x1="59.94" y1="644.4" x2="59.94" y2="660.2" stroke="#e01010" stroke-width="0.9"/>
<line x1="61.46" y1="644.4" x2="61.46" y2="660.2" stroke="#e01010" stroke-width="0.9"/>
<line x1="114.66" y1="644.4" x2="114.66" y2="660.2" stroke="#e01010" stroke-width="0.9"/>
<line x1="116.18" y1="644.4" x2="116.18" y2="660.2" stroke="#e01010" stroke-width="0.9"/>
<line x1="117.69" y1="644.4" x2="117.69" y2="660.2" stroke="#e01010" stroke-width="0.9"/>
<text x="29.4" y="656.3" font-size="10" text-anchor="end" fill="#000" >VA</text>
<text x="138.0" y="656.3" font-size="10" text-anchor="start" fill="#000" >VA</text>
<line x1="33.4" y1="652.30" x2="34.9" y2="652.30" stroke="#666" stroke-width="0.7"/>
<line x1="134.5" y1="652.30" x2="133.0" y2="652.30" stroke="#666" stroke-width="0.7"/>
<line x1="83.95" y1="661.2" x2="83.95" y2="679.2" stroke="#208020" stroke-width="1"/>
<rect x="85.62" y="670.90" width="1.3" height="1.0" fill="#333" fill-opacity="0.8"/>
<rect x="80.73" y="670.66" width="1.3" height="1.0" fill="#333" fill-opacity="0.8"/>
<rect x="83.90" y="670.23" width="1.3" height="1.0" fill="#333" fill-opacity="0.8"/>
<rect x="81.38" y="669.30" width="1.3" height="1.0" fill="#333" fill-opacity="0.8"/>
<line x1="83.95" y1="667.2" x2="83.95" y2="673.2" stroke="#000" stroke-width="1.6"/>
<text x="29.4" y="674.2" font-size="10" text-anchor="end" fill="#000" >VP</text>
<text x="138.0" y="674.2" font-size="10" text-anchor="start" fill="#000" >VP</text>
<line x1="33.4" y1="670.20" x2="34.9" y2="670.20" stroke="#666" stroke-width="0.7"/>
<line x1="134.5" y1="670.20" x2="133.0" y2="670.20" stroke="#666" stroke-width="0.7"/>
<line x1="83.95" y1="679.2" x2="83.95" y2="697.1" stroke="#3030c0" stroke-width="1"/>
<rect x="84.20" y="687.48" width="1.3" height="1.0" fill="#333" fill-opacity="0.8"/>
<rect x="83.48" y="688.08" width="1.3" height="1.0" fill="#333" fill-opacity="0.8"/>
<rect x="83.98" y="687.20" width="1.3" height="1.0" fill="#333" fill-opacity="0.8"/>
<line x1="83.95" y1="685.1500000000001" x2="83.95" y2="691.1500000000001" stroke="#000" stroke-width="1.6"/>
<text x="29.4" y="692.2" font-size="10" text-anchor="end" fill="#000" >DA</text>
<text x="138.0" y="692.2" font-size="10" text-anchor="start" fill="#000" >DA</text>
<line x1="33.4" y1="688.15" x2="34.9" y2="688.15" stroke="#666" stroke-width="0.7"/>
<line x1="134.5" y1="688.15" x2="133.0" y2="688.15" stroke="#666" stroke-width="0.7"/>
<line x1="83.95" y1="697.1" x2="83.95" y2="715.0" stroke="#707020" stroke-width="1"/>
<rect x="83.55" y="704.77" width="1.3" height="1.0" fill="#333" fill-opacity="0.8"/>
<rect x="83.35" y="706.29" width="1.3" height="1.0" fill="#333" fill-opacity="0.8"/>
<line x1="83.95" y1="703.05" x2="83.95" y2="709.05" stroke="#000" stroke-width="1.6"/>
<text x="29.4" y="710.0" font-size="10" text-anchor="end" fill="#000" >DP</text>
<text x="138.0" y="710.0" font-size="10" text-anchor="start" fill="#000" >DP</text>
<line x1="33.4" y1="706.05" x2="34.9" y2="706.05" stroke="#666" stroke-width="0.7"/>
<line x1="134.5" y1="706.05" x2="133.0" y2="706.05" stroke="#666" stroke-width="0.7"/>
<rect x="82.69" y="715.0" width="6.32" height="17.70" fill="#c4c4c4"/>
<line x1="83.95" y1="715.0" x2="83.95" y2="732.7" stroke="#333" stroke-width="1"/>
<rect x="73.35" y="723.80" width="1.3" height="1.0" fill="#333" fill-opacity="0.8"/>
<rect x="84.75" y="724.47" width="1.3" height="1.0" fill="#333" fill-opacity="0.8"/>
<rect x="111.41" y="723.84" width="1.3" height="1.0" fill="#333" fill-opacity="0.8"/>
<rect x="117.28" y="722.66" width="1.3" height="1.0" fill="#333" fill-opacity="0.8"/>
<rect x="87.57" y="724.42" width="1.3" height="1.0" fill="#333" fill-opacity="0.8"/>
<rect x="104.40" y="723.61" width="1.3" height="1.0" fill="#333" fill-opacity="0.8"/>
<rect x="86.61" y="723.01" width="1.3" height="1.0" fill="#333" fill-opacity="0.8"/>
<rect x="77.80" y="724.31" width="1.3" height="1.0" fill="#333" fill-opacity="0.8"/>
<rect x="94.11" y="722.40" width="1.3" height="1.0" fill="#333" fill-opacity="0.8"/>
<rect x="67.16" y="722.15" width="1.3" height="1.0" fill="#333" fill-opacity="0.8"/>
<rect x="110.49" y="724.10" width="1.3" height="1.0" fill="#333" fill-opacity="0.8"/>
<rect x="82.63" y="722.94" width="1.3" height="1.0" fill="#333" fill-opacity="0.8"/>
<rect x="86.10" y="723.53" width="1.3" height="1.0" fill="#333" fill-opacity="0.8"/>
<rect x="65.88" y="722.74" width="1.3" height="1.0" fill="#333" fill-opacity="0.8"/>
<rect x="81.02" y="723.52" width="1.3" height="1.0" fill="#333" fill-opacity="0.8"/>
<rect x="81.81" y="724.10" width="1.3" height="1.0" fill="#333" fill-opacity="0.8"/>
<rect x="86.18" y="722.08" width="1.3" height="1.0" fill="#333" fill-opacity="0.8"/>
<rect x="87.08" y="724.35" width="1.3" height="1.0" fill="#333" fill-opacity="0.8"/>
<rect x="74.86" y="724.62" width="1.3" height="1.0" fill="#333" fill-opacity="0.8"/>
<rect x="67.81" y="722.49" width="1.3" height="1.0" fill="#333" fill-opacity="0.8"/>
<rect x="103.55" y="722.32" width="1.3" height="1.0" fill="#333" fill-opacity="0.8"/>
<rect x="86.44" y="723.03" width="1.3" height="1.0" fill="#333" fill-opacity="0.8"/>
<rect x="88.35" y="722.71" width="1.3" height="1.0" fill="#333" fill-opacity="0.8"/>
<rect x="66.93" y="723.75" width="1.3" height="1.0" fill="#333" fill-opacity="0.8"/>
<rect x="61.83" y="724.60" width="1.3" height="1.0" fill="#333" fill-opacity="0.8"/>
<rect x="95.16" y="723.22" width="1.3" height="1.0" fill="#333" fill-opacity="0.8"/>
<rect x="64.82" y="724.42" width="1.3" height="1.0" fill="#333" fill-opacity="0.8"/>
<rect x="83.25" y="724.57" width="1.3" height="1.0" fill="#333" fill-opacity="0.8"/>
<rect x="73.47" y="723.66" width="1.3" height="1.0" fill="#333" fill-opacity="0.8"/>
<rect x="78.74" y="723.77" width="1.3" height="1.0" fill="#333" fill-opacity="0.8"/>
<rect x="92.03" y="722.85" width="1.3" height="1.0" fill="#333" fill-opacity="0.8"/>
<rect x="65.86" y="722.78" width="1.3" height="1.0" fill="#333" fill-opacity="0.8"/>
<rect x="83.45" y="723.21" width="1.3" height="1.0" fill="#333" fill-opacity="0.8"/>
<rect x="78.72" y="723.07" width="1.3" height="1.0" fill="#333" fill-opacity="0.8"/>
<rect x="79.84" y="722.87" width="1.3" height="1.0" fill="#333" fill-opacity="0.8"/>
<rect x="77.00" y="724.37" width="1.3" height="1.0" fill="#333" fill-opacity="0.8"/>
<rect x="80.25" y="723.46" width="1.3" height="1.0" fill="#333" fill-opacity="0.8"/>
<rect x="95.13" y="722.69" width="1.3" height="1.0" fill="#333" fill-opacity="0.8"/>
<rect x="75.10" y="722.24" width="1.3" height="1.0" fill="#333" fill-opacity="0.8"/>
<rect x="65.27" y="722.25" width="1.3" height="1.0" fill="#333" fill-opacity="0.8"/>
<line x1="81.17" y1="716.0" x2="81.17" y2="731.7" stroke="#000" stroke-width="0.9"/>
<line x1="82.69" y1="716.0" x2="82.69" y2="731.7" stroke="#000" stroke-width="0.9"/>
<line x1="84.20" y1="716.0" x2="84.20" y2="731.7" stroke="#000" stroke-width="0.9"/>
<line x1="87.49" y1="716.0" x2="87.49" y2="731.7" stroke="#000" stroke-width="0.9"/>
<line x1="89.00" y1="716.0" x2="89.00" y2="731.7" stroke="#000" stroke-width="0.9"/>
<line x1="90.52" y1="716.0" x2="90.52" y2="731.7" stroke="#000" stroke-width="0.9"/>
<text x="29.4" y="727.9" font-size="10" text-anchor="end" fill="#000" >Other</text>
<text x="138.0" y="727.9" font-size="10" text-anchor="start" fill="#000" >Other</text>
<line x1="33.4" y1="723.85" x2="34.9" y2="723.85" stroke="#666" stroke-width="0.7"/>
<line x1="134.5" y1="723.85" x2="133.0" y2="723.85" stroke="#666" stroke-width="0.7"/>
<line x1="33.4" y1="661.2" x2="134.5" y2="661.2" stroke="#7a7a7a" stroke-width="0.9"/>
<line x1="33.4" y1="679.2" x2="134.5" y2="679.2" stroke="#7a7a7a" stroke-width="0.9"/>
<line x1="33.4" y1="697.1" x2="134.5" y2="697.1" stroke="#7a7a7a" stroke-width="0.9"/>
<line x1="33.4" y1="715.0" x2="134.5" y2="715.0" stroke="#7a7a7a" stroke-width="0.9"/>
<rect x="33.4" y="643.4" width="101.1" height="89.3" fill="none" stroke="#7a7a7a" stroke-width="0.9"/>
<text x="33.4" y="747.5" font-size="10" text-anchor="middle" fill="#000" >80</text>
<line x1="33.40" y1="732.7" x2="33.40" y2="731" stroke="#666" stroke-width="0.7"/>
<text x="58.7" y="747.5" font-size="10" text-anchor="middle" fill="#000" >40</text>
<line x1="58.68" y1="732.7" x2="58.68" y2="731" stroke="#666" stroke-width="0.7"/>
<text x="84.0" y="747.5" font-size="10" text-anchor="middle" fill="#000" >0</text>
<line x1="83.95" y1="732.7" x2="83.95" y2="731" stroke="#666" stroke-width="0.7"/>
<text x="109.2" y="747.5" font-size="10" text-anchor="middle" fill="#000" >40</text>
<line x1="109.22" y1="732.7" x2="109.22" y2="731" stroke="#666" stroke-width="0.7"/>
<text x="134.5" y="747.5" font-size="10" text-anchor="middle" fill="#000" >80</text>
<line x1="134.50" y1="732.7" x2="134.50" y2="731" stroke="#666" stroke-width="0.7"/>
<text x="84.0" y="761.0" font-size="10.6" text-anchor="middle" fill="#000" >Coverage (%)</text>
<text x="173.5" y="635.8" font-size="21" text-anchor="start" font-weight="bold" fill="#000" >k</text>
<text x="186.4" y="642.0" font-size="10.4" text-anchor="start" font-weight="bold" fill="#000" >LH</text>
<text x="254.9" y="640.6" font-size="11" text-anchor="middle" font-weight="bold" fill="#000" >Targeting VP</text>
<text x="308.5" y="642.0" font-size="10.4" text-anchor="start" font-weight="bold" fill="#000" >RH</text>
<rect x="251.29" y="643.4" width="15.80" height="17.80" fill="#f2b4b4"/>
<line x1="254.45" y1="643.4" x2="254.45" y2="661.2" stroke="#c03030" stroke-width="1"/>
<rect x="261.55" y="650.72" width="1.3" height="1.0" fill="#333" fill-opacity="0.8"/>
<rect x="257.58" y="652.41" width="1.3" height="1.0" fill="#333" fill-opacity="0.8"/>
<rect x="254.12" y="652.08" width="1.3" height="1.0" fill="#333" fill-opacity="0.8"/>
<rect x="248.36" y="651.62" width="1.3" height="1.0" fill="#333" fill-opacity="0.8"/>
<rect x="285.11" y="653.09" width="1.3" height="1.0" fill="#333" fill-opacity="0.8"/>
<rect x="270.27" y="651.91" width="1.3" height="1.0" fill="#333" fill-opacity="0.8"/>
<rect x="255.51" y="650.59" width="1.3" height="1.0" fill="#333" fill-opacity="0.8"/>
<rect x="268.31" y="651.33" width="1.3" height="1.0" fill="#333" fill-opacity="0.8"/>
<rect x="296.09" y="651.87" width="1.3" height="1.0" fill="#333" fill-opacity="0.8"/>
<rect x="253.42" y="650.56" width="1.3" height="1.0" fill="#333" fill-opacity="0.8"/>
<rect x="246.95" y="651.83" width="1.3" height="1.0" fill="#333" fill-opacity="0.8"/>
<rect x="255.94" y="652.82" width="1.3" height="1.0" fill="#333" fill-opacity="0.8"/>
<rect x="253.43" y="652.41" width="1.3" height="1.0" fill="#333" fill-opacity="0.8"/>
<rect x="259.90" y="651.42" width="1.3" height="1.0" fill="#333" fill-opacity="0.8"/>
<rect x="242.46" y="653.00" width="1.3" height="1.0" fill="#333" fill-opacity="0.8"/>
<rect x="287.13" y="652.36" width="1.3" height="1.0" fill="#333" fill-opacity="0.8"/>
<rect x="272.57" y="651.77" width="1.3" height="1.0" fill="#333" fill-opacity="0.8"/>
<rect x="241.30" y="651.42" width="1.3" height="1.0" fill="#333" fill-opacity="0.8"/>
<rect x="258.50" y="652.84" width="1.3" height="1.0" fill="#333" fill-opacity="0.8"/>
<rect x="275.00" y="652.89" width="1.3" height="1.0" fill="#333" fill-opacity="0.8"/>
<rect x="252.12" y="651.34" width="1.3" height="1.0" fill="#333" fill-opacity="0.8"/>
<rect x="259.13" y="650.93" width="1.3" height="1.0" fill="#333" fill-opacity="0.8"/>
<rect x="256.30" y="651.30" width="1.3" height="1.0" fill="#333" fill-opacity="0.8"/>
<rect x="278.63" y="652.34" width="1.3" height="1.0" fill="#333" fill-opacity="0.8"/>
<rect x="271.75" y="652.19" width="1.3" height="1.0" fill="#333" fill-opacity="0.8"/>
<rect x="258.35" y="651.04" width="1.3" height="1.0" fill="#333" fill-opacity="0.8"/>
<rect x="298.85" y="652.12" width="1.3" height="1.0" fill="#333" fill-opacity="0.8"/>
<rect x="291.45" y="652.39" width="1.3" height="1.0" fill="#333" fill-opacity="0.8"/>
<rect x="264.04" y="650.65" width="1.3" height="1.0" fill="#333" fill-opacity="0.8"/>
<rect x="272.72" y="651.21" width="1.3" height="1.0" fill="#333" fill-opacity="0.8"/>
<rect x="295.03" y="650.78" width="1.3" height="1.0" fill="#333" fill-opacity="0.8"/>
<rect x="293.63" y="651.14" width="1.3" height="1.0" fill="#333" fill-opacity="0.8"/>
<rect x="295.36" y="651.60" width="1.3" height="1.0" fill="#333" fill-opacity="0.8"/>
<rect x="267.11" y="650.95" width="1.3" height="1.0" fill="#333" fill-opacity="0.8"/>
<rect x="260.32" y="650.72" width="1.3" height="1.0" fill="#333" fill-opacity="0.8"/>
<rect x="273.22" y="650.55" width="1.3" height="1.0" fill="#333" fill-opacity="0.8"/>
<rect x="290.99" y="650.91" width="1.3" height="1.0" fill="#333" fill-opacity="0.8"/>
<rect x="283.06" y="651.50" width="1.3" height="1.0" fill="#333" fill-opacity="0.8"/>
<rect x="302.49" y="650.89" width="1.3" height="1.0" fill="#333" fill-opacity="0.8"/>
<rect x="260.45" y="652.10" width="1.3" height="1.0" fill="#333" fill-opacity="0.8"/>
<line x1="249.77" y1="644.4" x2="249.77" y2="660.2" stroke="#e01010" stroke-width="0.9"/>
<line x1="251.29" y1="644.4" x2="251.29" y2="660.2" stroke="#e01010" stroke-width="0.9"/>
<line x1="252.81" y1="644.4" x2="252.81" y2="660.2" stroke="#e01010" stroke-width="0.9"/>
<line x1="265.57" y1="644.4" x2="265.57" y2="660.2" stroke="#e01010" stroke-width="0.9"/>
<line x1="267.09" y1="644.4" x2="267.09" y2="660.2" stroke="#e01010" stroke-width="0.9"/>
<line x1="268.60" y1="644.4" x2="268.60" y2="660.2" stroke="#e01010" stroke-width="0.9"/>
<text x="199.9" y="656.3" font-size="10" text-anchor="end" fill="#000" >VA</text>
<text x="308.5" y="656.3" font-size="10" text-anchor="start" fill="#000" >VA</text>
<line x1="203.9" y1="652.30" x2="205.4" y2="652.30" stroke="#666" stroke-width="0.7"/>
<line x1="305.0" y1="652.30" x2="303.5" y2="652.30" stroke="#666" stroke-width="0.7"/>
<rect x="241.81" y="661.2" width="29.07" height="18.00" fill="#b4e8b4"/>
<line x1="254.45" y1="661.2" x2="254.45" y2="679.2" stroke="#208020" stroke-width="1"/>
<rect x="259.80" y="668.69" width="1.3" height="1.0" fill="#333" fill-opacity="0.8"/>
<rect x="215.56" y="669.57" width="1.3" height="1.0" fill="#333" fill-opacity="0.8"/>
<rect x="253.60" y="670.36" width="1.3" height="1.0" fill="#333" fill-opacity="0.8"/>
<rect x="221.76" y="670.23" width="1.3" height="1.0" fill="#333" fill-opacity="0.8"/>
<rect x="233.16" y="670.12" width="1.3" height="1.0" fill="#333" fill-opacity="0.8"/>
<rect x="222.00" y="669.56" width="1.3" height="1.0" fill="#333" fill-opacity="0.8"/>
<rect x="270.32" y="669.42" width="1.3" height="1.0" fill="#333" fill-opacity="0.8"/>
<rect x="225.77" y="670.90" width="1.3" height="1.0" fill="#333" fill-opacity="0.8"/>
<rect x="267.54" y="669.49" width="1.3" height="1.0" fill="#333" fill-opacity="0.8"/>
<rect x="263.19" y="668.77" width="1.3" height="1.0" fill="#333" fill-opacity="0.8"/>
<rect x="215.81" y="668.82" width="1.3" height="1.0" fill="#333" fill-opacity="0.8"/>
<rect x="270.16" y="669.72" width="1.3" height="1.0" fill="#333" fill-opacity="0.8"/>
<rect x="270.79" y="670.83" width="1.3" height="1.0" fill="#333" fill-opacity="0.8"/>
<rect x="257.63" y="669.05" width="1.3" height="1.0" fill="#333" fill-opacity="0.8"/>
<rect x="269.18" y="670.48" width="1.3" height="1.0" fill="#333" fill-opacity="0.8"/>
<rect x="272.78" y="669.07" width="1.3" height="1.0" fill="#333" fill-opacity="0.8"/>
<rect x="260.32" y="668.41" width="1.3" height="1.0" fill="#333" fill-opacity="0.8"/>
<rect x="249.71" y="668.69" width="1.3" height="1.0" fill="#333" fill-opacity="0.8"/>
<rect x="256.16" y="668.87" width="1.3" height="1.0" fill="#333" fill-opacity="0.8"/>
<rect x="232.42" y="669.75" width="1.3" height="1.0" fill="#333" fill-opacity="0.8"/>
<rect x="240.76" y="670.07" width="1.3" height="1.0" fill="#333" fill-opacity="0.8"/>
<rect x="294.69" y="670.90" width="1.3" height="1.0" fill="#333" fill-opacity="0.8"/>
<rect x="262.98" y="669.53" width="1.3" height="1.0" fill="#333" fill-opacity="0.8"/>
<rect x="265.28" y="668.53" width="1.3" height="1.0" fill="#333" fill-opacity="0.8"/>
<rect x="260.22" y="668.87" width="1.3" height="1.0" fill="#333" fill-opacity="0.8"/>
<rect x="285.30" y="669.35" width="1.3" height="1.0" fill="#333" fill-opacity="0.8"/>
<rect x="296.04" y="669.99" width="1.3" height="1.0" fill="#333" fill-opacity="0.8"/>
<rect x="301.65" y="669.37" width="1.3" height="1.0" fill="#333" fill-opacity="0.8"/>
<rect x="274.70" y="668.66" width="1.3" height="1.0" fill="#333" fill-opacity="0.8"/>
<rect x="288.73" y="670.15" width="1.3" height="1.0" fill="#333" fill-opacity="0.8"/>
<rect x="253.57" y="669.47" width="1.3" height="1.0" fill="#333" fill-opacity="0.8"/>
<rect x="231.59" y="669.93" width="1.3" height="1.0" fill="#333" fill-opacity="0.8"/>
<rect x="238.47" y="669.37" width="1.3" height="1.0" fill="#333" fill-opacity="0.8"/>
<rect x="279.23" y="668.90" width="1.3" height="1.0" fill="#333" fill-opacity="0.8"/>
<rect x="248.18" y="669.60" width="1.3" height="1.0" fill="#333" fill-opacity="0.8"/>
<rect x="268.00" y="669.43" width="1.3" height="1.0" fill="#333" fill-opacity="0.8"/>
<rect x="223.78" y="668.61" width="1.3" height="1.0" fill="#333" fill-opacity="0.8"/>
<rect x="230.42" y="670.20" width="1.3" height="1.0" fill="#333" fill-opacity="0.8"/>
<rect x="272.34" y="670.42" width="1.3" height="1.0" fill="#333" fill-opacity="0.8"/>
<rect x="224.74" y="669.69" width="1.3" height="1.0" fill="#333" fill-opacity="0.8"/>
<rect x="254.08" y="670.48" width="1.3" height="1.0" fill="#333" fill-opacity="0.8"/>
<rect x="260.33" y="669.64" width="1.3" height="1.0" fill="#333" fill-opacity="0.8"/>
<rect x="268.01" y="670.57" width="1.3" height="1.0" fill="#333" fill-opacity="0.8"/>
<rect x="233.71" y="669.67" width="1.3" height="1.0" fill="#333" fill-opacity="0.8"/>
<rect x="251.42" y="670.17" width="1.3" height="1.0" fill="#333" fill-opacity="0.8"/>
<rect x="221.23" y="669.92" width="1.3" height="1.0" fill="#333" fill-opacity="0.8"/>
<rect x="267.95" y="670.99" width="1.3" height="1.0" fill="#333" fill-opacity="0.8"/>
<rect x="250.44" y="668.57" width="1.3" height="1.0" fill="#333" fill-opacity="0.8"/>
<rect x="293.69" y="670.97" width="1.3" height="1.0" fill="#333" fill-opacity="0.8"/>
<rect x="264.15" y="668.73" width="1.3" height="1.0" fill="#333" fill-opacity="0.8"/>
<rect x="233.71" y="670.14" width="1.3" height="1.0" fill="#333" fill-opacity="0.8"/>
<rect x="237.90" y="668.69" width="1.3" height="1.0" fill="#333" fill-opacity="0.8"/>
<rect x="298.61" y="670.37" width="1.3" height="1.0" fill="#333" fill-opacity="0.8"/>
<rect x="259.45" y="670.26" width="1.3" height="1.0" fill="#333" fill-opacity="0.8"/>
<rect x="293.64" y="669.60" width="1.3" height="1.0" fill="#333" fill-opacity="0.8"/>
<rect x="262.96" y="669.45" width="1.3" height="1.0" fill="#333" fill-opacity="0.8"/>
<rect x="259.97" y="668.78" width="1.3" height="1.0" fill="#333" fill-opacity="0.8"/>
<rect x="215.43" y="669.95" width="1.3" height="1.0" fill="#333" fill-opacity="0.8"/>
<rect x="235.56" y="668.87" width="1.3" height="1.0" fill="#333" fill-opacity="0.8"/>
<rect x="256.37" y="669.45" width="1.3" height="1.0" fill="#333" fill-opacity="0.8"/>
<line x1="240.30" y1="662.2" x2="240.30" y2="678.2" stroke="#108a10" stroke-width="0.9"/>
<line x1="241.81" y1="662.2" x2="241.81" y2="678.2" stroke="#108a10" stroke-width="0.9"/>
<line x1="243.33" y1="662.2" x2="243.33" y2="678.2" stroke="#108a10" stroke-width="0.9"/>
<line x1="269.36" y1="662.2" x2="269.36" y2="678.2" stroke="#108a10" stroke-width="0.9"/>
<line x1="270.88" y1="662.2" x2="270.88" y2="678.2" stroke="#108a10" stroke-width="0.9"/>
<line x1="272.40" y1="662.2" x2="272.40" y2="678.2" stroke="#108a10" stroke-width="0.9"/>
<text x="199.9" y="674.2" font-size="10" text-anchor="end" fill="#000" >VP</text>
<text x="308.5" y="674.2" font-size="10" text-anchor="start" fill="#000" >VP</text>
<line x1="203.9" y1="670.20" x2="205.4" y2="670.20" stroke="#666" stroke-width="0.7"/>
<line x1="305.0" y1="670.20" x2="303.5" y2="670.20" stroke="#666" stroke-width="0.7"/>
<rect x="253.82" y="679.2" width="8.53" height="17.90" fill="#b4b4ff"/>
<line x1="254.45" y1="679.2" x2="254.45" y2="697.1" stroke="#3030c0" stroke-width="1"/>
<rect x="265.45" y="687.58" width="1.3" height="1.0" fill="#333" fill-opacity="0.8"/>
<rect x="254.13" y="687.21" width="1.3" height="1.0" fill="#333" fill-opacity="0.8"/>
<rect x="252.39" y="688.57" width="1.3" height="1.0" fill="#333" fill-opacity="0.8"/>
<rect x="280.90" y="687.40" width="1.3" height="1.0" fill="#333" fill-opacity="0.8"/>
<rect x="249.63" y="688.89" width="1.3" height="1.0" fill="#333" fill-opacity="0.8"/>
<rect x="263.65" y="688.20" width="1.3" height="1.0" fill="#333" fill-opacity="0.8"/>
<rect x="257.93" y="688.04" width="1.3" height="1.0" fill="#333" fill-opacity="0.8"/>
<rect x="270.65" y="688.25" width="1.3" height="1.0" fill="#333" fill-opacity="0.8"/>
<rect x="258.91" y="688.70" width="1.3" height="1.0" fill="#333" fill-opacity="0.8"/>
<rect x="265.69" y="688.34" width="1.3" height="1.0" fill="#333" fill-opacity="0.8"/>
<rect x="287.50" y="687.87" width="1.3" height="1.0" fill="#333" fill-opacity="0.8"/>
<rect x="290.72" y="686.71" width="1.3" height="1.0" fill="#333" fill-opacity="0.8"/>
<rect x="263.48" y="687.48" width="1.3" height="1.0" fill="#333" fill-opacity="0.8"/>
<rect x="277.94" y="687.56" width="1.3" height="1.0" fill="#333" fill-opacity="0.8"/>
<rect x="299.46" y="686.54" width="1.3" height="1.0" fill="#333" fill-opacity="0.8"/>
<rect x="273.60" y="688.53" width="1.3" height="1.0" fill="#333" fill-opacity="0.8"/>
<rect x="257.67" y="688.10" width="1.3" height="1.0" fill="#333" fill-opacity="0.8"/>
<rect x="261.87" y="687.66" width="1.3" height="1.0" fill="#333" fill-opacity="0.8"/>
<rect x="251.82" y="688.31" width="1.3" height="1.0" fill="#333" fill-opacity="0.8"/>
<rect x="287.83" y="688.39" width="1.3" height="1.0" fill="#333" fill-opacity="0.8"/>
<rect x="283.78" y="688.40" width="1.3" height="1.0" fill="#333" fill-opacity="0.8"/>
<rect x="251.12" y="686.70" width="1.3" height="1.0" fill="#333" fill-opacity="0.8"/>
<rect x="268.03" y="687.56" width="1.3" height="1.0" fill="#333" fill-opacity="0.8"/>
<rect x="248.09" y="687.80" width="1.3" height="1.0" fill="#333" fill-opacity="0.8"/>
<rect x="252.89" y="687.34" width="1.3" height="1.0" fill="#333" fill-opacity="0.8"/>
<rect x="294.28" y="687.15" width="1.3" height="1.0" fill="#333" fill-opacity="0.8"/>
<rect x="262.60" y="687.61" width="1.3" height="1.0" fill="#333" fill-opacity="0.8"/>
<rect x="296.66" y="686.55" width="1.3" height="1.0" fill="#333" fill-opacity="0.8"/>
<rect x="254.82" y="688.42" width="1.3" height="1.0" fill="#333" fill-opacity="0.8"/>
<rect x="265.00" y="687.37" width="1.3" height="1.0" fill="#333" fill-opacity="0.8"/>
<rect x="264.02" y="687.37" width="1.3" height="1.0" fill="#333" fill-opacity="0.8"/>
<rect x="293.23" y="688.42" width="1.3" height="1.0" fill="#333" fill-opacity="0.8"/>
<rect x="261.80" y="687.15" width="1.3" height="1.0" fill="#333" fill-opacity="0.8"/>
<rect x="272.11" y="686.95" width="1.3" height="1.0" fill="#333" fill-opacity="0.8"/>
<rect x="298.97" y="686.64" width="1.3" height="1.0" fill="#333" fill-opacity="0.8"/>
<line x1="252.30" y1="680.2" x2="252.30" y2="696.1" stroke="#1a1aee" stroke-width="0.9"/>
<line x1="253.82" y1="680.2" x2="253.82" y2="696.1" stroke="#1a1aee" stroke-width="0.9"/>
<line x1="255.33" y1="680.2" x2="255.33" y2="696.1" stroke="#1a1aee" stroke-width="0.9"/>
<line x1="260.83" y1="680.2" x2="260.83" y2="696.1" stroke="#1a1aee" stroke-width="0.9"/>
<line x1="262.35" y1="680.2" x2="262.35" y2="696.1" stroke="#1a1aee" stroke-width="0.9"/>
<line x1="263.86" y1="680.2" x2="263.86" y2="696.1" stroke="#1a1aee" stroke-width="0.9"/>
<text x="199.9" y="692.2" font-size="10" text-anchor="end" fill="#000" >DA</text>
<text x="308.5" y="692.2" font-size="10" text-anchor="start" fill="#000" >DA</text>
<line x1="203.9" y1="688.15" x2="205.4" y2="688.15" stroke="#666" stroke-width="0.7"/>
<line x1="305.0" y1="688.15" x2="303.5" y2="688.15" stroke="#666" stroke-width="0.7"/>
<line x1="254.45" y1="697.1" x2="254.45" y2="715.0" stroke="#707020" stroke-width="1"/>
<rect x="252.98" y="705.08" width="1.3" height="1.0" fill="#333" fill-opacity="0.8"/>
<rect x="253.85" y="704.68" width="1.3" height="1.0" fill="#333" fill-opacity="0.8"/>
<rect x="253.85" y="706.58" width="1.3" height="1.0" fill="#333" fill-opacity="0.8"/>
<line x1="254.45" y1="703.05" x2="254.45" y2="709.05" stroke="#000" stroke-width="1.6"/>
<text x="199.9" y="710.0" font-size="10" text-anchor="end" fill="#000" >DP</text>
<text x="308.5" y="710.0" font-size="10" text-anchor="start" fill="#000" >DP</text>
<line x1="203.9" y1="706.05" x2="205.4" y2="706.05" stroke="#666" stroke-width="0.7"/>
<line x1="305.0" y1="706.05" x2="303.5" y2="706.05" stroke="#666" stroke-width="0.7"/>
<rect x="250.03" y="715.0" width="12.64" height="17.70" fill="#c4c4c4"/>
<line x1="254.45" y1="715.0" x2="254.45" y2="732.7" stroke="#333" stroke-width="1"/>
<rect x="260.71" y="723.20" width="1.3" height="1.0" fill="#333" fill-opacity="0.8"/>
<rect x="261.84" y="722.31" width="1.3" height="1.0" fill="#333" fill-opacity="0.8"/>
<rect x="247.97" y="723.81" width="1.3" height="1.0" fill="#333" fill-opacity="0.8"/>
<rect x="255.02" y="724.12" width="1.3" height="1.0" fill="#333" fill-opacity="0.8"/>
<rect x="274.18" y="723.70" width="1.3" height="1.0" fill="#333" fill-opacity="0.8"/>
<rect x="274.81" y="722.94" width="1.3" height="1.0" fill="#333" fill-opacity="0.8"/>
<rect x="252.86" y="724.46" width="1.3" height="1.0" fill="#333" fill-opacity="0.8"/>
<rect x="269.16" y="724.52" width="1.3" height="1.0" fill="#333" fill-opacity="0.8"/>
<rect x="255.84" y="724.48" width="1.3" height="1.0" fill="#333" fill-opacity="0.8"/>
<rect x="240.45" y="724.60" width="1.3" height="1.0" fill="#333" fill-opacity="0.8"/>
<rect x="266.30" y="723.79" width="1.3" height="1.0" fill="#333" fill-opacity="0.8"/>
<rect x="256.68" y="722.50" width="1.3" height="1.0" fill="#333" fill-opacity="0.8"/>
<rect x="250.50" y="724.37" width="1.3" height="1.0" fill="#333" fill-opacity="0.8"/>
<rect x="280.62" y="722.38" width="1.3" height="1.0" fill="#333" fill-opacity="0.8"/>
<rect x="254.80" y="722.98" width="1.3" height="1.0" fill="#333" fill-opacity="0.8"/>
<rect x="262.60" y="724.35" width="1.3" height="1.0" fill="#333" fill-opacity="0.8"/>
<rect x="247.01" y="722.67" width="1.3" height="1.0" fill="#333" fill-opacity="0.8"/>
<rect x="259.43" y="723.06" width="1.3" height="1.0" fill="#333" fill-opacity="0.8"/>
<rect x="266.95" y="722.44" width="1.3" height="1.0" fill="#333" fill-opacity="0.8"/>
<rect x="279.16" y="722.30" width="1.3" height="1.0" fill="#333" fill-opacity="0.8"/>
<rect x="248.60" y="722.70" width="1.3" height="1.0" fill="#333" fill-opacity="0.8"/>
<rect x="250.54" y="722.94" width="1.3" height="1.0" fill="#333" fill-opacity="0.8"/>
<rect x="250.11" y="723.64" width="1.3" height="1.0" fill="#333" fill-opacity="0.8"/>
<rect x="255.73" y="724.05" width="1.3" height="1.0" fill="#333" fill-opacity="0.8"/>
<rect x="246.05" y="724.26" width="1.3" height="1.0" fill="#333" fill-opacity="0.8"/>
<rect x="272.92" y="722.40" width="1.3" height="1.0" fill="#333" fill-opacity="0.8"/>
<rect x="275.74" y="722.93" width="1.3" height="1.0" fill="#333" fill-opacity="0.8"/>
<rect x="249.90" y="724.64" width="1.3" height="1.0" fill="#333" fill-opacity="0.8"/>
<rect x="260.01" y="723.66" width="1.3" height="1.0" fill="#333" fill-opacity="0.8"/>
<rect x="275.41" y="723.60" width="1.3" height="1.0" fill="#333" fill-opacity="0.8"/>
<rect x="262.75" y="724.61" width="1.3" height="1.0" fill="#333" fill-opacity="0.8"/>
<rect x="250.89" y="724.24" width="1.3" height="1.0" fill="#333" fill-opacity="0.8"/>
<rect x="257.38" y="723.41" width="1.3" height="1.0" fill="#333" fill-opacity="0.8"/>
<rect x="244.53" y="724.64" width="1.3" height="1.0" fill="#333" fill-opacity="0.8"/>
<rect x="279.63" y="723.82" width="1.3" height="1.0" fill="#333" fill-opacity="0.8"/>
<rect x="261.47" y="724.12" width="1.3" height="1.0" fill="#333" fill-opacity="0.8"/>
<rect x="244.43" y="722.96" width="1.3" height="1.0" fill="#333" fill-opacity="0.8"/>
<rect x="246.17" y="723.79" width="1.3" height="1.0" fill="#333" fill-opacity="0.8"/>
<rect x="281.08" y="723.74" width="1.3" height="1.0" fill="#333" fill-opacity="0.8"/>
<rect x="278.00" y="722.68" width="1.3" height="1.0" fill="#333" fill-opacity="0.8"/>
<rect x="263.60" y="722.41" width="1.3" height="1.0" fill="#333" fill-opacity="0.8"/>
<rect x="242.50" y="722.57" width="1.3" height="1.0" fill="#333" fill-opacity="0.8"/>
<rect x="258.77" y="724.19" width="1.3" height="1.0" fill="#333" fill-opacity="0.8"/>
<rect x="268.82" y="724.33" width="1.3" height="1.0" fill="#333" fill-opacity="0.8"/>
<rect x="260.78" y="722.39" width="1.3" height="1.0" fill="#333" fill-opacity="0.8"/>
<line x1="248.51" y1="716.0" x2="248.51" y2="731.7" stroke="#000" stroke-width="0.9"/>
<line x1="250.03" y1="716.0" x2="250.03" y2="731.7" stroke="#000" stroke-width="0.9"/>
<line x1="251.54" y1="716.0" x2="251.54" y2="731.7" stroke="#000" stroke-width="0.9"/>
<line x1="261.15" y1="716.0" x2="261.15" y2="731.7" stroke="#000" stroke-width="0.9"/>
<line x1="262.66" y1="716.0" x2="262.66" y2="731.7" stroke="#000" stroke-width="0.9"/>
<line x1="264.18" y1="716.0" x2="264.18" y2="731.7" stroke="#000" stroke-width="0.9"/>
<text x="199.9" y="727.9" font-size="10" text-anchor="end" fill="#000" >Other</text>
<text x="308.5" y="727.9" font-size="10" text-anchor="start" fill="#000" >Other</text>
<line x1="203.9" y1="723.85" x2="205.4" y2="723.85" stroke="#666" stroke-width="0.7"/>
<line x1="305.0" y1="723.85" x2="303.5" y2="723.85" stroke="#666" stroke-width="0.7"/>
<line x1="203.9" y1="661.2" x2="305.0" y2="661.2" stroke="#7a7a7a" stroke-width="0.9"/>
<line x1="203.9" y1="679.2" x2="305.0" y2="679.2" stroke="#7a7a7a" stroke-width="0.9"/>
<line x1="203.9" y1="697.1" x2="305.0" y2="697.1" stroke="#7a7a7a" stroke-width="0.9"/>
<line x1="203.9" y1="715.0" x2="305.0" y2="715.0" stroke="#7a7a7a" stroke-width="0.9"/>
<rect x="203.9" y="643.4" width="101.1" height="89.3" fill="none" stroke="#7a7a7a" stroke-width="0.9"/>
<text x="203.9" y="747.5" font-size="10" text-anchor="middle" fill="#000" >80</text>
<line x1="203.90" y1="732.7" x2="203.90" y2="731" stroke="#666" stroke-width="0.7"/>
<text x="229.2" y="747.5" font-size="10" text-anchor="middle" fill="#000" >40</text>
<line x1="229.17" y1="732.7" x2="229.17" y2="731" stroke="#666" stroke-width="0.7"/>
<text x="254.4" y="747.5" font-size="10" text-anchor="middle" fill="#000" >0</text>
<line x1="254.45" y1="732.7" x2="254.45" y2="731" stroke="#666" stroke-width="0.7"/>
<text x="279.7" y="747.5" font-size="10" text-anchor="middle" fill="#000" >40</text>
<line x1="279.72" y1="732.7" x2="279.72" y2="731" stroke="#666" stroke-width="0.7"/>
<text x="305.0" y="747.5" font-size="10" text-anchor="middle" fill="#000" >80</text>
<line x1="305.00" y1="732.7" x2="305.00" y2="731" stroke="#666" stroke-width="0.7"/>
<text x="254.4" y="761.0" font-size="10.6" text-anchor="middle" fill="#000" >Coverage (%)</text>
<text x="345.0" y="635.8" font-size="21" text-anchor="start" font-weight="bold" fill="#000" >l</text>
<text x="356.6" y="642.0" font-size="10.4" text-anchor="start" font-weight="bold" fill="#000" >LH</text>
<text x="425.2" y="640.6" font-size="11" text-anchor="middle" font-weight="bold" fill="#000" >Targeting DA</text>
<text x="478.7" y="642.0" font-size="10.4" text-anchor="start" font-weight="bold" fill="#000" >RH</text>
<rect x="422.75" y="643.4" width="8.21" height="17.80" fill="#f2b4b4"/>
<line x1="424.65" y1="643.4" x2="424.65" y2="661.2" stroke="#c03030" stroke-width="1"/>
<rect x="435.20" y="651.46" width="1.3" height="1.0" fill="#333" fill-opacity="0.8"/>
<rect x="424.87" y="650.53" width="1.3" height="1.0" fill="#333" fill-opacity="0.8"/>
<rect x="424.86" y="651.17" width="1.3" height="1.0" fill="#333" fill-opacity="0.8"/>
<rect x="452.32" y="651.72" width="1.3" height="1.0" fill="#333" fill-opacity="0.8"/>
<rect x="418.68" y="650.89" width="1.3" height="1.0" fill="#333" fill-opacity="0.8"/>
<rect x="427.40" y="652.76" width="1.3" height="1.0" fill="#333" fill-opacity="0.8"/>
<rect x="442.67" y="652.25" width="1.3" height="1.0" fill="#333" fill-opacity="0.8"/>
<rect x="443.32" y="652.04" width="1.3" height="1.0" fill="#333" fill-opacity="0.8"/>
<rect x="415.75" y="652.75" width="1.3" height="1.0" fill="#333" fill-opacity="0.8"/>
<rect x="441.82" y="652.78" width="1.3" height="1.0" fill="#333" fill-opacity="0.8"/>
<rect x="431.00" y="652.58" width="1.3" height="1.0" fill="#333" fill-opacity="0.8"/>
<rect x="450.04" y="652.79" width="1.3" height="1.0" fill="#333" fill-opacity="0.8"/>
<rect x="419.73" y="651.06" width="1.3" height="1.0" fill="#333" fill-opacity="0.8"/>
<rect x="423.70" y="651.63" width="1.3" height="1.0" fill="#333" fill-opacity="0.8"/>
<rect x="424.25" y="651.50" width="1.3" height="1.0" fill="#333" fill-opacity="0.8"/>
<rect x="436.75" y="652.02" width="1.3" height="1.0" fill="#333" fill-opacity="0.8"/>
<rect x="432.33" y="652.27" width="1.3" height="1.0" fill="#333" fill-opacity="0.8"/>
<rect x="436.48" y="652.25" width="1.3" height="1.0" fill="#333" fill-opacity="0.8"/>
<rect x="447.20" y="653.01" width="1.3" height="1.0" fill="#333" fill-opacity="0.8"/>
<rect x="413.33" y="651.98" width="1.3" height="1.0" fill="#333" fill-opacity="0.8"/>
<rect x="428.71" y="651.99" width="1.3" height="1.0" fill="#333" fill-opacity="0.8"/>
<rect x="416.98" y="652.72" width="1.3" height="1.0" fill="#333" fill-opacity="0.8"/>
<rect x="436.10" y="650.73" width="1.3" height="1.0" fill="#333" fill-opacity="0.8"/>
<rect x="423.66" y="651.26" width="1.3" height="1.0" fill="#333" fill-opacity="0.8"/>
<rect x="427.90" y="652.77" width="1.3" height="1.0" fill="#333" fill-opacity="0.8"/>
<rect x="437.87" y="650.62" width="1.3" height="1.0" fill="#333" fill-opacity="0.8"/>
<rect x="420.87" y="653.05" width="1.3" height="1.0" fill="#333" fill-opacity="0.8"/>
<rect x="452.43" y="651.31" width="1.3" height="1.0" fill="#333" fill-opacity="0.8"/>
<rect x="437.31" y="650.58" width="1.3" height="1.0" fill="#333" fill-opacity="0.8"/>
<rect x="430.04" y="652.09" width="1.3" height="1.0" fill="#333" fill-opacity="0.8"/>
<rect x="416.18" y="652.76" width="1.3" height="1.0" fill="#333" fill-opacity="0.8"/>
<rect x="450.92" y="652.83" width="1.3" height="1.0" fill="#333" fill-opacity="0.8"/>
<rect x="432.03" y="651.85" width="1.3" height="1.0" fill="#333" fill-opacity="0.8"/>
<rect x="435.94" y="652.05" width="1.3" height="1.0" fill="#333" fill-opacity="0.8"/>
<rect x="438.08" y="652.95" width="1.3" height="1.0" fill="#333" fill-opacity="0.8"/>
<line x1="421.24" y1="644.4" x2="421.24" y2="660.2" stroke="#e01010" stroke-width="0.9"/>
<line x1="422.75" y1="644.4" x2="422.75" y2="660.2" stroke="#e01010" stroke-width="0.9"/>
<line x1="424.27" y1="644.4" x2="424.27" y2="660.2" stroke="#e01010" stroke-width="0.9"/>
<line x1="429.45" y1="644.4" x2="429.45" y2="660.2" stroke="#e01010" stroke-width="0.9"/>
<line x1="430.97" y1="644.4" x2="430.97" y2="660.2" stroke="#e01010" stroke-width="0.9"/>
<line x1="432.49" y1="644.4" x2="432.49" y2="660.2" stroke="#e01010" stroke-width="0.9"/>
<text x="370.1" y="656.3" font-size="10" text-anchor="end" fill="#000" >VA</text>
<text x="478.7" y="656.3" font-size="10" text-anchor="start" fill="#000" >VA</text>
<line x1="374.1" y1="652.30" x2="375.6" y2="652.30" stroke="#666" stroke-width="0.7"/>
<line x1="475.20000000000005" y1="652.30" x2="473.70000000000005" y2="652.30" stroke="#666" stroke-width="0.7"/>
<rect x="423.39" y="661.2" width="3.79" height="18.00" fill="#b4e8b4"/>
<line x1="424.65" y1="661.2" x2="424.65" y2="679.2" stroke="#208020" stroke-width="1"/>
<rect x="431.85" y="670.27" width="1.3" height="1.0" fill="#333" fill-opacity="0.8"/>
<rect x="425.68" y="670.94" width="1.3" height="1.0" fill="#333" fill-opacity="0.8"/>
<rect x="437.40" y="668.43" width="1.3" height="1.0" fill="#333" fill-opacity="0.8"/>
<rect x="438.90" y="668.45" width="1.3" height="1.0" fill="#333" fill-opacity="0.8"/>
<rect x="423.93" y="670.03" width="1.3" height="1.0" fill="#333" fill-opacity="0.8"/>
<rect x="443.60" y="669.32" width="1.3" height="1.0" fill="#333" fill-opacity="0.8"/>
<rect x="423.86" y="670.32" width="1.3" height="1.0" fill="#333" fill-opacity="0.8"/>
<rect x="414.28" y="670.16" width="1.3" height="1.0" fill="#333" fill-opacity="0.8"/>
<rect x="424.66" y="669.94" width="1.3" height="1.0" fill="#333" fill-opacity="0.8"/>
<rect x="428.66" y="669.21" width="1.3" height="1.0" fill="#333" fill-opacity="0.8"/>
<rect x="439.64" y="669.18" width="1.3" height="1.0" fill="#333" fill-opacity="0.8"/>
<rect x="448.01" y="668.47" width="1.3" height="1.0" fill="#333" fill-opacity="0.8"/>
<rect x="446.25" y="669.21" width="1.3" height="1.0" fill="#333" fill-opacity="0.8"/>
<rect x="449.51" y="669.02" width="1.3" height="1.0" fill="#333" fill-opacity="0.8"/>
<rect x="432.04" y="670.21" width="1.3" height="1.0" fill="#333" fill-opacity="0.8"/>
<rect x="426.67" y="669.27" width="1.3" height="1.0" fill="#333" fill-opacity="0.8"/>
<rect x="428.17" y="669.54" width="1.3" height="1.0" fill="#333" fill-opacity="0.8"/>
<rect x="426.07" y="670.09" width="1.3" height="1.0" fill="#333" fill-opacity="0.8"/>
<rect x="427.18" y="669.57" width="1.3" height="1.0" fill="#333" fill-opacity="0.8"/>
<rect x="417.14" y="669.78" width="1.3" height="1.0" fill="#333" fill-opacity="0.8"/>
<rect x="449.65" y="670.58" width="1.3" height="1.0" fill="#333" fill-opacity="0.8"/>
<rect x="424.62" y="670.50" width="1.3" height="1.0" fill="#333" fill-opacity="0.8"/>
<rect x="425.69" y="668.74" width="1.3" height="1.0" fill="#333" fill-opacity="0.8"/>
<rect x="449.03" y="669.11" width="1.3" height="1.0" fill="#333" fill-opacity="0.8"/>
<rect x="431.17" y="669.49" width="1.3" height="1.0" fill="#333" fill-opacity="0.8"/>
<line x1="421.87" y1="662.2" x2="421.87" y2="678.2" stroke="#108a10" stroke-width="0.9"/>
<line x1="423.39" y1="662.2" x2="423.39" y2="678.2" stroke="#108a10" stroke-width="0.9"/>
<line x1="424.90" y1="662.2" x2="424.90" y2="678.2" stroke="#108a10" stroke-width="0.9"/>
<line x1="425.66" y1="662.2" x2="425.66" y2="678.2" stroke="#108a10" stroke-width="0.9"/>
<line x1="427.18" y1="662.2" x2="427.18" y2="678.2" stroke="#108a10" stroke-width="0.9"/>
<line x1="428.69" y1="662.2" x2="428.69" y2="678.2" stroke="#108a10" stroke-width="0.9"/>
<text x="370.1" y="674.2" font-size="10" text-anchor="end" fill="#000" >VP</text>
<text x="478.7" y="674.2" font-size="10" text-anchor="start" fill="#000" >VP</text>
<line x1="374.1" y1="670.20" x2="375.6" y2="670.20" stroke="#666" stroke-width="0.7"/>
<line x1="475.20000000000005" y1="670.20" x2="473.70000000000005" y2="670.20" stroke="#666" stroke-width="0.7"/>
<rect x="410.94" y="679.2" width="41.32" height="17.90" fill="#b4b4ff"/>
<line x1="424.65" y1="679.2" x2="424.65" y2="697.1" stroke="#3030c0" stroke-width="1"/>
<rect x="467.33" y="686.76" width="1.3" height="1.0" fill="#333" fill-opacity="0.8"/>
<rect x="469.40" y="688.64" width="1.3" height="1.0" fill="#333" fill-opacity="0.8"/>
<rect x="412.07" y="687.48" width="1.3" height="1.0" fill="#333" fill-opacity="0.8"/>
<rect x="444.95" y="688.29" width="1.3" height="1.0" fill="#333" fill-opacity="0.8"/>
<rect x="424.15" y="688.07" width="1.3" height="1.0" fill="#333" fill-opacity="0.8"/>
<rect x="409.46" y="687.24" width="1.3" height="1.0" fill="#333" fill-opacity="0.8"/>
<rect x="389.21" y="687.88" width="1.3" height="1.0" fill="#333" fill-opacity="0.8"/>
<rect x="457.21" y="686.47" width="1.3" height="1.0" fill="#333" fill-opacity="0.8"/>
<rect x="413.77" y="688.68" width="1.3" height="1.0" fill="#333" fill-opacity="0.8"/>
<rect x="384.32" y="687.85" width="1.3" height="1.0" fill="#333" fill-opacity="0.8"/>
<rect x="451.26" y="686.80" width="1.3" height="1.0" fill="#333" fill-opacity="0.8"/>
<rect x="443.71" y="687.71" width="1.3" height="1.0" fill="#333" fill-opacity="0.8"/>
<rect x="469.01" y="687.94" width="1.3" height="1.0" fill="#333" fill-opacity="0.8"/>
<rect x="406.11" y="688.59" width="1.3" height="1.0" fill="#333" fill-opacity="0.8"/>
<rect x="454.66" y="687.26" width="1.3" height="1.0" fill="#333" fill-opacity="0.8"/>
<rect x="431.96" y="688.47" width="1.3" height="1.0" fill="#333" fill-opacity="0.8"/>
<rect x="455.51" y="688.75" width="1.3" height="1.0" fill="#333" fill-opacity="0.8"/>
<rect x="432.20" y="687.98" width="1.3" height="1.0" fill="#333" fill-opacity="0.8"/>
<rect x="428.59" y="686.48" width="1.3" height="1.0" fill="#333" fill-opacity="0.8"/>
<rect x="407.59" y="687.72" width="1.3" height="1.0" fill="#333" fill-opacity="0.8"/>
<rect x="426.31" y="688.37" width="1.3" height="1.0" fill="#333" fill-opacity="0.8"/>
<rect x="388.00" y="686.68" width="1.3" height="1.0" fill="#333" fill-opacity="0.8"/>
<rect x="389.25" y="688.88" width="1.3" height="1.0" fill="#333" fill-opacity="0.8"/>
<rect x="453.20" y="687.17" width="1.3" height="1.0" fill="#333" fill-opacity="0.8"/>
<rect x="415.16" y="688.03" width="1.3" height="1.0" fill="#333" fill-opacity="0.8"/>
<rect x="416.04" y="686.85" width="1.3" height="1.0" fill="#333" fill-opacity="0.8"/>
<rect x="394.32" y="687.79" width="1.3" height="1.0" fill="#333" fill-opacity="0.8"/>
<rect x="444.34" y="687.34" width="1.3" height="1.0" fill="#333" fill-opacity="0.8"/>
<rect x="399.34" y="687.32" width="1.3" height="1.0" fill="#333" fill-opacity="0.8"/>
<rect x="435.37" y="688.43" width="1.3" height="1.0" fill="#333" fill-opacity="0.8"/>
<rect x="410.00" y="687.47" width="1.3" height="1.0" fill="#333" fill-opacity="0.8"/>
<rect x="428.44" y="688.18" width="1.3" height="1.0" fill="#333" fill-opacity="0.8"/>
<rect x="446.57" y="687.55" width="1.3" height="1.0" fill="#333" fill-opacity="0.8"/>
<rect x="432.07" y="688.16" width="1.3" height="1.0" fill="#333" fill-opacity="0.8"/>
<rect x="421.91" y="687.46" width="1.3" height="1.0" fill="#333" fill-opacity="0.8"/>
<rect x="450.56" y="688.68" width="1.3" height="1.0" fill="#333" fill-opacity="0.8"/>
<rect x="422.75" y="687.03" width="1.3" height="1.0" fill="#333" fill-opacity="0.8"/>
<rect x="394.26" y="688.46" width="1.3" height="1.0" fill="#333" fill-opacity="0.8"/>
<rect x="460.54" y="688.09" width="1.3" height="1.0" fill="#333" fill-opacity="0.8"/>
<rect x="405.72" y="687.82" width="1.3" height="1.0" fill="#333" fill-opacity="0.8"/>
<rect x="436.83" y="686.36" width="1.3" height="1.0" fill="#333" fill-opacity="0.8"/>
<rect x="453.92" y="686.47" width="1.3" height="1.0" fill="#333" fill-opacity="0.8"/>
<rect x="392.08" y="688.64" width="1.3" height="1.0" fill="#333" fill-opacity="0.8"/>
<rect x="385.13" y="688.54" width="1.3" height="1.0" fill="#333" fill-opacity="0.8"/>
<rect x="460.30" y="688.10" width="1.3" height="1.0" fill="#333" fill-opacity="0.8"/>
<rect x="458.57" y="688.43" width="1.3" height="1.0" fill="#333" fill-opacity="0.8"/>
<rect x="453.29" y="687.68" width="1.3" height="1.0" fill="#333" fill-opacity="0.8"/>
<rect x="422.50" y="686.63" width="1.3" height="1.0" fill="#333" fill-opacity="0.8"/>
<rect x="438.14" y="687.19" width="1.3" height="1.0" fill="#333" fill-opacity="0.8"/>
<rect x="458.85" y="686.98" width="1.3" height="1.0" fill="#333" fill-opacity="0.8"/>
<rect x="405.88" y="687.95" width="1.3" height="1.0" fill="#333" fill-opacity="0.8"/>
<rect x="427.89" y="687.37" width="1.3" height="1.0" fill="#333" fill-opacity="0.8"/>
<rect x="419.32" y="687.26" width="1.3" height="1.0" fill="#333" fill-opacity="0.8"/>
<rect x="390.61" y="687.65" width="1.3" height="1.0" fill="#333" fill-opacity="0.8"/>
<rect x="399.95" y="686.77" width="1.3" height="1.0" fill="#333" fill-opacity="0.8"/>
<rect x="449.94" y="688.32" width="1.3" height="1.0" fill="#333" fill-opacity="0.8"/>
<rect x="405.93" y="688.02" width="1.3" height="1.0" fill="#333" fill-opacity="0.8"/>
<rect x="428.30" y="686.74" width="1.3" height="1.0" fill="#333" fill-opacity="0.8"/>
<rect x="451.53" y="688.73" width="1.3" height="1.0" fill="#333" fill-opacity="0.8"/>
<rect x="423.57" y="688.22" width="1.3" height="1.0" fill="#333" fill-opacity="0.8"/>
<line x1="409.42" y1="680.2" x2="409.42" y2="696.1" stroke="#1a1aee" stroke-width="0.9"/>
<line x1="410.94" y1="680.2" x2="410.94" y2="696.1" stroke="#1a1aee" stroke-width="0.9"/>
<line x1="412.45" y1="680.2" x2="412.45" y2="696.1" stroke="#1a1aee" stroke-width="0.9"/>
<line x1="450.75" y1="680.2" x2="450.75" y2="696.1" stroke="#1a1aee" stroke-width="0.9"/>
<line x1="452.26" y1="680.2" x2="452.26" y2="696.1" stroke="#1a1aee" stroke-width="0.9"/>
<line x1="453.78" y1="680.2" x2="453.78" y2="696.1" stroke="#1a1aee" stroke-width="0.9"/>
<text x="370.1" y="692.2" font-size="10" text-anchor="end" fill="#000" >DA</text>
<text x="478.7" y="692.2" font-size="10" text-anchor="start" fill="#000" >DA</text>
<line x1="374.1" y1="688.15" x2="375.6" y2="688.15" stroke="#666" stroke-width="0.7"/>
<line x1="475.20000000000005" y1="688.15" x2="473.70000000000005" y2="688.15" stroke="#666" stroke-width="0.7"/>
<line x1="424.65" y1="697.1" x2="424.65" y2="715.0" stroke="#707020" stroke-width="1"/>
<rect x="415.72" y="704.77" width="1.3" height="1.0" fill="#333" fill-opacity="0.8"/>
<rect x="416.26" y="704.85" width="1.3" height="1.0" fill="#333" fill-opacity="0.8"/>
<rect x="425.06" y="706.08" width="1.3" height="1.0" fill="#333" fill-opacity="0.8"/>
<line x1="424.65" y1="703.05" x2="424.65" y2="709.05" stroke="#000" stroke-width="1.6"/>
<text x="370.1" y="710.0" font-size="10" text-anchor="end" fill="#000" >DP</text>
<text x="478.7" y="710.0" font-size="10" text-anchor="start" fill="#000" >DP</text>
<line x1="374.1" y1="706.05" x2="375.6" y2="706.05" stroke="#666" stroke-width="0.7"/>
<line x1="475.20000000000005" y1="706.05" x2="473.70000000000005" y2="706.05" stroke="#666" stroke-width="0.7"/>
<rect x="420.04" y="715.0" width="14.91" height="17.70" fill="#c4c4c4"/>
<line x1="424.65" y1="715.0" x2="424.65" y2="732.7" stroke="#333" stroke-width="1"/>
<rect x="446.47" y="723.57" width="1.3" height="1.0" fill="#333" fill-opacity="0.8"/>
<rect x="420.35" y="722.11" width="1.3" height="1.0" fill="#333" fill-opacity="0.8"/>
<rect x="427.13" y="722.50" width="1.3" height="1.0" fill="#333" fill-opacity="0.8"/>
<rect x="424.64" y="724.06" width="1.3" height="1.0" fill="#333" fill-opacity="0.8"/>
<rect x="452.12" y="723.30" width="1.3" height="1.0" fill="#333" fill-opacity="0.8"/>
<rect x="430.64" y="724.22" width="1.3" height="1.0" fill="#333" fill-opacity="0.8"/>
<rect x="424.79" y="723.50" width="1.3" height="1.0" fill="#333" fill-opacity="0.8"/>
<rect x="441.01" y="724.28" width="1.3" height="1.0" fill="#333" fill-opacity="0.8"/>
<rect x="441.54" y="724.55" width="1.3" height="1.0" fill="#333" fill-opacity="0.8"/>
<rect x="420.84" y="722.66" width="1.3" height="1.0" fill="#333" fill-opacity="0.8"/>
<rect x="416.94" y="724.27" width="1.3" height="1.0" fill="#333" fill-opacity="0.8"/>
<rect x="419.20" y="722.72" width="1.3" height="1.0" fill="#333" fill-opacity="0.8"/>
<rect x="440.36" y="724.28" width="1.3" height="1.0" fill="#333" fill-opacity="0.8"/>
<rect x="407.26" y="722.71" width="1.3" height="1.0" fill="#333" fill-opacity="0.8"/>
<rect x="423.34" y="723.95" width="1.3" height="1.0" fill="#333" fill-opacity="0.8"/>
<rect x="415.22" y="724.22" width="1.3" height="1.0" fill="#333" fill-opacity="0.8"/>
<rect x="426.06" y="723.56" width="1.3" height="1.0" fill="#333" fill-opacity="0.8"/>
<rect x="435.33" y="722.07" width="1.3" height="1.0" fill="#333" fill-opacity="0.8"/>
<rect x="429.33" y="723.31" width="1.3" height="1.0" fill="#333" fill-opacity="0.8"/>
<rect x="435.44" y="724.53" width="1.3" height="1.0" fill="#333" fill-opacity="0.8"/>
<rect x="433.77" y="722.36" width="1.3" height="1.0" fill="#333" fill-opacity="0.8"/>
<rect x="438.74" y="722.34" width="1.3" height="1.0" fill="#333" fill-opacity="0.8"/>
<rect x="430.20" y="724.50" width="1.3" height="1.0" fill="#333" fill-opacity="0.8"/>
<rect x="443.14" y="724.02" width="1.3" height="1.0" fill="#333" fill-opacity="0.8"/>
<rect x="439.17" y="723.75" width="1.3" height="1.0" fill="#333" fill-opacity="0.8"/>
<rect x="424.76" y="722.74" width="1.3" height="1.0" fill="#333" fill-opacity="0.8"/>
<rect x="439.55" y="723.44" width="1.3" height="1.0" fill="#333" fill-opacity="0.8"/>
<rect x="431.70" y="722.97" width="1.3" height="1.0" fill="#333" fill-opacity="0.8"/>
<rect x="423.76" y="723.81" width="1.3" height="1.0" fill="#333" fill-opacity="0.8"/>
<rect x="418.89" y="723.73" width="1.3" height="1.0" fill="#333" fill-opacity="0.8"/>
<rect x="434.79" y="723.75" width="1.3" height="1.0" fill="#333" fill-opacity="0.8"/>
<rect x="449.69" y="722.42" width="1.3" height="1.0" fill="#333" fill-opacity="0.8"/>
<rect x="441.00" y="723.60" width="1.3" height="1.0" fill="#333" fill-opacity="0.8"/>
<rect x="438.01" y="723.24" width="1.3" height="1.0" fill="#333" fill-opacity="0.8"/>
<rect x="418.66" y="722.23" width="1.3" height="1.0" fill="#333" fill-opacity="0.8"/>
<rect x="443.42" y="724.01" width="1.3" height="1.0" fill="#333" fill-opacity="0.8"/>
<rect x="441.79" y="722.98" width="1.3" height="1.0" fill="#333" fill-opacity="0.8"/>
<rect x="427.16" y="724.32" width="1.3" height="1.0" fill="#333" fill-opacity="0.8"/>
<rect x="432.14" y="722.69" width="1.3" height="1.0" fill="#333" fill-opacity="0.8"/>
<rect x="422.12" y="723.10" width="1.3" height="1.0" fill="#333" fill-opacity="0.8"/>
<rect x="443.11" y="722.97" width="1.3" height="1.0" fill="#333" fill-opacity="0.8"/>
<rect x="433.12" y="722.34" width="1.3" height="1.0" fill="#333" fill-opacity="0.8"/>
<rect x="415.51" y="722.34" width="1.3" height="1.0" fill="#333" fill-opacity="0.8"/>
<rect x="426.10" y="722.54" width="1.3" height="1.0" fill="#333" fill-opacity="0.8"/>
<rect x="441.94" y="724.17" width="1.3" height="1.0" fill="#333" fill-opacity="0.8"/>
<line x1="418.52" y1="716.0" x2="418.52" y2="731.7" stroke="#000" stroke-width="0.9"/>
<line x1="420.04" y1="716.0" x2="420.04" y2="731.7" stroke="#000" stroke-width="0.9"/>
<line x1="421.55" y1="716.0" x2="421.55" y2="731.7" stroke="#000" stroke-width="0.9"/>
<line x1="433.43" y1="716.0" x2="433.43" y2="731.7" stroke="#000" stroke-width="0.9"/>
<line x1="434.95" y1="716.0" x2="434.95" y2="731.7" stroke="#000" stroke-width="0.9"/>
<line x1="436.47" y1="716.0" x2="436.47" y2="731.7" stroke="#000" stroke-width="0.9"/>
<text x="370.1" y="727.9" font-size="10" text-anchor="end" fill="#000" >Other</text>
<text x="478.7" y="727.9" font-size="10" text-anchor="start" fill="#000" >Other</text>
<line x1="374.1" y1="723.85" x2="375.6" y2="723.85" stroke="#666" stroke-width="0.7"/>
<line x1="475.20000000000005" y1="723.85" x2="473.70000000000005" y2="723.85" stroke="#666" stroke-width="0.7"/>
<line x1="374.1" y1="661.2" x2="475.20000000000005" y2="661.2" stroke="#7a7a7a" stroke-width="0.9"/>
<line x1="374.1" y1="679.2" x2="475.20000000000005" y2="679.2" stroke="#7a7a7a" stroke-width="0.9"/>
<line x1="374.1" y1="697.1" x2="475.20000000000005" y2="697.1" stroke="#7a7a7a" stroke-width="0.9"/>
<line x1="374.1" y1="715.0" x2="475.20000000000005" y2="715.0" stroke="#7a7a7a" stroke-width="0.9"/>
<rect x="374.1" y="643.4" width="101.1" height="89.3" fill="none" stroke="#7a7a7a" stroke-width="0.9"/>
<text x="374.1" y="747.5" font-size="10" text-anchor="middle" fill="#000" >80</text>
<line x1="374.10" y1="732.7" x2="374.10" y2="731" stroke="#666" stroke-width="0.7"/>
<text x="399.4" y="747.5" font-size="10" text-anchor="middle" fill="#000" >40</text>
<line x1="399.38" y1="732.7" x2="399.38" y2="731" stroke="#666" stroke-width="0.7"/>
<text x="424.7" y="747.5" font-size="10" text-anchor="middle" fill="#000" >0</text>
<line x1="424.65" y1="732.7" x2="424.65" y2="731" stroke="#666" stroke-width="0.7"/>
<text x="449.9" y="747.5" font-size="10" text-anchor="middle" fill="#000" >40</text>
<line x1="449.93" y1="732.7" x2="449.93" y2="731" stroke="#666" stroke-width="0.7"/>
<text x="475.2" y="747.5" font-size="10" text-anchor="middle" fill="#000" >80</text>
<line x1="475.20" y1="732.7" x2="475.20" y2="731" stroke="#666" stroke-width="0.7"/>
<text x="424.7" y="761.0" font-size="10.6" text-anchor="middle" fill="#000" >Coverage (%)</text>
<text x="511.5" y="632.5" font-size="21" text-anchor="start" font-weight="bold" fill="#000" >m</text>
<text x="526.9" y="642.0" font-size="10.4" text-anchor="start" font-weight="bold" fill="#000" >LH</text>
<text x="595.5" y="640.6" font-size="11" text-anchor="middle" font-weight="bold" fill="#000" >Targeting DP</text>
<text x="649.0" y="642.0" font-size="10.4" text-anchor="start" font-weight="bold" fill="#000" >RH</text>
<line x1="594.95" y1="643.4" x2="594.95" y2="661.2" stroke="#c03030" stroke-width="1"/>
<rect x="594.35" y="651.53" width="1.3" height="1.0" fill="#333" fill-opacity="0.8"/>
<rect x="594.35" y="651.54" width="1.3" height="1.0" fill="#333" fill-opacity="0.8"/>
<line x1="594.95" y1="649.3" x2="594.95" y2="655.3" stroke="#000" stroke-width="1.6"/>
<text x="540.4" y="656.3" font-size="10" text-anchor="end" fill="#000" >VA</text>
<text x="649.0" y="656.3" font-size="10" text-anchor="start" fill="#000" >VA</text>
<line x1="544.4" y1="652.30" x2="545.9" y2="652.30" stroke="#666" stroke-width="0.7"/>
<line x1="645.5" y1="652.30" x2="644.0" y2="652.30" stroke="#666" stroke-width="0.7"/>
<rect x="591.54" y="661.2" width="19.71" height="18.00" fill="#b4e8b4"/>
<line x1="594.95" y1="661.2" x2="594.95" y2="679.2" stroke="#208020" stroke-width="1"/>
<rect x="606.70" y="668.98" width="1.3" height="1.0" fill="#333" fill-opacity="0.8"/>
<rect x="596.56" y="668.85" width="1.3" height="1.0" fill="#333" fill-opacity="0.8"/>
<rect x="592.51" y="670.81" width="1.3" height="1.0" fill="#333" fill-opacity="0.8"/>
<rect x="582.81" y="670.50" width="1.3" height="1.0" fill="#333" fill-opacity="0.8"/>
<rect x="604.13" y="670.03" width="1.3" height="1.0" fill="#333" fill-opacity="0.8"/>
<rect x="609.77" y="670.62" width="1.3" height="1.0" fill="#333" fill-opacity="0.8"/>
<rect x="613.77" y="670.15" width="1.3" height="1.0" fill="#333" fill-opacity="0.8"/>
<rect x="590.12" y="669.63" width="1.3" height="1.0" fill="#333" fill-opacity="0.8"/>
<rect x="639.38" y="670.65" width="1.3" height="1.0" fill="#333" fill-opacity="0.8"/>
<rect x="598.09" y="670.76" width="1.3" height="1.0" fill="#333" fill-opacity="0.8"/>
<rect x="635.98" y="670.60" width="1.3" height="1.0" fill="#333" fill-opacity="0.8"/>
<rect x="605.49" y="669.96" width="1.3" height="1.0" fill="#333" fill-opacity="0.8"/>
<rect x="589.05" y="669.19" width="1.3" height="1.0" fill="#333" fill-opacity="0.8"/>
<rect x="608.66" y="668.51" width="1.3" height="1.0" fill="#333" fill-opacity="0.8"/>
<rect x="619.32" y="669.13" width="1.3" height="1.0" fill="#333" fill-opacity="0.8"/>
<rect x="609.22" y="669.29" width="1.3" height="1.0" fill="#333" fill-opacity="0.8"/>
<rect x="604.64" y="668.93" width="1.3" height="1.0" fill="#333" fill-opacity="0.8"/>
<rect x="611.61" y="669.12" width="1.3" height="1.0" fill="#333" fill-opacity="0.8"/>
<rect x="627.17" y="669.23" width="1.3" height="1.0" fill="#333" fill-opacity="0.8"/>
<rect x="637.41" y="668.66" width="1.3" height="1.0" fill="#333" fill-opacity="0.8"/>
<rect x="593.45" y="670.39" width="1.3" height="1.0" fill="#333" fill-opacity="0.8"/>
<rect x="601.58" y="668.86" width="1.3" height="1.0" fill="#333" fill-opacity="0.8"/>
<rect x="581.34" y="670.21" width="1.3" height="1.0" fill="#333" fill-opacity="0.8"/>
<rect x="610.74" y="670.88" width="1.3" height="1.0" fill="#333" fill-opacity="0.8"/>
<rect x="602.86" y="669.15" width="1.3" height="1.0" fill="#333" fill-opacity="0.8"/>
<rect x="600.26" y="670.42" width="1.3" height="1.0" fill="#333" fill-opacity="0.8"/>
<rect x="639.95" y="670.01" width="1.3" height="1.0" fill="#333" fill-opacity="0.8"/>
<rect x="598.84" y="669.55" width="1.3" height="1.0" fill="#333" fill-opacity="0.8"/>
<rect x="603.39" y="670.90" width="1.3" height="1.0" fill="#333" fill-opacity="0.8"/>
<rect x="579.16" y="668.52" width="1.3" height="1.0" fill="#333" fill-opacity="0.8"/>
<rect x="629.56" y="669.34" width="1.3" height="1.0" fill="#333" fill-opacity="0.8"/>
<rect x="584.87" y="670.95" width="1.3" height="1.0" fill="#333" fill-opacity="0.8"/>
<rect x="592.09" y="668.55" width="1.3" height="1.0" fill="#333" fill-opacity="0.8"/>
<rect x="589.53" y="670.16" width="1.3" height="1.0" fill="#333" fill-opacity="0.8"/>
<rect x="581.21" y="669.68" width="1.3" height="1.0" fill="#333" fill-opacity="0.8"/>
<rect x="643.48" y="668.72" width="1.3" height="1.0" fill="#333" fill-opacity="0.8"/>
<rect x="628.91" y="669.46" width="1.3" height="1.0" fill="#333" fill-opacity="0.8"/>
<rect x="607.78" y="669.64" width="1.3" height="1.0" fill="#333" fill-opacity="0.8"/>
<rect x="605.28" y="668.50" width="1.3" height="1.0" fill="#333" fill-opacity="0.8"/>
<rect x="594.73" y="670.71" width="1.3" height="1.0" fill="#333" fill-opacity="0.8"/>
<rect x="597.97" y="669.06" width="1.3" height="1.0" fill="#333" fill-opacity="0.8"/>
<rect x="592.09" y="669.00" width="1.3" height="1.0" fill="#333" fill-opacity="0.8"/>
<rect x="600.82" y="668.77" width="1.3" height="1.0" fill="#333" fill-opacity="0.8"/>
<rect x="638.95" y="669.87" width="1.3" height="1.0" fill="#333" fill-opacity="0.8"/>
<rect x="581.19" y="670.10" width="1.3" height="1.0" fill="#333" fill-opacity="0.8"/>
<line x1="590.02" y1="662.2" x2="590.02" y2="678.2" stroke="#108a10" stroke-width="0.9"/>
<line x1="591.54" y1="662.2" x2="591.54" y2="678.2" stroke="#108a10" stroke-width="0.9"/>
<line x1="593.05" y1="662.2" x2="593.05" y2="678.2" stroke="#108a10" stroke-width="0.9"/>
<line x1="609.74" y1="662.2" x2="609.74" y2="678.2" stroke="#108a10" stroke-width="0.9"/>
<line x1="611.25" y1="662.2" x2="611.25" y2="678.2" stroke="#108a10" stroke-width="0.9"/>
<line x1="612.77" y1="662.2" x2="612.77" y2="678.2" stroke="#108a10" stroke-width="0.9"/>
<text x="540.4" y="674.2" font-size="10" text-anchor="end" fill="#000" >VP</text>
<text x="649.0" y="674.2" font-size="10" text-anchor="start" fill="#000" >VP</text>
<line x1="544.4" y1="670.20" x2="545.9" y2="670.20" stroke="#666" stroke-width="0.7"/>
<line x1="645.5" y1="670.20" x2="644.0" y2="670.20" stroke="#666" stroke-width="0.7"/>
<rect x="594.13" y="679.2" width="5.81" height="17.90" fill="#b4b4ff"/>
<line x1="594.95" y1="679.2" x2="594.95" y2="697.1" stroke="#3030c0" stroke-width="1"/>
<rect x="601.57" y="688.29" width="1.3" height="1.0" fill="#333" fill-opacity="0.8"/>
<rect x="592.99" y="686.90" width="1.3" height="1.0" fill="#333" fill-opacity="0.8"/>
<rect x="604.10" y="687.23" width="1.3" height="1.0" fill="#333" fill-opacity="0.8"/>
<rect x="590.85" y="688.43" width="1.3" height="1.0" fill="#333" fill-opacity="0.8"/>
<rect x="598.46" y="688.05" width="1.3" height="1.0" fill="#333" fill-opacity="0.8"/>
<rect x="591.74" y="687.05" width="1.3" height="1.0" fill="#333" fill-opacity="0.8"/>
<rect x="598.01" y="688.87" width="1.3" height="1.0" fill="#333" fill-opacity="0.8"/>
<rect x="595.99" y="688.09" width="1.3" height="1.0" fill="#333" fill-opacity="0.8"/>
<rect x="625.08" y="686.68" width="1.3" height="1.0" fill="#333" fill-opacity="0.8"/>
<rect x="595.70" y="686.78" width="1.3" height="1.0" fill="#333" fill-opacity="0.8"/>
<rect x="595.16" y="687.83" width="1.3" height="1.0" fill="#333" fill-opacity="0.8"/>
<rect x="599.07" y="686.36" width="1.3" height="1.0" fill="#333" fill-opacity="0.8"/>
<rect x="595.15" y="686.38" width="1.3" height="1.0" fill="#333" fill-opacity="0.8"/>
<rect x="602.11" y="688.39" width="1.3" height="1.0" fill="#333" fill-opacity="0.8"/>
<rect x="601.49" y="687.78" width="1.3" height="1.0" fill="#333" fill-opacity="0.8"/>
<rect x="598.30" y="687.21" width="1.3" height="1.0" fill="#333" fill-opacity="0.8"/>
<rect x="602.37" y="688.36" width="1.3" height="1.0" fill="#333" fill-opacity="0.8"/>
<rect x="610.25" y="686.42" width="1.3" height="1.0" fill="#333" fill-opacity="0.8"/>
<rect x="612.96" y="687.62" width="1.3" height="1.0" fill="#333" fill-opacity="0.8"/>
<rect x="594.66" y="687.29" width="1.3" height="1.0" fill="#333" fill-opacity="0.8"/>
<rect x="595.00" y="687.71" width="1.3" height="1.0" fill="#333" fill-opacity="0.8"/>
<rect x="622.64" y="688.50" width="1.3" height="1.0" fill="#333" fill-opacity="0.8"/>
<rect x="610.93" y="687.34" width="1.3" height="1.0" fill="#333" fill-opacity="0.8"/>
<rect x="595.29" y="687.62" width="1.3" height="1.0" fill="#333" fill-opacity="0.8"/>
<rect x="599.26" y="686.60" width="1.3" height="1.0" fill="#333" fill-opacity="0.8"/>
<line x1="592.61" y1="680.2" x2="592.61" y2="696.1" stroke="#1a1aee" stroke-width="0.9"/>
<line x1="594.13" y1="680.2" x2="594.13" y2="696.1" stroke="#1a1aee" stroke-width="0.9"/>
<line x1="595.65" y1="680.2" x2="595.65" y2="696.1" stroke="#1a1aee" stroke-width="0.9"/>
<line x1="598.43" y1="680.2" x2="598.43" y2="696.1" stroke="#1a1aee" stroke-width="0.9"/>
<line x1="599.94" y1="680.2" x2="599.94" y2="696.1" stroke="#1a1aee" stroke-width="0.9"/>
<line x1="601.46" y1="680.2" x2="601.46" y2="696.1" stroke="#1a1aee" stroke-width="0.9"/>
<text x="540.4" y="692.2" font-size="10" text-anchor="end" fill="#000" >DA</text>
<text x="649.0" y="692.2" font-size="10" text-anchor="start" fill="#000" >DA</text>
<line x1="544.4" y1="688.15" x2="545.9" y2="688.15" stroke="#666" stroke-width="0.7"/>
<line x1="645.5" y1="688.15" x2="644.0" y2="688.15" stroke="#666" stroke-width="0.7"/>
<rect x="591.03" y="697.1" width="14.22" height="17.90" fill="#f0eeb0"/>
<line x1="594.95" y1="697.1" x2="594.95" y2="715.0" stroke="#707020" stroke-width="1"/>
<rect x="611.47" y="706.55" width="1.3" height="1.0" fill="#333" fill-opacity="0.8"/>
<rect x="599.65" y="706.48" width="1.3" height="1.0" fill="#333" fill-opacity="0.8"/>
<rect x="613.32" y="704.76" width="1.3" height="1.0" fill="#333" fill-opacity="0.8"/>
<rect x="625.09" y="705.35" width="1.3" height="1.0" fill="#333" fill-opacity="0.8"/>
<rect x="604.60" y="704.69" width="1.3" height="1.0" fill="#333" fill-opacity="0.8"/>
<rect x="599.67" y="705.54" width="1.3" height="1.0" fill="#333" fill-opacity="0.8"/>
<rect x="606.47" y="706.60" width="1.3" height="1.0" fill="#333" fill-opacity="0.8"/>
<rect x="601.80" y="704.26" width="1.3" height="1.0" fill="#333" fill-opacity="0.8"/>
<rect x="606.67" y="705.51" width="1.3" height="1.0" fill="#333" fill-opacity="0.8"/>
<rect x="594.24" y="704.89" width="1.3" height="1.0" fill="#333" fill-opacity="0.8"/>
<rect x="597.87" y="705.18" width="1.3" height="1.0" fill="#333" fill-opacity="0.8"/>
<rect x="609.25" y="706.01" width="1.3" height="1.0" fill="#333" fill-opacity="0.8"/>
<rect x="596.49" y="705.06" width="1.3" height="1.0" fill="#333" fill-opacity="0.8"/>
<rect x="579.50" y="705.04" width="1.3" height="1.0" fill="#333" fill-opacity="0.8"/>
<rect x="601.33" y="706.30" width="1.3" height="1.0" fill="#333" fill-opacity="0.8"/>
<rect x="593.23" y="706.25" width="1.3" height="1.0" fill="#333" fill-opacity="0.8"/>
<rect x="614.07" y="704.60" width="1.3" height="1.0" fill="#333" fill-opacity="0.8"/>
<rect x="581.33" y="706.35" width="1.3" height="1.0" fill="#333" fill-opacity="0.8"/>
<rect x="629.22" y="705.22" width="1.3" height="1.0" fill="#333" fill-opacity="0.8"/>
<rect x="594.38" y="705.86" width="1.3" height="1.0" fill="#333" fill-opacity="0.8"/>
<rect x="597.67" y="706.68" width="1.3" height="1.0" fill="#333" fill-opacity="0.8"/>
<rect x="613.57" y="705.10" width="1.3" height="1.0" fill="#333" fill-opacity="0.8"/>
<rect x="573.70" y="704.30" width="1.3" height="1.0" fill="#333" fill-opacity="0.8"/>
<rect x="599.18" y="706.41" width="1.3" height="1.0" fill="#333" fill-opacity="0.8"/>
<rect x="604.84" y="704.66" width="1.3" height="1.0" fill="#333" fill-opacity="0.8"/>
<rect x="603.53" y="705.74" width="1.3" height="1.0" fill="#333" fill-opacity="0.8"/>
<rect x="578.14" y="706.23" width="1.3" height="1.0" fill="#333" fill-opacity="0.8"/>
<rect x="606.57" y="706.01" width="1.3" height="1.0" fill="#333" fill-opacity="0.8"/>
<rect x="605.68" y="705.86" width="1.3" height="1.0" fill="#333" fill-opacity="0.8"/>
<rect x="591.28" y="705.31" width="1.3" height="1.0" fill="#333" fill-opacity="0.8"/>
<rect x="628.91" y="706.08" width="1.3" height="1.0" fill="#333" fill-opacity="0.8"/>
<rect x="586.79" y="705.10" width="1.3" height="1.0" fill="#333" fill-opacity="0.8"/>
<rect x="615.69" y="706.84" width="1.3" height="1.0" fill="#333" fill-opacity="0.8"/>
<rect x="590.68" y="706.38" width="1.3" height="1.0" fill="#333" fill-opacity="0.8"/>
<rect x="598.24" y="704.28" width="1.3" height="1.0" fill="#333" fill-opacity="0.8"/>
<rect x="606.37" y="706.05" width="1.3" height="1.0" fill="#333" fill-opacity="0.8"/>
<rect x="602.51" y="705.20" width="1.3" height="1.0" fill="#333" fill-opacity="0.8"/>
<rect x="594.05" y="704.43" width="1.3" height="1.0" fill="#333" fill-opacity="0.8"/>
<rect x="594.13" y="706.82" width="1.3" height="1.0" fill="#333" fill-opacity="0.8"/>
<rect x="591.78" y="704.49" width="1.3" height="1.0" fill="#333" fill-opacity="0.8"/>
<line x1="589.52" y1="698.1" x2="589.52" y2="714.0" stroke="#9a9a00" stroke-width="0.9"/>
<line x1="591.03" y1="698.1" x2="591.03" y2="714.0" stroke="#9a9a00" stroke-width="0.9"/>
<line x1="592.55" y1="698.1" x2="592.55" y2="714.0" stroke="#9a9a00" stroke-width="0.9"/>
<line x1="603.73" y1="698.1" x2="603.73" y2="714.0" stroke="#9a9a00" stroke-width="0.9"/>
<line x1="605.25" y1="698.1" x2="605.25" y2="714.0" stroke="#9a9a00" stroke-width="0.9"/>
<line x1="606.77" y1="698.1" x2="606.77" y2="714.0" stroke="#9a9a00" stroke-width="0.9"/>
<text x="540.4" y="710.0" font-size="10" text-anchor="end" fill="#000" >DP</text>
<text x="649.0" y="710.0" font-size="10" text-anchor="start" fill="#000" >DP</text>
<line x1="544.4" y1="706.05" x2="545.9" y2="706.05" stroke="#666" stroke-width="0.7"/>
<line x1="645.5" y1="706.05" x2="644.0" y2="706.05" stroke="#666" stroke-width="0.7"/>
<rect x="584.08" y="715.0" width="28.43" height="17.70" fill="#c4c4c4"/>
<line x1="594.95" y1="715.0" x2="594.95" y2="732.7" stroke="#333" stroke-width="1"/>
<rect x="589.57" y="724.46" width="1.3" height="1.0" fill="#333" fill-opacity="0.8"/>
<rect x="589.57" y="724.07" width="1.3" height="1.0" fill="#333" fill-opacity="0.8"/>
<rect x="590.70" y="722.83" width="1.3" height="1.0" fill="#333" fill-opacity="0.8"/>
<rect x="611.88" y="723.82" width="1.3" height="1.0" fill="#333" fill-opacity="0.8"/>
<rect x="640.81" y="722.73" width="1.3" height="1.0" fill="#333" fill-opacity="0.8"/>
<rect x="585.08" y="722.30" width="1.3" height="1.0" fill="#333" fill-opacity="0.8"/>
<rect x="596.13" y="722.37" width="1.3" height="1.0" fill="#333" fill-opacity="0.8"/>
<rect x="643.12" y="722.80" width="1.3" height="1.0" fill="#333" fill-opacity="0.8"/>
<rect x="621.11" y="723.88" width="1.3" height="1.0" fill="#333" fill-opacity="0.8"/>
<rect x="576.25" y="724.33" width="1.3" height="1.0" fill="#333" fill-opacity="0.8"/>
<rect x="566.05" y="723.51" width="1.3" height="1.0" fill="#333" fill-opacity="0.8"/>
<rect x="594.47" y="723.36" width="1.3" height="1.0" fill="#333" fill-opacity="0.8"/>
<rect x="632.82" y="723.31" width="1.3" height="1.0" fill="#333" fill-opacity="0.8"/>
<rect x="585.81" y="724.32" width="1.3" height="1.0" fill="#333" fill-opacity="0.8"/>
<rect x="601.33" y="723.82" width="1.3" height="1.0" fill="#333" fill-opacity="0.8"/>
<rect x="578.34" y="722.90" width="1.3" height="1.0" fill="#333" fill-opacity="0.8"/>
<rect x="603.54" y="722.12" width="1.3" height="1.0" fill="#333" fill-opacity="0.8"/>
<rect x="636.71" y="722.45" width="1.3" height="1.0" fill="#333" fill-opacity="0.8"/>
<rect x="633.11" y="724.19" width="1.3" height="1.0" fill="#333" fill-opacity="0.8"/>
<rect x="612.60" y="723.29" width="1.3" height="1.0" fill="#333" fill-opacity="0.8"/>
<rect x="602.38" y="722.53" width="1.3" height="1.0" fill="#333" fill-opacity="0.8"/>
<rect x="621.93" y="724.45" width="1.3" height="1.0" fill="#333" fill-opacity="0.8"/>
<rect x="597.16" y="723.04" width="1.3" height="1.0" fill="#333" fill-opacity="0.8"/>
<rect x="608.04" y="722.33" width="1.3" height="1.0" fill="#333" fill-opacity="0.8"/>
<rect x="579.89" y="724.42" width="1.3" height="1.0" fill="#333" fill-opacity="0.8"/>
<rect x="619.09" y="724.38" width="1.3" height="1.0" fill="#333" fill-opacity="0.8"/>
<rect x="618.99" y="722.71" width="1.3" height="1.0" fill="#333" fill-opacity="0.8"/>
<rect x="602.77" y="723.77" width="1.3" height="1.0" fill="#333" fill-opacity="0.8"/>
<rect x="636.38" y="723.68" width="1.3" height="1.0" fill="#333" fill-opacity="0.8"/>
<rect x="632.11" y="724.37" width="1.3" height="1.0" fill="#333" fill-opacity="0.8"/>
<rect x="614.55" y="723.87" width="1.3" height="1.0" fill="#333" fill-opacity="0.8"/>
<rect x="582.51" y="723.42" width="1.3" height="1.0" fill="#333" fill-opacity="0.8"/>
<rect x="593.85" y="723.91" width="1.3" height="1.0" fill="#333" fill-opacity="0.8"/>
<rect x="612.06" y="723.60" width="1.3" height="1.0" fill="#333" fill-opacity="0.8"/>
<rect x="588.09" y="722.24" width="1.3" height="1.0" fill="#333" fill-opacity="0.8"/>
<rect x="602.79" y="724.41" width="1.3" height="1.0" fill="#333" fill-opacity="0.8"/>
<rect x="629.56" y="724.20" width="1.3" height="1.0" fill="#333" fill-opacity="0.8"/>
<rect x="574.19" y="724.24" width="1.3" height="1.0" fill="#333" fill-opacity="0.8"/>
<rect x="626.43" y="723.67" width="1.3" height="1.0" fill="#333" fill-opacity="0.8"/>
<rect x="625.08" y="722.14" width="1.3" height="1.0" fill="#333" fill-opacity="0.8"/>
<rect x="584.20" y="722.99" width="1.3" height="1.0" fill="#333" fill-opacity="0.8"/>
<rect x="597.41" y="722.83" width="1.3" height="1.0" fill="#333" fill-opacity="0.8"/>
<rect x="616.17" y="722.14" width="1.3" height="1.0" fill="#333" fill-opacity="0.8"/>
<rect x="641.89" y="724.01" width="1.3" height="1.0" fill="#333" fill-opacity="0.8"/>
<rect x="569.22" y="722.83" width="1.3" height="1.0" fill="#333" fill-opacity="0.8"/>
<rect x="603.54" y="723.19" width="1.3" height="1.0" fill="#333" fill-opacity="0.8"/>
<rect x="575.38" y="724.36" width="1.3" height="1.0" fill="#333" fill-opacity="0.8"/>
<rect x="574.24" y="722.77" width="1.3" height="1.0" fill="#333" fill-opacity="0.8"/>
<rect x="579.54" y="724.24" width="1.3" height="1.0" fill="#333" fill-opacity="0.8"/>
<rect x="617.23" y="722.72" width="1.3" height="1.0" fill="#333" fill-opacity="0.8"/>
<rect x="576.22" y="722.74" width="1.3" height="1.0" fill="#333" fill-opacity="0.8"/>
<rect x="637.69" y="722.39" width="1.3" height="1.0" fill="#333" fill-opacity="0.8"/>
<rect x="609.69" y="722.28" width="1.3" height="1.0" fill="#333" fill-opacity="0.8"/>
<rect x="601.13" y="722.60" width="1.3" height="1.0" fill="#333" fill-opacity="0.8"/>
<rect x="603.58" y="723.79" width="1.3" height="1.0" fill="#333" fill-opacity="0.8"/>
<line x1="582.57" y1="716.0" x2="582.57" y2="731.7" stroke="#000" stroke-width="0.9"/>
<line x1="584.08" y1="716.0" x2="584.08" y2="731.7" stroke="#000" stroke-width="0.9"/>
<line x1="585.60" y1="716.0" x2="585.60" y2="731.7" stroke="#000" stroke-width="0.9"/>
<line x1="611.00" y1="716.0" x2="611.00" y2="731.7" stroke="#000" stroke-width="0.9"/>
<line x1="612.52" y1="716.0" x2="612.52" y2="731.7" stroke="#000" stroke-width="0.9"/>
<line x1="614.03" y1="716.0" x2="614.03" y2="731.7" stroke="#000" stroke-width="0.9"/>
<text x="540.4" y="727.9" font-size="10" text-anchor="end" fill="#000" >Other</text>
<text x="649.0" y="727.9" font-size="10" text-anchor="start" fill="#000" >Other</text>
<line x1="544.4" y1="723.85" x2="545.9" y2="723.85" stroke="#666" stroke-width="0.7"/>
<line x1="645.5" y1="723.85" x2="644.0" y2="723.85" stroke="#666" stroke-width="0.7"/>
<line x1="544.4" y1="661.2" x2="645.5" y2="661.2" stroke="#7a7a7a" stroke-width="0.9"/>
<line x1="544.4" y1="679.2" x2="645.5" y2="679.2" stroke="#7a7a7a" stroke-width="0.9"/>
<line x1="544.4" y1="697.1" x2="645.5" y2="697.1" stroke="#7a7a7a" stroke-width="0.9"/>
<line x1="544.4" y1="715.0" x2="645.5" y2="715.0" stroke="#7a7a7a" stroke-width="0.9"/>
<rect x="544.4" y="643.4" width="101.1" height="89.3" fill="none" stroke="#7a7a7a" stroke-width="0.9"/>
<text x="544.4" y="747.5" font-size="10" text-anchor="middle" fill="#000" >80</text>
<line x1="544.40" y1="732.7" x2="544.40" y2="731" stroke="#666" stroke-width="0.7"/>
<text x="569.7" y="747.5" font-size="10" text-anchor="middle" fill="#000" >40</text>
<line x1="569.68" y1="732.7" x2="569.68" y2="731" stroke="#666" stroke-width="0.7"/>
<text x="595.0" y="747.5" font-size="10" text-anchor="middle" fill="#000" >0</text>
<line x1="594.95" y1="732.7" x2="594.95" y2="731" stroke="#666" stroke-width="0.7"/>
<text x="620.2" y="747.5" font-size="10" text-anchor="middle" fill="#000" >40</text>
<line x1="620.23" y1="732.7" x2="620.23" y2="731" stroke="#666" stroke-width="0.7"/>
<text x="645.5" y="747.5" font-size="10" text-anchor="middle" fill="#000" >80</text>
<line x1="645.50" y1="732.7" x2="645.50" y2="731" stroke="#666" stroke-width="0.7"/>
<text x="595.0" y="761.0" font-size="10.6" text-anchor="middle" fill="#000" >Coverage (%)</text>
<rect x="571.3" y="517.3" width="13.6" height="66" fill="url(#cb0)"/>
<rect x="589.7" y="517.3" width="13.6" height="66" fill="url(#cb1)"/>
<rect x="608.2" y="517.3" width="13.6" height="66" fill="url(#cb2)"/>
<rect x="626.4" y="517.3" width="13.6" height="66" fill="url(#cb3)"/>
<text x="578.1" y="592.3" font-size="9.3" text-anchor="middle" fill="#000" >VA</text>
<text x="596.5" y="592.3" font-size="9.3" text-anchor="middle" fill="#000" >VP</text>
<text x="615.0" y="592.3" font-size="9.3" text-anchor="middle" fill="#000" >DA</text>
<text x="633.2" y="592.3" font-size="9.3" text-anchor="middle" fill="#000" >DP</text>
<text x="606.0" y="603.2" font-size="9.3" text-anchor="middle" fill="#000" >Target region</text>
<text x="641.2" y="519.8" font-size="9" text-anchor="start" fill="#000" >40</text>
<text x="641.2" y="551.9" font-size="9" text-anchor="start" fill="#000" >20</text>
<text x="641.2" y="583.8" font-size="9" text-anchor="start" fill="#000" >0</text>
<text transform="translate(664,550) rotate(90)" font-size="9" text-anchor="middle">Mean relative</text>
<text transform="translate(655,551) rotate(90)" font-size="9" text-anchor="middle">intensity (%)</text>
</svg></body></html>
